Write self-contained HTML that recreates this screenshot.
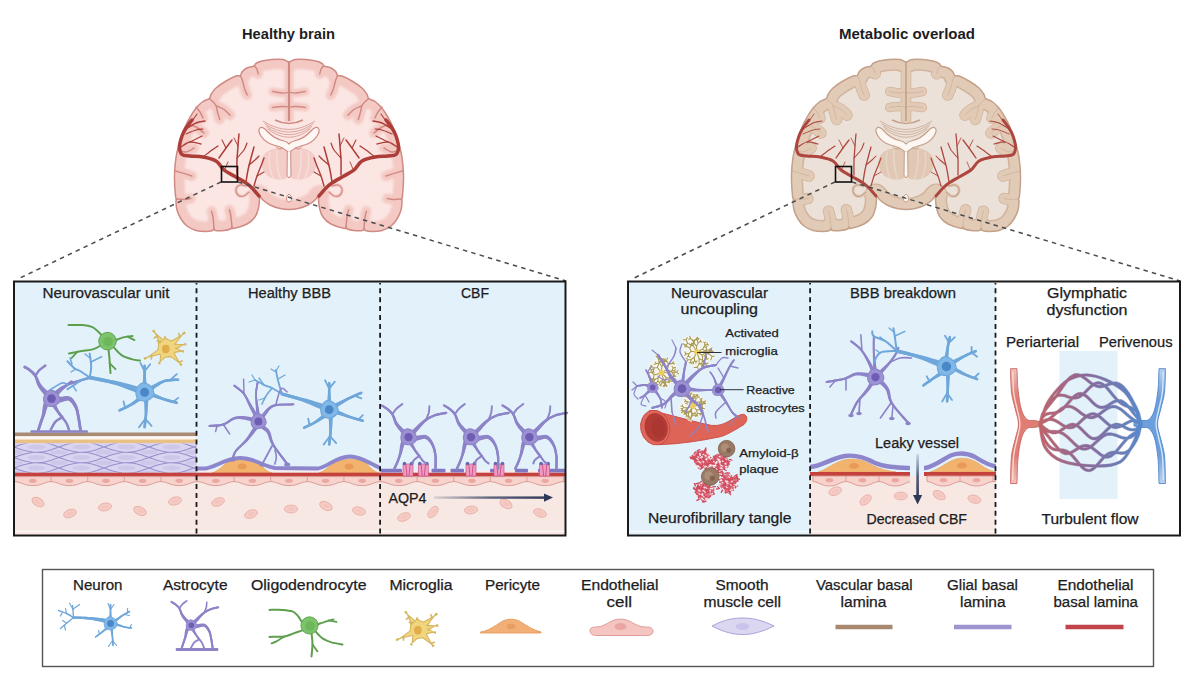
<!DOCTYPE html>
<html><head><meta charset="utf-8">
<style>
html,body{margin:0;padding:0;background:#fff;}
#c{position:relative;width:1200px;height:674px;overflow:hidden;background:#fff;}
svg{position:absolute;left:0;top:0;}
text{font-family:"Liberation Sans",sans-serif;fill:#1c1c22;stroke:#1c1c22;stroke-width:0.25px;}
</style></head><body><div id="c">
<svg width="1200" height="674" viewBox="0 0 1200 674">
<defs>
<linearGradient id="arrH" x1="0" x2="1" y1="0" y2="0"><stop offset="0" stop-color="#3a4668" stop-opacity="0.15"/><stop offset="0.5" stop-color="#3a4668" stop-opacity="0.8"/><stop offset="1" stop-color="#2e3858"/></linearGradient>
<linearGradient id="arrV" x1="0" x2="0" y1="0" y2="1"><stop offset="0" stop-color="#3a4668" stop-opacity="0.15"/><stop offset="0.5" stop-color="#3a4668" stop-opacity="0.85"/><stop offset="1" stop-color="#2e3858"/></linearGradient>
<linearGradient id="glyG" x1="0" x2="1" y1="0" y2="0"><stop offset="0" stop-color="#d9665e"/><stop offset="0.5" stop-color="#8a6a98"/><stop offset="1" stop-color="#4f8fd6"/></linearGradient>
</defs>

<!-- titles -->
<text x="242" y="38.5" font-size="15" font-weight="bold" style="stroke-width:0" textLength="93" lengthAdjust="spacingAndGlyphs">Healthy brain</text>
<text x="839" y="38.5" font-size="15" font-weight="bold" style="stroke-width:0" textLength="136" lengthAdjust="spacingAndGlyphs">Metabolic overload</text>

<defs><clipPath id="bclip"><path d="M289.0,62.0 C287.0,62.0 285.8,59.9 283.0,59.5 C280.2,59.1 275.5,59.2 272.0,59.5 C268.5,59.8 264.7,60.3 262.0,61.0 C259.3,61.7 257.3,62.7 256.0,63.5 C254.7,64.3 255.0,65.5 254.2,66.0 C253.4,66.5 252.4,66.4 251.0,66.8 C249.6,67.2 247.5,67.6 246.0,68.5 C244.5,69.4 242.9,70.8 242.0,72.0 C241.1,73.2 241.3,74.8 240.3,75.5 C239.3,76.2 238.4,75.1 236.0,76.0 C233.6,76.9 229.3,79.0 226.0,81.0 C222.7,83.0 218.5,85.8 216.0,88.0 C213.5,90.2 212.1,92.8 211.0,94.5 C209.9,96.2 210.6,97.3 209.3,98.5 C208.0,99.7 205.1,100.1 203.0,101.5 C200.9,102.9 198.8,104.9 197.0,107.0 C195.2,109.1 193.8,111.0 192.0,114.0 C190.2,117.0 187.8,121.0 186.0,125.0 C184.2,129.0 182.5,133.5 181.0,138.0 C179.5,142.5 178.0,147.3 177.0,152.0 C176.0,156.7 175.4,161.3 175.0,166.0 C174.6,170.7 174.4,175.0 174.5,180.0 C174.6,185.0 175.2,192.8 175.5,196.0 C175.8,199.2 176.4,198.0 176.5,199.0 C176.6,200.0 175.9,200.2 176.0,202.0 C176.1,203.8 176.2,207.2 177.0,210.0 C177.8,212.8 179.3,216.3 181.0,219.0 C182.7,221.7 184.5,224.1 187.0,226.0 C189.5,227.9 192.8,229.6 196.0,230.5 C199.2,231.4 203.2,231.5 206.0,231.5 C208.8,231.5 211.2,231.0 212.5,230.5 C213.8,230.0 213.5,228.5 214.0,228.5 C214.5,228.5 213.8,230.2 215.5,230.5 C217.2,230.8 221.5,230.8 224.0,230.5 C226.5,230.2 229.2,229.6 230.5,229.0 C231.8,228.4 231.5,227.1 232.0,227.0 C232.5,226.9 231.0,229.0 233.5,228.5 C236.0,228.0 243.4,225.9 247.0,224.0 C250.6,222.1 253.1,219.7 255.0,217.0 C256.9,214.3 257.8,211.0 258.5,208.0 C259.2,205.0 259.4,201.2 259.5,199.0 C259.6,196.8 258.4,194.8 259.0,195.0 C259.6,195.2 261.2,198.3 263.0,200.0 C264.8,201.7 267.2,203.6 270.0,205.0 C272.8,206.4 276.8,207.8 280.0,208.5 C283.2,209.2 286.0,209.5 289.0,209.5 C292.0,209.5 294.8,209.2 298.0,208.5 C301.2,207.8 305.2,206.4 308.0,205.0 C310.8,203.6 313.2,201.7 315.0,200.0 C316.8,198.3 318.4,195.2 319.0,195.0 C319.6,194.8 318.4,196.8 318.5,199.0 C318.6,201.2 318.8,205.0 319.5,208.0 C320.2,211.0 321.1,214.3 323.0,217.0 C324.9,219.7 327.4,222.1 331.0,224.0 C334.6,225.9 342.0,228.0 344.5,228.5 C347.0,229.0 345.5,226.9 346.0,227.0 C346.5,227.1 346.2,228.4 347.5,229.0 C348.8,229.6 351.5,230.2 354.0,230.5 C356.5,230.8 360.8,230.8 362.5,230.5 C364.2,230.2 363.5,228.5 364.0,228.5 C364.5,228.5 364.2,230.0 365.5,230.5 C366.8,231.0 369.2,231.5 372.0,231.5 C374.8,231.5 378.8,231.4 382.0,230.5 C385.2,229.6 388.5,227.9 391.0,226.0 C393.5,224.1 395.3,221.7 397.0,219.0 C398.7,216.3 400.2,212.8 401.0,210.0 C401.8,207.2 401.9,203.8 402.0,202.0 C402.1,200.2 401.4,200.0 401.5,199.0 C401.6,198.0 402.2,199.2 402.5,196.0 C402.8,192.8 403.4,185.0 403.5,180.0 C403.6,175.0 403.4,170.7 403.0,166.0 C402.6,161.3 402.0,156.7 401.0,152.0 C400.0,147.3 398.5,142.5 397.0,138.0 C395.5,133.5 393.8,129.0 392.0,125.0 C390.2,121.0 387.8,117.0 386.0,114.0 C384.2,111.0 382.8,109.1 381.0,107.0 C379.2,104.9 377.1,102.9 375.0,101.5 C372.9,100.1 370.0,99.7 368.7,98.5 C367.4,97.3 368.1,96.2 367.0,94.5 C365.9,92.8 364.5,90.2 362.0,88.0 C359.5,85.8 355.3,83.0 352.0,81.0 C348.7,79.0 344.4,76.9 342.0,76.0 C339.6,75.1 338.7,76.2 337.7,75.5 C336.7,74.8 336.9,73.2 336.0,72.0 C335.1,70.8 333.5,69.4 332.0,68.5 C330.5,67.6 328.4,67.2 327.0,66.8 C325.6,66.4 324.6,66.5 323.8,66.0 C323.0,65.5 323.3,64.3 322.0,63.5 C320.7,62.7 318.7,61.7 316.0,61.0 C313.3,60.3 309.5,59.8 306.0,59.5 C302.5,59.2 297.8,59.1 295.0,59.5 C292.2,59.9 291.0,62.0 289.0,62.0Z"/></clipPath><filter id="bblur" x="-10%" y="-10%" width="120%" height="120%"><feGaussianBlur stdDeviation="1.3"/></filter></defs>
<g transform="translate(0,0)">
<path d="M289.0,62.0 C287.0,62.0 285.8,59.9 283.0,59.5 C280.2,59.1 275.5,59.2 272.0,59.5 C268.5,59.8 264.7,60.3 262.0,61.0 C259.3,61.7 257.3,62.7 256.0,63.5 C254.7,64.3 255.0,65.5 254.2,66.0 C253.4,66.5 252.4,66.4 251.0,66.8 C249.6,67.2 247.5,67.6 246.0,68.5 C244.5,69.4 242.9,70.8 242.0,72.0 C241.1,73.2 241.3,74.8 240.3,75.5 C239.3,76.2 238.4,75.1 236.0,76.0 C233.6,76.9 229.3,79.0 226.0,81.0 C222.7,83.0 218.5,85.8 216.0,88.0 C213.5,90.2 212.1,92.8 211.0,94.5 C209.9,96.2 210.6,97.3 209.3,98.5 C208.0,99.7 205.1,100.1 203.0,101.5 C200.9,102.9 198.8,104.9 197.0,107.0 C195.2,109.1 193.8,111.0 192.0,114.0 C190.2,117.0 187.8,121.0 186.0,125.0 C184.2,129.0 182.5,133.5 181.0,138.0 C179.5,142.5 178.0,147.3 177.0,152.0 C176.0,156.7 175.4,161.3 175.0,166.0 C174.6,170.7 174.4,175.0 174.5,180.0 C174.6,185.0 175.2,192.8 175.5,196.0 C175.8,199.2 176.4,198.0 176.5,199.0 C176.6,200.0 175.9,200.2 176.0,202.0 C176.1,203.8 176.2,207.2 177.0,210.0 C177.8,212.8 179.3,216.3 181.0,219.0 C182.7,221.7 184.5,224.1 187.0,226.0 C189.5,227.9 192.8,229.6 196.0,230.5 C199.2,231.4 203.2,231.5 206.0,231.5 C208.8,231.5 211.2,231.0 212.5,230.5 C213.8,230.0 213.5,228.5 214.0,228.5 C214.5,228.5 213.8,230.2 215.5,230.5 C217.2,230.8 221.5,230.8 224.0,230.5 C226.5,230.2 229.2,229.6 230.5,229.0 C231.8,228.4 231.5,227.1 232.0,227.0 C232.5,226.9 231.0,229.0 233.5,228.5 C236.0,228.0 243.4,225.9 247.0,224.0 C250.6,222.1 253.1,219.7 255.0,217.0 C256.9,214.3 257.8,211.0 258.5,208.0 C259.2,205.0 259.4,201.2 259.5,199.0 C259.6,196.8 258.4,194.8 259.0,195.0 C259.6,195.2 261.2,198.3 263.0,200.0 C264.8,201.7 267.2,203.6 270.0,205.0 C272.8,206.4 276.8,207.8 280.0,208.5 C283.2,209.2 286.0,209.5 289.0,209.5 C292.0,209.5 294.8,209.2 298.0,208.5 C301.2,207.8 305.2,206.4 308.0,205.0 C310.8,203.6 313.2,201.7 315.0,200.0 C316.8,198.3 318.4,195.2 319.0,195.0 C319.6,194.8 318.4,196.8 318.5,199.0 C318.6,201.2 318.8,205.0 319.5,208.0 C320.2,211.0 321.1,214.3 323.0,217.0 C324.9,219.7 327.4,222.1 331.0,224.0 C334.6,225.9 342.0,228.0 344.5,228.5 C347.0,229.0 345.5,226.9 346.0,227.0 C346.5,227.1 346.2,228.4 347.5,229.0 C348.8,229.6 351.5,230.2 354.0,230.5 C356.5,230.8 360.8,230.8 362.5,230.5 C364.2,230.2 363.5,228.5 364.0,228.5 C364.5,228.5 364.2,230.0 365.5,230.5 C366.8,231.0 369.2,231.5 372.0,231.5 C374.8,231.5 378.8,231.4 382.0,230.5 C385.2,229.6 388.5,227.9 391.0,226.0 C393.5,224.1 395.3,221.7 397.0,219.0 C398.7,216.3 400.2,212.8 401.0,210.0 C401.8,207.2 401.9,203.8 402.0,202.0 C402.1,200.2 401.4,200.0 401.5,199.0 C401.6,198.0 402.2,199.2 402.5,196.0 C402.8,192.8 403.4,185.0 403.5,180.0 C403.6,175.0 403.4,170.7 403.0,166.0 C402.6,161.3 402.0,156.7 401.0,152.0 C400.0,147.3 398.5,142.5 397.0,138.0 C395.5,133.5 393.8,129.0 392.0,125.0 C390.2,121.0 387.8,117.0 386.0,114.0 C384.2,111.0 382.8,109.1 381.0,107.0 C379.2,104.9 377.1,102.9 375.0,101.5 C372.9,100.1 370.0,99.7 368.7,98.5 C367.4,97.3 368.1,96.2 367.0,94.5 C365.9,92.8 364.5,90.2 362.0,88.0 C359.5,85.8 355.3,83.0 352.0,81.0 C348.7,79.0 344.4,76.9 342.0,76.0 C339.6,75.1 338.7,76.2 337.7,75.5 C336.7,74.8 336.9,73.2 336.0,72.0 C335.1,70.8 333.5,69.4 332.0,68.5 C330.5,67.6 328.4,67.2 327.0,66.8 C325.6,66.4 324.6,66.5 323.8,66.0 C323.0,65.5 323.3,64.3 322.0,63.5 C320.7,62.7 318.7,61.7 316.0,61.0 C313.3,60.3 309.5,59.8 306.0,59.5 C302.5,59.2 297.8,59.1 295.0,59.5 C292.2,59.9 291.0,62.0 289.0,62.0Z" fill="#fbe6e3"/>
<g clip-path="url(#bclip)"><g filter="url(#bblur)">
<path d="M289.0,62.0 C287.0,62.0 285.8,59.9 283.0,59.5 C280.2,59.1 275.5,59.2 272.0,59.5 C268.5,59.8 264.7,60.3 262.0,61.0 C259.3,61.7 257.3,62.7 256.0,63.5 C254.7,64.3 255.0,65.5 254.2,66.0 C253.4,66.5 252.4,66.4 251.0,66.8 C249.6,67.2 247.5,67.6 246.0,68.5 C244.5,69.4 242.9,70.8 242.0,72.0 C241.1,73.2 241.3,74.8 240.3,75.5 C239.3,76.2 238.4,75.1 236.0,76.0 C233.6,76.9 229.3,79.0 226.0,81.0 C222.7,83.0 218.5,85.8 216.0,88.0 C213.5,90.2 212.1,92.8 211.0,94.5 C209.9,96.2 210.6,97.3 209.3,98.5 C208.0,99.7 205.1,100.1 203.0,101.5 C200.9,102.9 198.8,104.9 197.0,107.0 C195.2,109.1 193.8,111.0 192.0,114.0 C190.2,117.0 187.8,121.0 186.0,125.0 C184.2,129.0 182.5,133.5 181.0,138.0 C179.5,142.5 178.0,147.3 177.0,152.0 C176.0,156.7 175.4,161.3 175.0,166.0 C174.6,170.7 174.4,175.0 174.5,180.0 C174.6,185.0 175.2,192.8 175.5,196.0 C175.8,199.2 176.4,198.0 176.5,199.0 C176.6,200.0 175.9,200.2 176.0,202.0 C176.1,203.8 176.2,207.2 177.0,210.0 C177.8,212.8 179.3,216.3 181.0,219.0 C182.7,221.7 184.5,224.1 187.0,226.0 C189.5,227.9 192.8,229.6 196.0,230.5 C199.2,231.4 203.2,231.5 206.0,231.5 C208.8,231.5 211.2,231.0 212.5,230.5 C213.8,230.0 213.5,228.5 214.0,228.5 C214.5,228.5 213.8,230.2 215.5,230.5 C217.2,230.8 221.5,230.8 224.0,230.5 C226.5,230.2 229.2,229.6 230.5,229.0 C231.8,228.4 231.5,227.1 232.0,227.0 C232.5,226.9 231.0,229.0 233.5,228.5 C236.0,228.0 243.4,225.9 247.0,224.0 C250.6,222.1 253.1,219.7 255.0,217.0 C256.9,214.3 257.8,211.0 258.5,208.0 C259.2,205.0 259.4,201.2 259.5,199.0 C259.6,196.8 258.4,194.8 259.0,195.0 C259.6,195.2 261.2,198.3 263.0,200.0 C264.8,201.7 267.2,203.6 270.0,205.0 C272.8,206.4 276.8,207.8 280.0,208.5 C283.2,209.2 286.0,209.5 289.0,209.5 C292.0,209.5 294.8,209.2 298.0,208.5 C301.2,207.8 305.2,206.4 308.0,205.0 C310.8,203.6 313.2,201.7 315.0,200.0 C316.8,198.3 318.4,195.2 319.0,195.0 C319.6,194.8 318.4,196.8 318.5,199.0 C318.6,201.2 318.8,205.0 319.5,208.0 C320.2,211.0 321.1,214.3 323.0,217.0 C324.9,219.7 327.4,222.1 331.0,224.0 C334.6,225.9 342.0,228.0 344.5,228.5 C347.0,229.0 345.5,226.9 346.0,227.0 C346.5,227.1 346.2,228.4 347.5,229.0 C348.8,229.6 351.5,230.2 354.0,230.5 C356.5,230.8 360.8,230.8 362.5,230.5 C364.2,230.2 363.5,228.5 364.0,228.5 C364.5,228.5 364.2,230.0 365.5,230.5 C366.8,231.0 369.2,231.5 372.0,231.5 C374.8,231.5 378.8,231.4 382.0,230.5 C385.2,229.6 388.5,227.9 391.0,226.0 C393.5,224.1 395.3,221.7 397.0,219.0 C398.7,216.3 400.2,212.8 401.0,210.0 C401.8,207.2 401.9,203.8 402.0,202.0 C402.1,200.2 401.4,200.0 401.5,199.0 C401.6,198.0 402.2,199.2 402.5,196.0 C402.8,192.8 403.4,185.0 403.5,180.0 C403.6,175.0 403.4,170.7 403.0,166.0 C402.6,161.3 402.0,156.7 401.0,152.0 C400.0,147.3 398.5,142.5 397.0,138.0 C395.5,133.5 393.8,129.0 392.0,125.0 C390.2,121.0 387.8,117.0 386.0,114.0 C384.2,111.0 382.8,109.1 381.0,107.0 C379.2,104.9 377.1,102.9 375.0,101.5 C372.9,100.1 370.0,99.7 368.7,98.5 C367.4,97.3 368.1,96.2 367.0,94.5 C365.9,92.8 364.5,90.2 362.0,88.0 C359.5,85.8 355.3,83.0 352.0,81.0 C348.7,79.0 344.4,76.9 342.0,76.0 C339.6,75.1 338.7,76.2 337.7,75.5 C336.7,74.8 336.9,73.2 336.0,72.0 C335.1,70.8 333.5,69.4 332.0,68.5 C330.5,67.6 328.4,67.2 327.0,66.8 C325.6,66.4 324.6,66.5 323.8,66.0 C323.0,65.5 323.3,64.3 322.0,63.5 C320.7,62.7 318.7,61.7 316.0,61.0 C313.3,60.3 309.5,59.8 306.0,59.5 C302.5,59.2 297.8,59.1 295.0,59.5 C292.2,59.9 291.0,62.0 289.0,62.0Z" fill="none" stroke="#f4c9c4" stroke-width="20"/>
<path d="M240.3,75.5 C240.7,76.4 241.9,78.7 242.6,81.0 C243.3,83.3 243.9,87.0 244.7,89.3 C245.5,91.6 246.8,94.0 247.2,95.0" fill="none" stroke="#f4c9c4" stroke-width="10" stroke-linecap="round"/>
<path d="M254.2,66.0 C254.6,66.4 255.9,67.2 256.6,68.5 C257.3,69.8 257.9,72.8 258.2,73.7" fill="none" stroke="#f4c9c4" stroke-width="10" stroke-linecap="round"/>
<path d="M209.3,98.5 C210.4,99.5 214.2,102.5 215.6,104.8 C217.0,107.0 216.8,109.6 217.5,112.0 C218.2,114.4 219.3,118.2 219.7,119.4" fill="none" stroke="#f4c9c4" stroke-width="10" stroke-linecap="round"/>
<path d="M216.6,105.9 C217.8,106.5 221.8,108.0 224.0,109.5 C226.2,111.0 229.0,114.2 230.0,115.2" fill="none" stroke="#f4c9c4" stroke-width="10" stroke-linecap="round"/>
<path d="M196.0,107.0 C196.7,107.8 198.8,110.2 200.0,112.0 C201.2,113.8 202.5,117.0 203.0,118.0" fill="none" stroke="#f4c9c4" stroke-width="10" stroke-linecap="round"/>
<path d="M187.0,124.0 C188.5,124.5 193.2,125.5 196.0,127.0 C198.8,128.5 202.7,132.0 204.0,133.0" fill="none" stroke="#f4c9c4" stroke-width="10" stroke-linecap="round"/>
<path d="M176.0,199.0 C177.5,199.1 182.3,199.5 184.8,199.4 C187.3,199.3 189.8,198.7 190.8,198.6" fill="none" stroke="#f4c9c4" stroke-width="10" stroke-linecap="round"/>
<path d="M175.5,171.0 C177.3,171.5 183.6,173.3 186.3,174.1 C189.1,174.9 191.1,175.7 192.0,176.0" fill="none" stroke="#f4c9c4" stroke-width="10" stroke-linecap="round"/>
<path d="M214.0,228.5 C213.8,226.6 213.4,220.1 213.0,217.2 C212.6,214.3 211.8,212.2 211.6,211.2" fill="none" stroke="#f4c9c4" stroke-width="10" stroke-linecap="round"/>
<path d="M232.0,227.0 C231.8,225.1 231.2,218.6 230.8,215.7 C230.4,212.8 229.6,210.8 229.4,209.8" fill="none" stroke="#f4c9c4" stroke-width="10" stroke-linecap="round"/>
<path d="M178.0,150.0 C179.3,150.3 183.3,152.3 186.0,152.0 C188.7,151.7 192.7,148.7 194.0,148.0" fill="none" stroke="#f4c9c4" stroke-width="10" stroke-linecap="round"/>
<path d="M337.7,75.5 C337.3,76.4 336.1,78.7 335.4,81.0 C334.7,83.3 334.1,87.0 333.3,89.3 C332.5,91.6 331.2,94.0 330.8,95.0" fill="none" stroke="#f4c9c4" stroke-width="10" stroke-linecap="round"/>
<path d="M323.8,66.0 C323.4,66.4 322.1,67.2 321.4,68.5 C320.7,69.8 320.1,72.8 319.8,73.7" fill="none" stroke="#f4c9c4" stroke-width="10" stroke-linecap="round"/>
<path d="M368.7,98.5 C367.6,99.5 363.8,102.5 362.4,104.8 C361.0,107.0 361.2,109.6 360.5,112.0 C359.8,114.4 358.7,118.2 358.3,119.4" fill="none" stroke="#f4c9c4" stroke-width="10" stroke-linecap="round"/>
<path d="M361.4,105.9 C360.2,106.5 356.2,108.0 354.0,109.5 C351.8,111.0 349.0,114.2 348.0,115.2" fill="none" stroke="#f4c9c4" stroke-width="10" stroke-linecap="round"/>
<path d="M382.0,107.0 C381.3,107.8 379.2,110.2 378.0,112.0 C376.8,113.8 375.5,117.0 375.0,118.0" fill="none" stroke="#f4c9c4" stroke-width="10" stroke-linecap="round"/>
<path d="M391.0,124.0 C389.5,124.5 384.8,125.5 382.0,127.0 C379.2,128.5 375.3,132.0 374.0,133.0" fill="none" stroke="#f4c9c4" stroke-width="10" stroke-linecap="round"/>
<path d="M402.0,199.0 C400.5,199.1 395.7,199.5 393.2,199.4 C390.7,199.3 388.2,198.7 387.2,198.6" fill="none" stroke="#f4c9c4" stroke-width="10" stroke-linecap="round"/>
<path d="M402.5,171.0 C400.7,171.5 394.4,173.3 391.7,174.1 C388.9,174.9 386.9,175.7 386.0,176.0" fill="none" stroke="#f4c9c4" stroke-width="10" stroke-linecap="round"/>
<path d="M364.0,228.5 C364.2,226.6 364.6,220.1 365.0,217.2 C365.4,214.3 366.2,212.2 366.4,211.2" fill="none" stroke="#f4c9c4" stroke-width="10" stroke-linecap="round"/>
<path d="M346.0,227.0 C346.2,225.1 346.8,218.6 347.2,215.7 C347.6,212.8 348.4,210.8 348.6,209.8" fill="none" stroke="#f4c9c4" stroke-width="10" stroke-linecap="round"/>
<path d="M400.0,150.0 C398.7,150.3 394.7,152.3 392.0,152.0 C389.3,151.7 385.3,148.7 384.0,148.0" fill="none" stroke="#f4c9c4" stroke-width="10" stroke-linecap="round"/>
<path d="M289.0,92.4 C287.8,92.5 284.7,93.2 282.0,93.0 C279.3,92.8 274.2,91.8 272.7,91.5" fill="none" stroke="#f4c9c4" stroke-width="8" stroke-linecap="round"/>
<path d="M289.0,107.0 C287.8,106.9 284.7,106.4 282.0,106.5 C279.3,106.6 274.2,107.3 272.7,107.5" fill="none" stroke="#f4c9c4" stroke-width="8" stroke-linecap="round"/>
<path d="M289.0,92.4 C290.2,92.5 293.3,93.2 296.0,93.0 C298.7,92.8 303.8,91.8 305.3,91.5" fill="none" stroke="#f4c9c4" stroke-width="8" stroke-linecap="round"/>
<path d="M289.0,107.0 C290.2,106.9 293.3,106.4 296.0,106.5 C298.7,106.6 303.8,107.3 305.3,107.5" fill="none" stroke="#f4c9c4" stroke-width="8" stroke-linecap="round"/>
<path d="M289,60 L289,122" stroke="#f4c9c4" stroke-width="9"/>
</g></g>
<path d="M240.3,75.5 C240.7,76.4 241.9,78.7 242.6,81.0 C243.3,83.3 243.9,87.0 244.7,89.3 C245.5,91.6 246.8,94.0 247.2,95.0" fill="none" stroke="#d08a84" stroke-width="1.5" stroke-linecap="round"/>
<path d="M254.2,66.0 C254.6,66.4 255.9,67.2 256.6,68.5 C257.3,69.8 257.9,72.8 258.2,73.7" fill="none" stroke="#d08a84" stroke-width="1.5" stroke-linecap="round"/>
<path d="M209.3,98.5 C210.4,99.5 214.2,102.5 215.6,104.8 C217.0,107.0 216.8,109.6 217.5,112.0 C218.2,114.4 219.3,118.2 219.7,119.4" fill="none" stroke="#d08a84" stroke-width="1.5" stroke-linecap="round"/>
<path d="M216.6,105.9 C217.8,106.5 221.8,108.0 224.0,109.5 C226.2,111.0 229.0,114.2 230.0,115.2" fill="none" stroke="#d08a84" stroke-width="1.5" stroke-linecap="round"/>
<path d="M196.0,107.0 C196.7,107.8 198.8,110.2 200.0,112.0 C201.2,113.8 202.5,117.0 203.0,118.0" fill="none" stroke="#d08a84" stroke-width="1.5" stroke-linecap="round"/>
<path d="M187.0,124.0 C188.5,124.5 193.2,125.5 196.0,127.0 C198.8,128.5 202.7,132.0 204.0,133.0" fill="none" stroke="#d08a84" stroke-width="1.5" stroke-linecap="round"/>
<path d="M176.0,199.0 C177.5,199.1 182.3,199.5 184.8,199.4 C187.3,199.3 189.8,198.7 190.8,198.6" fill="none" stroke="#d08a84" stroke-width="1.5" stroke-linecap="round"/>
<path d="M175.5,171.0 C177.3,171.5 183.6,173.3 186.3,174.1 C189.1,174.9 191.1,175.7 192.0,176.0" fill="none" stroke="#d08a84" stroke-width="1.5" stroke-linecap="round"/>
<path d="M214.0,228.5 C213.8,226.6 213.4,220.1 213.0,217.2 C212.6,214.3 211.8,212.2 211.6,211.2" fill="none" stroke="#d08a84" stroke-width="1.5" stroke-linecap="round"/>
<path d="M232.0,227.0 C231.8,225.1 231.2,218.6 230.8,215.7 C230.4,212.8 229.6,210.8 229.4,209.8" fill="none" stroke="#d08a84" stroke-width="1.5" stroke-linecap="round"/>
<path d="M178.0,150.0 C179.3,150.3 183.3,152.3 186.0,152.0 C188.7,151.7 192.7,148.7 194.0,148.0" fill="none" stroke="#d08a84" stroke-width="1.5" stroke-linecap="round"/>
<path d="M337.7,75.5 C337.3,76.4 336.1,78.7 335.4,81.0 C334.7,83.3 334.1,87.0 333.3,89.3 C332.5,91.6 331.2,94.0 330.8,95.0" fill="none" stroke="#d08a84" stroke-width="1.5" stroke-linecap="round"/>
<path d="M323.8,66.0 C323.4,66.4 322.1,67.2 321.4,68.5 C320.7,69.8 320.1,72.8 319.8,73.7" fill="none" stroke="#d08a84" stroke-width="1.5" stroke-linecap="round"/>
<path d="M368.7,98.5 C367.6,99.5 363.8,102.5 362.4,104.8 C361.0,107.0 361.2,109.6 360.5,112.0 C359.8,114.4 358.7,118.2 358.3,119.4" fill="none" stroke="#d08a84" stroke-width="1.5" stroke-linecap="round"/>
<path d="M361.4,105.9 C360.2,106.5 356.2,108.0 354.0,109.5 C351.8,111.0 349.0,114.2 348.0,115.2" fill="none" stroke="#d08a84" stroke-width="1.5" stroke-linecap="round"/>
<path d="M382.0,107.0 C381.3,107.8 379.2,110.2 378.0,112.0 C376.8,113.8 375.5,117.0 375.0,118.0" fill="none" stroke="#d08a84" stroke-width="1.5" stroke-linecap="round"/>
<path d="M391.0,124.0 C389.5,124.5 384.8,125.5 382.0,127.0 C379.2,128.5 375.3,132.0 374.0,133.0" fill="none" stroke="#d08a84" stroke-width="1.5" stroke-linecap="round"/>
<path d="M402.0,199.0 C400.5,199.1 395.7,199.5 393.2,199.4 C390.7,199.3 388.2,198.7 387.2,198.6" fill="none" stroke="#d08a84" stroke-width="1.5" stroke-linecap="round"/>
<path d="M402.5,171.0 C400.7,171.5 394.4,173.3 391.7,174.1 C388.9,174.9 386.9,175.7 386.0,176.0" fill="none" stroke="#d08a84" stroke-width="1.5" stroke-linecap="round"/>
<path d="M364.0,228.5 C364.2,226.6 364.6,220.1 365.0,217.2 C365.4,214.3 366.2,212.2 366.4,211.2" fill="none" stroke="#d08a84" stroke-width="1.5" stroke-linecap="round"/>
<path d="M346.0,227.0 C346.2,225.1 346.8,218.6 347.2,215.7 C347.6,212.8 348.4,210.8 348.6,209.8" fill="none" stroke="#d08a84" stroke-width="1.5" stroke-linecap="round"/>
<path d="M400.0,150.0 C398.7,150.3 394.7,152.3 392.0,152.0 C389.3,151.7 385.3,148.7 384.0,148.0" fill="none" stroke="#d08a84" stroke-width="1.5" stroke-linecap="round"/>
<path d="M289.0,92.4 C287.8,92.5 284.7,93.2 282.0,93.0 C279.3,92.8 274.2,91.8 272.7,91.5" fill="none" stroke="#d08a84" stroke-width="1.3" stroke-linecap="round"/>
<path d="M289.0,107.0 C287.8,106.9 284.7,106.4 282.0,106.5 C279.3,106.6 274.2,107.3 272.7,107.5" fill="none" stroke="#d08a84" stroke-width="1.3" stroke-linecap="round"/>
<path d="M289.0,92.4 C290.2,92.5 293.3,93.2 296.0,93.0 C298.7,92.8 303.8,91.8 305.3,91.5" fill="none" stroke="#d08a84" stroke-width="1.3" stroke-linecap="round"/>
<path d="M289.0,107.0 C290.2,106.9 293.3,106.4 296.0,106.5 C298.7,106.6 303.8,107.3 305.3,107.5" fill="none" stroke="#d08a84" stroke-width="1.3" stroke-linecap="round"/>
<path d="M289,61 L289,121" fill="none" stroke="#d08a84" stroke-width="2.2"/><path d="M275,120 Q289,127 303,120" fill="none" stroke="#d08a84" stroke-width="1.6"/>
<path d="M263,121 Q289,138 315,121" fill="none" stroke="#d08a84" stroke-width="0.9" opacity="0.8"/>
<path d="M264.5,123.6 Q289,140.6 313.5,123.6" fill="none" stroke="#d08a84" stroke-width="0.9" opacity="0.8"/>
<path d="M266,126.2 Q289,143.2 312,126.2" fill="none" stroke="#d08a84" stroke-width="0.9" opacity="0.8"/>
<path d="M267.5,128.8 Q289,145.8 310.5,128.8" fill="none" stroke="#d08a84" stroke-width="0.9" opacity="0.8"/>
<path d="M289,149 C280,146 268,148 263,156 C259,165 263,176 274,179 C281,181 287,179 289,176 C291,179 297,181 304,179 C315,176 319,165 315,156 C310,148 298,146 289,149Z" fill="#f3cdc8"/>
<g stroke="#fbe6e3" stroke-width="1.6" opacity="0.55" fill="none"><path d="M270,152 C268,162 270,172 274,180 M277,150 C276,160 278,172 281,181 M301,150 C302,160 300,172 297,181 M308,152 C310,162 308,172 304,180"/></g>
<path d="M289,144 C288,143 287,141.5 284,141 C277,139.5 271,135.5 267,131 C264,127.5 261,126.5 259.5,128.5 C258.5,130 259,133 261,136 C264,141 270,144.5 277,146 C282,147 286,150 289,153 C292,150 296,147 301,146 C308,144.5 314,141 317,136 C319,133 319.5,130 318.5,128.5 C317,126.5 314,127.5 311,131 C307,135.5 301,139.5 294,141 C291,141.5 290,143 289,144 Z" fill="#fdf7f4" stroke="#d08a84" stroke-width="1.2"/>
<path d="M287.3,152 L287,175 Q289,180.5 291,175 L290.7,152" fill="#fdf7f4" stroke="#d08a84" stroke-width="1"/>
<path d="M276,146.5 C278,149.5 281,149.5 283,147.5 M302,146.5 C300,149.5 297,149.5 295,147.5" fill="none" stroke="#d08a84" stroke-width="1"/>
<path d="M286.5,200 Q286,195 289,194 Q292,195 291.5,200 Q291,202 289,202 Q287,202 286.5,200Z" fill="#fdf7f4" stroke="#d08a84" stroke-width="1"/>
<path d="M246.0,186.0 C245.0,185.8 241.7,184.5 240.0,185.0 C238.3,185.5 236.3,187.3 236.0,189.0 C235.7,190.7 236.7,193.8 238.0,195.0 C239.3,196.2 242.2,196.5 244.0,196.0 C245.8,195.5 248.2,192.7 249.0,192.0" fill="none" stroke="#f4c9c4" stroke-width="3.2" stroke-linecap="round"/>
<path d="M246.0,186.0 C245.0,185.8 241.7,184.5 240.0,185.0 C238.3,185.5 236.3,187.3 236.0,189.0 C235.7,190.7 236.7,193.8 238.0,195.0 C239.3,196.2 242.2,196.5 244.0,196.0 C245.8,195.5 248.2,192.7 249.0,192.0" fill="none" stroke="#d08a84" stroke-width="1.1" stroke-linecap="round"/>
<path d="M332.0,186.0 C333.0,185.8 336.3,184.5 338.0,185.0 C339.7,185.5 341.7,187.3 342.0,189.0 C342.3,190.7 341.3,193.8 340.0,195.0 C338.7,196.2 335.8,196.5 334.0,196.0 C332.2,195.5 329.8,192.7 329.0,192.0" fill="none" stroke="#f4c9c4" stroke-width="3.2" stroke-linecap="round"/>
<path d="M332.0,186.0 C333.0,185.8 336.3,184.5 338.0,185.0 C339.7,185.5 341.7,187.3 342.0,189.0 C342.3,190.7 341.3,193.8 340.0,195.0 C338.7,196.2 335.8,196.5 334.0,196.0 C332.2,195.5 329.8,192.7 329.0,192.0" fill="none" stroke="#d08a84" stroke-width="1.1" stroke-linecap="round"/>
<path d="M289.0,62.0 C287.0,62.0 285.8,59.9 283.0,59.5 C280.2,59.1 275.5,59.2 272.0,59.5 C268.5,59.8 264.7,60.3 262.0,61.0 C259.3,61.7 257.3,62.7 256.0,63.5 C254.7,64.3 255.0,65.5 254.2,66.0 C253.4,66.5 252.4,66.4 251.0,66.8 C249.6,67.2 247.5,67.6 246.0,68.5 C244.5,69.4 242.9,70.8 242.0,72.0 C241.1,73.2 241.3,74.8 240.3,75.5 C239.3,76.2 238.4,75.1 236.0,76.0 C233.6,76.9 229.3,79.0 226.0,81.0 C222.7,83.0 218.5,85.8 216.0,88.0 C213.5,90.2 212.1,92.8 211.0,94.5 C209.9,96.2 210.6,97.3 209.3,98.5 C208.0,99.7 205.1,100.1 203.0,101.5 C200.9,102.9 198.8,104.9 197.0,107.0 C195.2,109.1 193.8,111.0 192.0,114.0 C190.2,117.0 187.8,121.0 186.0,125.0 C184.2,129.0 182.5,133.5 181.0,138.0 C179.5,142.5 178.0,147.3 177.0,152.0 C176.0,156.7 175.4,161.3 175.0,166.0 C174.6,170.7 174.4,175.0 174.5,180.0 C174.6,185.0 175.2,192.8 175.5,196.0 C175.8,199.2 176.4,198.0 176.5,199.0 C176.6,200.0 175.9,200.2 176.0,202.0 C176.1,203.8 176.2,207.2 177.0,210.0 C177.8,212.8 179.3,216.3 181.0,219.0 C182.7,221.7 184.5,224.1 187.0,226.0 C189.5,227.9 192.8,229.6 196.0,230.5 C199.2,231.4 203.2,231.5 206.0,231.5 C208.8,231.5 211.2,231.0 212.5,230.5 C213.8,230.0 213.5,228.5 214.0,228.5 C214.5,228.5 213.8,230.2 215.5,230.5 C217.2,230.8 221.5,230.8 224.0,230.5 C226.5,230.2 229.2,229.6 230.5,229.0 C231.8,228.4 231.5,227.1 232.0,227.0 C232.5,226.9 231.0,229.0 233.5,228.5 C236.0,228.0 243.4,225.9 247.0,224.0 C250.6,222.1 253.1,219.7 255.0,217.0 C256.9,214.3 257.8,211.0 258.5,208.0 C259.2,205.0 259.4,201.2 259.5,199.0 C259.6,196.8 258.4,194.8 259.0,195.0 C259.6,195.2 261.2,198.3 263.0,200.0 C264.8,201.7 267.2,203.6 270.0,205.0 C272.8,206.4 276.8,207.8 280.0,208.5 C283.2,209.2 286.0,209.5 289.0,209.5 C292.0,209.5 294.8,209.2 298.0,208.5 C301.2,207.8 305.2,206.4 308.0,205.0 C310.8,203.6 313.2,201.7 315.0,200.0 C316.8,198.3 318.4,195.2 319.0,195.0 C319.6,194.8 318.4,196.8 318.5,199.0 C318.6,201.2 318.8,205.0 319.5,208.0 C320.2,211.0 321.1,214.3 323.0,217.0 C324.9,219.7 327.4,222.1 331.0,224.0 C334.6,225.9 342.0,228.0 344.5,228.5 C347.0,229.0 345.5,226.9 346.0,227.0 C346.5,227.1 346.2,228.4 347.5,229.0 C348.8,229.6 351.5,230.2 354.0,230.5 C356.5,230.8 360.8,230.8 362.5,230.5 C364.2,230.2 363.5,228.5 364.0,228.5 C364.5,228.5 364.2,230.0 365.5,230.5 C366.8,231.0 369.2,231.5 372.0,231.5 C374.8,231.5 378.8,231.4 382.0,230.5 C385.2,229.6 388.5,227.9 391.0,226.0 C393.5,224.1 395.3,221.7 397.0,219.0 C398.7,216.3 400.2,212.8 401.0,210.0 C401.8,207.2 401.9,203.8 402.0,202.0 C402.1,200.2 401.4,200.0 401.5,199.0 C401.6,198.0 402.2,199.2 402.5,196.0 C402.8,192.8 403.4,185.0 403.5,180.0 C403.6,175.0 403.4,170.7 403.0,166.0 C402.6,161.3 402.0,156.7 401.0,152.0 C400.0,147.3 398.5,142.5 397.0,138.0 C395.5,133.5 393.8,129.0 392.0,125.0 C390.2,121.0 387.8,117.0 386.0,114.0 C384.2,111.0 382.8,109.1 381.0,107.0 C379.2,104.9 377.1,102.9 375.0,101.5 C372.9,100.1 370.0,99.7 368.7,98.5 C367.4,97.3 368.1,96.2 367.0,94.5 C365.9,92.8 364.5,90.2 362.0,88.0 C359.5,85.8 355.3,83.0 352.0,81.0 C348.7,79.0 344.4,76.9 342.0,76.0 C339.6,75.1 338.7,76.2 337.7,75.5 C336.7,74.8 336.9,73.2 336.0,72.0 C335.1,70.8 333.5,69.4 332.0,68.5 C330.5,67.6 328.4,67.2 327.0,66.8 C325.6,66.4 324.6,66.5 323.8,66.0 C323.0,65.5 323.3,64.3 322.0,63.5 C320.7,62.7 318.7,61.7 316.0,61.0 C313.3,60.3 309.5,59.8 306.0,59.5 C302.5,59.2 297.8,59.1 295.0,59.5 C292.2,59.9 291.0,62.0 289.0,62.0Z" fill="none" stroke="#d08a84" stroke-width="1.5"/>
</g>
<g transform="translate(0,0)" fill="none" stroke="#ad3d38" stroke-linecap="round" stroke-linejoin="round">
<path d="M259.0,196.0 C257.8,194.7 254.2,190.2 252.0,188.0 C249.8,185.8 248.8,184.9 246.0,183.0 C243.2,181.1 238.7,178.7 235.0,176.5 C231.3,174.3 227.2,172.6 224.0,170.0 C220.8,167.4 219.5,163.2 216.0,161.0 C212.5,158.8 207.3,157.8 203.0,157.0 C198.7,156.2 193.5,156.4 190.0,156.0 C186.5,155.6 183.8,156.0 182.0,154.5 C180.2,153.0 179.5,150.1 179.5,147.0 C179.5,143.9 180.9,139.2 182.0,136.0 C183.1,132.8 184.3,130.7 186.0,128.0 C187.7,125.3 191.0,121.3 192.0,120.0" stroke-width="3.5"/>
<path d="M319.0,196.0 C320.2,194.7 323.8,190.2 326.0,188.0 C328.2,185.8 329.2,184.9 332.0,183.0 C334.8,181.1 339.3,178.7 343.0,176.5 C346.7,174.3 350.8,172.6 354.0,170.0 C357.2,167.4 358.5,163.2 362.0,161.0 C365.5,158.8 370.7,157.8 375.0,157.0 C379.3,156.2 384.5,156.4 388.0,156.0 C391.5,155.6 394.2,156.0 396.0,154.5 C397.8,153.0 398.5,150.1 398.5,147.0 C398.5,143.9 397.1,139.2 396.0,136.0 C394.9,132.8 393.7,130.7 392.0,128.0 C390.3,125.3 387.0,121.3 386.0,120.0" stroke-width="3.5"/>
<path d="M181.0,147.0 C182.5,146.2 186.7,142.5 190.0,142.0 C193.3,141.5 199.2,143.7 201.0,144.0" stroke-width="1.4"/>
<path d="M397.0,147.0 C395.5,146.2 391.3,142.5 388.0,142.0 C384.7,141.5 378.8,143.7 377.0,144.0" stroke-width="1.4"/>
<path d="M190.0,142.0 C192.0,141.0 200.0,137.0 202.0,136.0" stroke-width="1.2"/>
<path d="M388.0,142.0 C386.0,141.0 378.0,137.0 376.0,136.0" stroke-width="1.2"/>
<path d="M186.0,129.0 C187.7,128.0 192.8,124.3 196.0,123.0 C199.2,121.7 203.5,121.3 205.0,121.0" stroke-width="1.4"/>
<path d="M392.0,129.0 C390.3,128.0 385.2,124.3 382.0,123.0 C378.8,121.7 374.5,121.3 373.0,121.0" stroke-width="1.4"/>
<path d="M186.0,134.0 C187.7,133.3 193.2,130.8 196.0,130.0 C198.8,129.2 201.8,129.2 203.0,129.0" stroke-width="1.1"/>
<path d="M392.0,134.0 C390.3,133.3 384.8,130.8 382.0,130.0 C379.2,129.2 376.2,129.2 375.0,129.0" stroke-width="1.1"/>
<path d="M192.0,121.0 C192.8,119.8 196.2,115.2 197.0,114.0" stroke-width="1.1"/>
<path d="M386.0,121.0 C385.2,119.8 381.8,115.2 381.0,114.0" stroke-width="1.1"/>
<path d="M203.0,157.0 C204.5,155.8 209.5,151.8 212.0,150.0 C214.5,148.2 217.0,146.7 218.0,146.0" stroke-width="1.3"/>
<path d="M375.0,157.0 C373.5,155.8 368.5,151.8 366.0,150.0 C363.5,148.2 361.0,146.7 360.0,146.0" stroke-width="1.3"/>
<path d="M219.0,158.0 C220.2,156.3 223.8,151.0 226.0,148.0 C228.2,145.0 231.0,141.3 232.0,140.0" stroke-width="1.5"/>
<path d="M359.0,158.0 C357.8,156.3 354.2,151.0 352.0,148.0 C349.8,145.0 347.0,141.3 346.0,140.0" stroke-width="1.5"/>
<path d="M226.0,148.0 C225.3,146.7 222.7,141.3 222.0,140.0" stroke-width="1.1"/>
<path d="M352.0,148.0 C352.7,146.7 355.3,141.3 356.0,140.0" stroke-width="1.1"/>
<path d="M237.0,175.0 C237.0,172.5 236.8,164.8 237.0,160.0 C237.2,155.2 237.7,150.3 238.0,146.0 C238.3,141.7 238.8,136.0 239.0,134.0" stroke-width="1.5"/>
<path d="M341.0,175.0 C341.0,172.5 341.2,164.8 341.0,160.0 C340.8,155.2 340.3,150.3 340.0,146.0 C339.7,141.7 339.2,136.0 339.0,134.0" stroke-width="1.5"/>
<path d="M237.0,158.0 C238.2,156.7 242.3,152.5 244.0,150.0 C245.7,147.5 246.5,144.2 247.0,143.0" stroke-width="1.2"/>
<path d="M341.0,158.0 C339.8,156.7 335.7,152.5 334.0,150.0 C332.3,147.5 331.5,144.2 331.0,143.0" stroke-width="1.2"/>
<path d="M238.0,146.0 C237.3,144.7 234.7,139.3 234.0,138.0" stroke-width="1"/>
<path d="M340.0,146.0 C340.7,144.7 343.3,139.3 344.0,138.0" stroke-width="1"/>
<path d="M246.0,182.0 C246.3,180.0 247.2,174.0 248.0,170.0 C248.8,166.0 250.0,161.8 251.0,158.0 C252.0,154.2 253.5,148.8 254.0,147.0" stroke-width="1.5"/>
<path d="M332.0,182.0 C331.7,180.0 330.8,174.0 330.0,170.0 C329.2,166.0 328.0,161.8 327.0,158.0 C326.0,154.2 324.5,148.8 324.0,147.0" stroke-width="1.5"/>
<path d="M249.0,165.0 C250.0,164.2 253.3,161.5 255.0,160.0 C256.7,158.5 258.3,156.7 259.0,156.0" stroke-width="1.2"/>
<path d="M329.0,165.0 C328.0,164.2 324.7,161.5 323.0,160.0 C321.3,158.5 319.7,156.7 319.0,156.0" stroke-width="1.2"/>
<path d="M254.0,186.0 C254.5,184.3 255.8,179.3 257.0,176.0 C258.2,172.7 259.8,169.0 261.0,166.0 C262.2,163.0 263.5,159.3 264.0,158.0" stroke-width="1.4"/>
<path d="M324.0,186.0 C323.5,184.3 322.2,179.3 321.0,176.0 C319.8,172.7 318.2,169.0 317.0,166.0 C315.8,163.0 314.5,159.3 314.0,158.0" stroke-width="1.4"/>
<path d="M257.0,176.0 C258.2,175.3 262.8,172.7 264.0,172.0" stroke-width="1.1"/>
<path d="M321.0,176.0 C319.8,175.3 315.2,172.7 314.0,172.0" stroke-width="1.1"/>
<path d="M225.0,169.0 C225.5,167.8 227.5,163.2 228.0,162.0" stroke-width="1"/>
<path d="M353.0,169.0 C352.5,167.8 350.5,163.2 350.0,162.0" stroke-width="1"/>
</g>
<g transform="translate(617,0)">
<path d="M289.0,62.0 C287.0,62.0 285.8,59.9 283.0,59.5 C280.2,59.1 275.5,59.2 272.0,59.5 C268.5,59.8 264.7,60.3 262.0,61.0 C259.3,61.7 257.3,62.7 256.0,63.5 C254.7,64.3 255.0,65.5 254.2,66.0 C253.4,66.5 252.4,66.4 251.0,66.8 C249.6,67.2 247.5,67.6 246.0,68.5 C244.5,69.4 242.9,70.8 242.0,72.0 C241.1,73.2 241.3,74.8 240.3,75.5 C239.3,76.2 238.4,75.1 236.0,76.0 C233.6,76.9 229.3,79.0 226.0,81.0 C222.7,83.0 218.5,85.8 216.0,88.0 C213.5,90.2 212.1,92.8 211.0,94.5 C209.9,96.2 210.6,97.3 209.3,98.5 C208.0,99.7 205.1,100.1 203.0,101.5 C200.9,102.9 198.8,104.9 197.0,107.0 C195.2,109.1 193.8,111.0 192.0,114.0 C190.2,117.0 187.8,121.0 186.0,125.0 C184.2,129.0 182.5,133.5 181.0,138.0 C179.5,142.5 178.0,147.3 177.0,152.0 C176.0,156.7 175.4,161.3 175.0,166.0 C174.6,170.7 174.4,175.0 174.5,180.0 C174.6,185.0 175.2,192.8 175.5,196.0 C175.8,199.2 176.4,198.0 176.5,199.0 C176.6,200.0 175.9,200.2 176.0,202.0 C176.1,203.8 176.2,207.2 177.0,210.0 C177.8,212.8 179.3,216.3 181.0,219.0 C182.7,221.7 184.5,224.1 187.0,226.0 C189.5,227.9 192.8,229.6 196.0,230.5 C199.2,231.4 203.2,231.5 206.0,231.5 C208.8,231.5 211.2,231.0 212.5,230.5 C213.8,230.0 213.5,228.5 214.0,228.5 C214.5,228.5 213.8,230.2 215.5,230.5 C217.2,230.8 221.5,230.8 224.0,230.5 C226.5,230.2 229.2,229.6 230.5,229.0 C231.8,228.4 231.5,227.1 232.0,227.0 C232.5,226.9 231.0,229.0 233.5,228.5 C236.0,228.0 243.4,225.9 247.0,224.0 C250.6,222.1 253.1,219.7 255.0,217.0 C256.9,214.3 257.8,211.0 258.5,208.0 C259.2,205.0 259.4,201.2 259.5,199.0 C259.6,196.8 258.4,194.8 259.0,195.0 C259.6,195.2 261.2,198.3 263.0,200.0 C264.8,201.7 267.2,203.6 270.0,205.0 C272.8,206.4 276.8,207.8 280.0,208.5 C283.2,209.2 286.0,209.5 289.0,209.5 C292.0,209.5 294.8,209.2 298.0,208.5 C301.2,207.8 305.2,206.4 308.0,205.0 C310.8,203.6 313.2,201.7 315.0,200.0 C316.8,198.3 318.4,195.2 319.0,195.0 C319.6,194.8 318.4,196.8 318.5,199.0 C318.6,201.2 318.8,205.0 319.5,208.0 C320.2,211.0 321.1,214.3 323.0,217.0 C324.9,219.7 327.4,222.1 331.0,224.0 C334.6,225.9 342.0,228.0 344.5,228.5 C347.0,229.0 345.5,226.9 346.0,227.0 C346.5,227.1 346.2,228.4 347.5,229.0 C348.8,229.6 351.5,230.2 354.0,230.5 C356.5,230.8 360.8,230.8 362.5,230.5 C364.2,230.2 363.5,228.5 364.0,228.5 C364.5,228.5 364.2,230.0 365.5,230.5 C366.8,231.0 369.2,231.5 372.0,231.5 C374.8,231.5 378.8,231.4 382.0,230.5 C385.2,229.6 388.5,227.9 391.0,226.0 C393.5,224.1 395.3,221.7 397.0,219.0 C398.7,216.3 400.2,212.8 401.0,210.0 C401.8,207.2 401.9,203.8 402.0,202.0 C402.1,200.2 401.4,200.0 401.5,199.0 C401.6,198.0 402.2,199.2 402.5,196.0 C402.8,192.8 403.4,185.0 403.5,180.0 C403.6,175.0 403.4,170.7 403.0,166.0 C402.6,161.3 402.0,156.7 401.0,152.0 C400.0,147.3 398.5,142.5 397.0,138.0 C395.5,133.5 393.8,129.0 392.0,125.0 C390.2,121.0 387.8,117.0 386.0,114.0 C384.2,111.0 382.8,109.1 381.0,107.0 C379.2,104.9 377.1,102.9 375.0,101.5 C372.9,100.1 370.0,99.7 368.7,98.5 C367.4,97.3 368.1,96.2 367.0,94.5 C365.9,92.8 364.5,90.2 362.0,88.0 C359.5,85.8 355.3,83.0 352.0,81.0 C348.7,79.0 344.4,76.9 342.0,76.0 C339.6,75.1 338.7,76.2 337.7,75.5 C336.7,74.8 336.9,73.2 336.0,72.0 C335.1,70.8 333.5,69.4 332.0,68.5 C330.5,67.6 328.4,67.2 327.0,66.8 C325.6,66.4 324.6,66.5 323.8,66.0 C323.0,65.5 323.3,64.3 322.0,63.5 C320.7,62.7 318.7,61.7 316.0,61.0 C313.3,60.3 309.5,59.8 306.0,59.5 C302.5,59.2 297.8,59.1 295.0,59.5 C292.2,59.9 291.0,62.0 289.0,62.0Z" fill="#ece1d8"/>
<g clip-path="url(#bclip)">
<path d="M289.0,62.0 C287.0,62.0 285.8,59.9 283.0,59.5 C280.2,59.1 275.5,59.2 272.0,59.5 C268.5,59.8 264.7,60.3 262.0,61.0 C259.3,61.7 257.3,62.7 256.0,63.5 C254.7,64.3 255.0,65.5 254.2,66.0 C253.4,66.5 252.4,66.4 251.0,66.8 C249.6,67.2 247.5,67.6 246.0,68.5 C244.5,69.4 242.9,70.8 242.0,72.0 C241.1,73.2 241.3,74.8 240.3,75.5 C239.3,76.2 238.4,75.1 236.0,76.0 C233.6,76.9 229.3,79.0 226.0,81.0 C222.7,83.0 218.5,85.8 216.0,88.0 C213.5,90.2 212.1,92.8 211.0,94.5 C209.9,96.2 210.6,97.3 209.3,98.5 C208.0,99.7 205.1,100.1 203.0,101.5 C200.9,102.9 198.8,104.9 197.0,107.0 C195.2,109.1 193.8,111.0 192.0,114.0 C190.2,117.0 187.8,121.0 186.0,125.0 C184.2,129.0 182.5,133.5 181.0,138.0 C179.5,142.5 178.0,147.3 177.0,152.0 C176.0,156.7 175.4,161.3 175.0,166.0 C174.6,170.7 174.4,175.0 174.5,180.0 C174.6,185.0 175.2,192.8 175.5,196.0 C175.8,199.2 176.4,198.0 176.5,199.0 C176.6,200.0 175.9,200.2 176.0,202.0 C176.1,203.8 176.2,207.2 177.0,210.0 C177.8,212.8 179.3,216.3 181.0,219.0 C182.7,221.7 184.5,224.1 187.0,226.0 C189.5,227.9 192.8,229.6 196.0,230.5 C199.2,231.4 203.2,231.5 206.0,231.5 C208.8,231.5 211.2,231.0 212.5,230.5 C213.8,230.0 213.5,228.5 214.0,228.5 C214.5,228.5 213.8,230.2 215.5,230.5 C217.2,230.8 221.5,230.8 224.0,230.5 C226.5,230.2 229.2,229.6 230.5,229.0 C231.8,228.4 231.5,227.1 232.0,227.0 C232.5,226.9 231.0,229.0 233.5,228.5 C236.0,228.0 243.4,225.9 247.0,224.0 C250.6,222.1 253.1,219.7 255.0,217.0 C256.9,214.3 257.8,211.0 258.5,208.0 C259.2,205.0 259.4,201.2 259.5,199.0 C259.6,196.8 258.4,194.8 259.0,195.0 C259.6,195.2 261.2,198.3 263.0,200.0 C264.8,201.7 267.2,203.6 270.0,205.0 C272.8,206.4 276.8,207.8 280.0,208.5 C283.2,209.2 286.0,209.5 289.0,209.5 C292.0,209.5 294.8,209.2 298.0,208.5 C301.2,207.8 305.2,206.4 308.0,205.0 C310.8,203.6 313.2,201.7 315.0,200.0 C316.8,198.3 318.4,195.2 319.0,195.0 C319.6,194.8 318.4,196.8 318.5,199.0 C318.6,201.2 318.8,205.0 319.5,208.0 C320.2,211.0 321.1,214.3 323.0,217.0 C324.9,219.7 327.4,222.1 331.0,224.0 C334.6,225.9 342.0,228.0 344.5,228.5 C347.0,229.0 345.5,226.9 346.0,227.0 C346.5,227.1 346.2,228.4 347.5,229.0 C348.8,229.6 351.5,230.2 354.0,230.5 C356.5,230.8 360.8,230.8 362.5,230.5 C364.2,230.2 363.5,228.5 364.0,228.5 C364.5,228.5 364.2,230.0 365.5,230.5 C366.8,231.0 369.2,231.5 372.0,231.5 C374.8,231.5 378.8,231.4 382.0,230.5 C385.2,229.6 388.5,227.9 391.0,226.0 C393.5,224.1 395.3,221.7 397.0,219.0 C398.7,216.3 400.2,212.8 401.0,210.0 C401.8,207.2 401.9,203.8 402.0,202.0 C402.1,200.2 401.4,200.0 401.5,199.0 C401.6,198.0 402.2,199.2 402.5,196.0 C402.8,192.8 403.4,185.0 403.5,180.0 C403.6,175.0 403.4,170.7 403.0,166.0 C402.6,161.3 402.0,156.7 401.0,152.0 C400.0,147.3 398.5,142.5 397.0,138.0 C395.5,133.5 393.8,129.0 392.0,125.0 C390.2,121.0 387.8,117.0 386.0,114.0 C384.2,111.0 382.8,109.1 381.0,107.0 C379.2,104.9 377.1,102.9 375.0,101.5 C372.9,100.1 370.0,99.7 368.7,98.5 C367.4,97.3 368.1,96.2 367.0,94.5 C365.9,92.8 364.5,90.2 362.0,88.0 C359.5,85.8 355.3,83.0 352.0,81.0 C348.7,79.0 344.4,76.9 342.0,76.0 C339.6,75.1 338.7,76.2 337.7,75.5 C336.7,74.8 336.9,73.2 336.0,72.0 C335.1,70.8 333.5,69.4 332.0,68.5 C330.5,67.6 328.4,67.2 327.0,66.8 C325.6,66.4 324.6,66.5 323.8,66.0 C323.0,65.5 323.3,64.3 322.0,63.5 C320.7,62.7 318.7,61.7 316.0,61.0 C313.3,60.3 309.5,59.8 306.0,59.5 C302.5,59.2 297.8,59.1 295.0,59.5 C292.2,59.9 291.0,62.0 289.0,62.0Z" fill="none" stroke="#d1b59e" stroke-width="23.2"/>
<path d="M240.3,75.5 C240.7,76.4 241.9,78.7 242.6,81.0 C243.3,83.3 243.9,87.0 244.7,89.3 C245.5,91.6 246.8,94.0 247.2,95.0" fill="none" stroke="#d1b59e" stroke-width="11.6" stroke-linecap="round"/>
<path d="M254.2,66.0 C254.6,66.4 255.9,67.2 256.6,68.5 C257.3,69.8 257.9,72.8 258.2,73.7" fill="none" stroke="#d1b59e" stroke-width="11.6" stroke-linecap="round"/>
<path d="M209.3,98.5 C210.4,99.5 214.2,102.5 215.6,104.8 C217.0,107.0 216.8,109.6 217.5,112.0 C218.2,114.4 219.3,118.2 219.7,119.4" fill="none" stroke="#d1b59e" stroke-width="11.6" stroke-linecap="round"/>
<path d="M216.6,105.9 C217.8,106.5 221.8,108.0 224.0,109.5 C226.2,111.0 229.0,114.2 230.0,115.2" fill="none" stroke="#d1b59e" stroke-width="11.6" stroke-linecap="round"/>
<path d="M196.0,107.0 C196.7,107.8 198.8,110.2 200.0,112.0 C201.2,113.8 202.5,117.0 203.0,118.0" fill="none" stroke="#d1b59e" stroke-width="11.6" stroke-linecap="round"/>
<path d="M187.0,124.0 C188.5,124.5 193.2,125.5 196.0,127.0 C198.8,128.5 202.7,132.0 204.0,133.0" fill="none" stroke="#d1b59e" stroke-width="11.6" stroke-linecap="round"/>
<path d="M176.0,199.0 C177.5,199.1 182.3,199.5 184.8,199.4 C187.3,199.3 189.8,198.7 190.8,198.6" fill="none" stroke="#d1b59e" stroke-width="11.6" stroke-linecap="round"/>
<path d="M175.5,171.0 C177.3,171.5 183.6,173.3 186.3,174.1 C189.1,174.9 191.1,175.7 192.0,176.0" fill="none" stroke="#d1b59e" stroke-width="11.6" stroke-linecap="round"/>
<path d="M214.0,228.5 C213.8,226.6 213.4,220.1 213.0,217.2 C212.6,214.3 211.8,212.2 211.6,211.2" fill="none" stroke="#d1b59e" stroke-width="11.6" stroke-linecap="round"/>
<path d="M232.0,227.0 C231.8,225.1 231.2,218.6 230.8,215.7 C230.4,212.8 229.6,210.8 229.4,209.8" fill="none" stroke="#d1b59e" stroke-width="11.6" stroke-linecap="round"/>
<path d="M178.0,150.0 C179.3,150.3 183.3,152.3 186.0,152.0 C188.7,151.7 192.7,148.7 194.0,148.0" fill="none" stroke="#d1b59e" stroke-width="11.6" stroke-linecap="round"/>
<path d="M337.7,75.5 C337.3,76.4 336.1,78.7 335.4,81.0 C334.7,83.3 334.1,87.0 333.3,89.3 C332.5,91.6 331.2,94.0 330.8,95.0" fill="none" stroke="#d1b59e" stroke-width="11.6" stroke-linecap="round"/>
<path d="M323.8,66.0 C323.4,66.4 322.1,67.2 321.4,68.5 C320.7,69.8 320.1,72.8 319.8,73.7" fill="none" stroke="#d1b59e" stroke-width="11.6" stroke-linecap="round"/>
<path d="M368.7,98.5 C367.6,99.5 363.8,102.5 362.4,104.8 C361.0,107.0 361.2,109.6 360.5,112.0 C359.8,114.4 358.7,118.2 358.3,119.4" fill="none" stroke="#d1b59e" stroke-width="11.6" stroke-linecap="round"/>
<path d="M361.4,105.9 C360.2,106.5 356.2,108.0 354.0,109.5 C351.8,111.0 349.0,114.2 348.0,115.2" fill="none" stroke="#d1b59e" stroke-width="11.6" stroke-linecap="round"/>
<path d="M382.0,107.0 C381.3,107.8 379.2,110.2 378.0,112.0 C376.8,113.8 375.5,117.0 375.0,118.0" fill="none" stroke="#d1b59e" stroke-width="11.6" stroke-linecap="round"/>
<path d="M391.0,124.0 C389.5,124.5 384.8,125.5 382.0,127.0 C379.2,128.5 375.3,132.0 374.0,133.0" fill="none" stroke="#d1b59e" stroke-width="11.6" stroke-linecap="round"/>
<path d="M402.0,199.0 C400.5,199.1 395.7,199.5 393.2,199.4 C390.7,199.3 388.2,198.7 387.2,198.6" fill="none" stroke="#d1b59e" stroke-width="11.6" stroke-linecap="round"/>
<path d="M402.5,171.0 C400.7,171.5 394.4,173.3 391.7,174.1 C388.9,174.9 386.9,175.7 386.0,176.0" fill="none" stroke="#d1b59e" stroke-width="11.6" stroke-linecap="round"/>
<path d="M364.0,228.5 C364.2,226.6 364.6,220.1 365.0,217.2 C365.4,214.3 366.2,212.2 366.4,211.2" fill="none" stroke="#d1b59e" stroke-width="11.6" stroke-linecap="round"/>
<path d="M346.0,227.0 C346.2,225.1 346.8,218.6 347.2,215.7 C347.6,212.8 348.4,210.8 348.6,209.8" fill="none" stroke="#d1b59e" stroke-width="11.6" stroke-linecap="round"/>
<path d="M400.0,150.0 C398.7,150.3 394.7,152.3 392.0,152.0 C389.3,151.7 385.3,148.7 384.0,148.0" fill="none" stroke="#d1b59e" stroke-width="11.6" stroke-linecap="round"/>
<path d="M289.0,92.4 C287.8,92.5 284.7,93.2 282.0,93.0 C279.3,92.8 274.2,91.8 272.7,91.5" fill="none" stroke="#d1b59e" stroke-width="9.6" stroke-linecap="round"/>
<path d="M289.0,107.0 C287.8,106.9 284.7,106.4 282.0,106.5 C279.3,106.6 274.2,107.3 272.7,107.5" fill="none" stroke="#d1b59e" stroke-width="9.6" stroke-linecap="round"/>
<path d="M289.0,92.4 C290.2,92.5 293.3,93.2 296.0,93.0 C298.7,92.8 303.8,91.8 305.3,91.5" fill="none" stroke="#d1b59e" stroke-width="9.6" stroke-linecap="round"/>
<path d="M289.0,107.0 C290.2,106.9 293.3,106.4 296.0,106.5 C298.7,106.6 303.8,107.3 305.3,107.5" fill="none" stroke="#d1b59e" stroke-width="9.6" stroke-linecap="round"/>
<path d="M289,60 L289,122" stroke="#d1b59e" stroke-width="10.6"/>
<path d="M289.0,62.0 C287.0,62.0 285.8,59.9 283.0,59.5 C280.2,59.1 275.5,59.2 272.0,59.5 C268.5,59.8 264.7,60.3 262.0,61.0 C259.3,61.7 257.3,62.7 256.0,63.5 C254.7,64.3 255.0,65.5 254.2,66.0 C253.4,66.5 252.4,66.4 251.0,66.8 C249.6,67.2 247.5,67.6 246.0,68.5 C244.5,69.4 242.9,70.8 242.0,72.0 C241.1,73.2 241.3,74.8 240.3,75.5 C239.3,76.2 238.4,75.1 236.0,76.0 C233.6,76.9 229.3,79.0 226.0,81.0 C222.7,83.0 218.5,85.8 216.0,88.0 C213.5,90.2 212.1,92.8 211.0,94.5 C209.9,96.2 210.6,97.3 209.3,98.5 C208.0,99.7 205.1,100.1 203.0,101.5 C200.9,102.9 198.8,104.9 197.0,107.0 C195.2,109.1 193.8,111.0 192.0,114.0 C190.2,117.0 187.8,121.0 186.0,125.0 C184.2,129.0 182.5,133.5 181.0,138.0 C179.5,142.5 178.0,147.3 177.0,152.0 C176.0,156.7 175.4,161.3 175.0,166.0 C174.6,170.7 174.4,175.0 174.5,180.0 C174.6,185.0 175.2,192.8 175.5,196.0 C175.8,199.2 176.4,198.0 176.5,199.0 C176.6,200.0 175.9,200.2 176.0,202.0 C176.1,203.8 176.2,207.2 177.0,210.0 C177.8,212.8 179.3,216.3 181.0,219.0 C182.7,221.7 184.5,224.1 187.0,226.0 C189.5,227.9 192.8,229.6 196.0,230.5 C199.2,231.4 203.2,231.5 206.0,231.5 C208.8,231.5 211.2,231.0 212.5,230.5 C213.8,230.0 213.5,228.5 214.0,228.5 C214.5,228.5 213.8,230.2 215.5,230.5 C217.2,230.8 221.5,230.8 224.0,230.5 C226.5,230.2 229.2,229.6 230.5,229.0 C231.8,228.4 231.5,227.1 232.0,227.0 C232.5,226.9 231.0,229.0 233.5,228.5 C236.0,228.0 243.4,225.9 247.0,224.0 C250.6,222.1 253.1,219.7 255.0,217.0 C256.9,214.3 257.8,211.0 258.5,208.0 C259.2,205.0 259.4,201.2 259.5,199.0 C259.6,196.8 258.4,194.8 259.0,195.0 C259.6,195.2 261.2,198.3 263.0,200.0 C264.8,201.7 267.2,203.6 270.0,205.0 C272.8,206.4 276.8,207.8 280.0,208.5 C283.2,209.2 286.0,209.5 289.0,209.5 C292.0,209.5 294.8,209.2 298.0,208.5 C301.2,207.8 305.2,206.4 308.0,205.0 C310.8,203.6 313.2,201.7 315.0,200.0 C316.8,198.3 318.4,195.2 319.0,195.0 C319.6,194.8 318.4,196.8 318.5,199.0 C318.6,201.2 318.8,205.0 319.5,208.0 C320.2,211.0 321.1,214.3 323.0,217.0 C324.9,219.7 327.4,222.1 331.0,224.0 C334.6,225.9 342.0,228.0 344.5,228.5 C347.0,229.0 345.5,226.9 346.0,227.0 C346.5,227.1 346.2,228.4 347.5,229.0 C348.8,229.6 351.5,230.2 354.0,230.5 C356.5,230.8 360.8,230.8 362.5,230.5 C364.2,230.2 363.5,228.5 364.0,228.5 C364.5,228.5 364.2,230.0 365.5,230.5 C366.8,231.0 369.2,231.5 372.0,231.5 C374.8,231.5 378.8,231.4 382.0,230.5 C385.2,229.6 388.5,227.9 391.0,226.0 C393.5,224.1 395.3,221.7 397.0,219.0 C398.7,216.3 400.2,212.8 401.0,210.0 C401.8,207.2 401.9,203.8 402.0,202.0 C402.1,200.2 401.4,200.0 401.5,199.0 C401.6,198.0 402.2,199.2 402.5,196.0 C402.8,192.8 403.4,185.0 403.5,180.0 C403.6,175.0 403.4,170.7 403.0,166.0 C402.6,161.3 402.0,156.7 401.0,152.0 C400.0,147.3 398.5,142.5 397.0,138.0 C395.5,133.5 393.8,129.0 392.0,125.0 C390.2,121.0 387.8,117.0 386.0,114.0 C384.2,111.0 382.8,109.1 381.0,107.0 C379.2,104.9 377.1,102.9 375.0,101.5 C372.9,100.1 370.0,99.7 368.7,98.5 C367.4,97.3 368.1,96.2 367.0,94.5 C365.9,92.8 364.5,90.2 362.0,88.0 C359.5,85.8 355.3,83.0 352.0,81.0 C348.7,79.0 344.4,76.9 342.0,76.0 C339.6,75.1 338.7,76.2 337.7,75.5 C336.7,74.8 336.9,73.2 336.0,72.0 C335.1,70.8 333.5,69.4 332.0,68.5 C330.5,67.6 328.4,67.2 327.0,66.8 C325.6,66.4 324.6,66.5 323.8,66.0 C323.0,65.5 323.3,64.3 322.0,63.5 C320.7,62.7 318.7,61.7 316.0,61.0 C313.3,60.3 309.5,59.8 306.0,59.5 C302.5,59.2 297.8,59.1 295.0,59.5 C292.2,59.9 291.0,62.0 289.0,62.0Z" fill="none" stroke="#e2cbb6" stroke-width="20"/>
<path d="M240.3,75.5 C240.7,76.4 241.9,78.7 242.6,81.0 C243.3,83.3 243.9,87.0 244.7,89.3 C245.5,91.6 246.8,94.0 247.2,95.0" fill="none" stroke="#e2cbb6" stroke-width="10" stroke-linecap="round"/>
<path d="M254.2,66.0 C254.6,66.4 255.9,67.2 256.6,68.5 C257.3,69.8 257.9,72.8 258.2,73.7" fill="none" stroke="#e2cbb6" stroke-width="10" stroke-linecap="round"/>
<path d="M209.3,98.5 C210.4,99.5 214.2,102.5 215.6,104.8 C217.0,107.0 216.8,109.6 217.5,112.0 C218.2,114.4 219.3,118.2 219.7,119.4" fill="none" stroke="#e2cbb6" stroke-width="10" stroke-linecap="round"/>
<path d="M216.6,105.9 C217.8,106.5 221.8,108.0 224.0,109.5 C226.2,111.0 229.0,114.2 230.0,115.2" fill="none" stroke="#e2cbb6" stroke-width="10" stroke-linecap="round"/>
<path d="M196.0,107.0 C196.7,107.8 198.8,110.2 200.0,112.0 C201.2,113.8 202.5,117.0 203.0,118.0" fill="none" stroke="#e2cbb6" stroke-width="10" stroke-linecap="round"/>
<path d="M187.0,124.0 C188.5,124.5 193.2,125.5 196.0,127.0 C198.8,128.5 202.7,132.0 204.0,133.0" fill="none" stroke="#e2cbb6" stroke-width="10" stroke-linecap="round"/>
<path d="M176.0,199.0 C177.5,199.1 182.3,199.5 184.8,199.4 C187.3,199.3 189.8,198.7 190.8,198.6" fill="none" stroke="#e2cbb6" stroke-width="10" stroke-linecap="round"/>
<path d="M175.5,171.0 C177.3,171.5 183.6,173.3 186.3,174.1 C189.1,174.9 191.1,175.7 192.0,176.0" fill="none" stroke="#e2cbb6" stroke-width="10" stroke-linecap="round"/>
<path d="M214.0,228.5 C213.8,226.6 213.4,220.1 213.0,217.2 C212.6,214.3 211.8,212.2 211.6,211.2" fill="none" stroke="#e2cbb6" stroke-width="10" stroke-linecap="round"/>
<path d="M232.0,227.0 C231.8,225.1 231.2,218.6 230.8,215.7 C230.4,212.8 229.6,210.8 229.4,209.8" fill="none" stroke="#e2cbb6" stroke-width="10" stroke-linecap="round"/>
<path d="M178.0,150.0 C179.3,150.3 183.3,152.3 186.0,152.0 C188.7,151.7 192.7,148.7 194.0,148.0" fill="none" stroke="#e2cbb6" stroke-width="10" stroke-linecap="round"/>
<path d="M337.7,75.5 C337.3,76.4 336.1,78.7 335.4,81.0 C334.7,83.3 334.1,87.0 333.3,89.3 C332.5,91.6 331.2,94.0 330.8,95.0" fill="none" stroke="#e2cbb6" stroke-width="10" stroke-linecap="round"/>
<path d="M323.8,66.0 C323.4,66.4 322.1,67.2 321.4,68.5 C320.7,69.8 320.1,72.8 319.8,73.7" fill="none" stroke="#e2cbb6" stroke-width="10" stroke-linecap="round"/>
<path d="M368.7,98.5 C367.6,99.5 363.8,102.5 362.4,104.8 C361.0,107.0 361.2,109.6 360.5,112.0 C359.8,114.4 358.7,118.2 358.3,119.4" fill="none" stroke="#e2cbb6" stroke-width="10" stroke-linecap="round"/>
<path d="M361.4,105.9 C360.2,106.5 356.2,108.0 354.0,109.5 C351.8,111.0 349.0,114.2 348.0,115.2" fill="none" stroke="#e2cbb6" stroke-width="10" stroke-linecap="round"/>
<path d="M382.0,107.0 C381.3,107.8 379.2,110.2 378.0,112.0 C376.8,113.8 375.5,117.0 375.0,118.0" fill="none" stroke="#e2cbb6" stroke-width="10" stroke-linecap="round"/>
<path d="M391.0,124.0 C389.5,124.5 384.8,125.5 382.0,127.0 C379.2,128.5 375.3,132.0 374.0,133.0" fill="none" stroke="#e2cbb6" stroke-width="10" stroke-linecap="round"/>
<path d="M402.0,199.0 C400.5,199.1 395.7,199.5 393.2,199.4 C390.7,199.3 388.2,198.7 387.2,198.6" fill="none" stroke="#e2cbb6" stroke-width="10" stroke-linecap="round"/>
<path d="M402.5,171.0 C400.7,171.5 394.4,173.3 391.7,174.1 C388.9,174.9 386.9,175.7 386.0,176.0" fill="none" stroke="#e2cbb6" stroke-width="10" stroke-linecap="round"/>
<path d="M364.0,228.5 C364.2,226.6 364.6,220.1 365.0,217.2 C365.4,214.3 366.2,212.2 366.4,211.2" fill="none" stroke="#e2cbb6" stroke-width="10" stroke-linecap="round"/>
<path d="M346.0,227.0 C346.2,225.1 346.8,218.6 347.2,215.7 C347.6,212.8 348.4,210.8 348.6,209.8" fill="none" stroke="#e2cbb6" stroke-width="10" stroke-linecap="round"/>
<path d="M400.0,150.0 C398.7,150.3 394.7,152.3 392.0,152.0 C389.3,151.7 385.3,148.7 384.0,148.0" fill="none" stroke="#e2cbb6" stroke-width="10" stroke-linecap="round"/>
<path d="M289.0,92.4 C287.8,92.5 284.7,93.2 282.0,93.0 C279.3,92.8 274.2,91.8 272.7,91.5" fill="none" stroke="#e2cbb6" stroke-width="8" stroke-linecap="round"/>
<path d="M289.0,107.0 C287.8,106.9 284.7,106.4 282.0,106.5 C279.3,106.6 274.2,107.3 272.7,107.5" fill="none" stroke="#e2cbb6" stroke-width="8" stroke-linecap="round"/>
<path d="M289.0,92.4 C290.2,92.5 293.3,93.2 296.0,93.0 C298.7,92.8 303.8,91.8 305.3,91.5" fill="none" stroke="#e2cbb6" stroke-width="8" stroke-linecap="round"/>
<path d="M289.0,107.0 C290.2,106.9 293.3,106.4 296.0,106.5 C298.7,106.6 303.8,107.3 305.3,107.5" fill="none" stroke="#e2cbb6" stroke-width="8" stroke-linecap="round"/>
<path d="M289,60 L289,122" stroke="#e2cbb6" stroke-width="9"/>
</g>
<path d="M240.3,75.5 C240.7,76.4 241.9,78.7 242.6,81.0 C243.3,83.3 243.9,87.0 244.7,89.3 C245.5,91.6 246.8,94.0 247.2,95.0" fill="none" stroke="#c4a18a" stroke-width="1" stroke-linecap="round" opacity="0.5"/>
<path d="M254.2,66.0 C254.6,66.4 255.9,67.2 256.6,68.5 C257.3,69.8 257.9,72.8 258.2,73.7" fill="none" stroke="#c4a18a" stroke-width="1" stroke-linecap="round" opacity="0.5"/>
<path d="M209.3,98.5 C210.4,99.5 214.2,102.5 215.6,104.8 C217.0,107.0 216.8,109.6 217.5,112.0 C218.2,114.4 219.3,118.2 219.7,119.4" fill="none" stroke="#c4a18a" stroke-width="1" stroke-linecap="round" opacity="0.5"/>
<path d="M216.6,105.9 C217.8,106.5 221.8,108.0 224.0,109.5 C226.2,111.0 229.0,114.2 230.0,115.2" fill="none" stroke="#c4a18a" stroke-width="1" stroke-linecap="round" opacity="0.5"/>
<path d="M196.0,107.0 C196.7,107.8 198.8,110.2 200.0,112.0 C201.2,113.8 202.5,117.0 203.0,118.0" fill="none" stroke="#c4a18a" stroke-width="1" stroke-linecap="round" opacity="0.5"/>
<path d="M187.0,124.0 C188.5,124.5 193.2,125.5 196.0,127.0 C198.8,128.5 202.7,132.0 204.0,133.0" fill="none" stroke="#c4a18a" stroke-width="1" stroke-linecap="round" opacity="0.5"/>
<path d="M176.0,199.0 C177.5,199.1 182.3,199.5 184.8,199.4 C187.3,199.3 189.8,198.7 190.8,198.6" fill="none" stroke="#c4a18a" stroke-width="1" stroke-linecap="round" opacity="0.5"/>
<path d="M175.5,171.0 C177.3,171.5 183.6,173.3 186.3,174.1 C189.1,174.9 191.1,175.7 192.0,176.0" fill="none" stroke="#c4a18a" stroke-width="1" stroke-linecap="round" opacity="0.5"/>
<path d="M214.0,228.5 C213.8,226.6 213.4,220.1 213.0,217.2 C212.6,214.3 211.8,212.2 211.6,211.2" fill="none" stroke="#c4a18a" stroke-width="1" stroke-linecap="round" opacity="0.5"/>
<path d="M232.0,227.0 C231.8,225.1 231.2,218.6 230.8,215.7 C230.4,212.8 229.6,210.8 229.4,209.8" fill="none" stroke="#c4a18a" stroke-width="1" stroke-linecap="round" opacity="0.5"/>
<path d="M178.0,150.0 C179.3,150.3 183.3,152.3 186.0,152.0 C188.7,151.7 192.7,148.7 194.0,148.0" fill="none" stroke="#c4a18a" stroke-width="1" stroke-linecap="round" opacity="0.5"/>
<path d="M337.7,75.5 C337.3,76.4 336.1,78.7 335.4,81.0 C334.7,83.3 334.1,87.0 333.3,89.3 C332.5,91.6 331.2,94.0 330.8,95.0" fill="none" stroke="#c4a18a" stroke-width="1" stroke-linecap="round" opacity="0.5"/>
<path d="M323.8,66.0 C323.4,66.4 322.1,67.2 321.4,68.5 C320.7,69.8 320.1,72.8 319.8,73.7" fill="none" stroke="#c4a18a" stroke-width="1" stroke-linecap="round" opacity="0.5"/>
<path d="M368.7,98.5 C367.6,99.5 363.8,102.5 362.4,104.8 C361.0,107.0 361.2,109.6 360.5,112.0 C359.8,114.4 358.7,118.2 358.3,119.4" fill="none" stroke="#c4a18a" stroke-width="1" stroke-linecap="round" opacity="0.5"/>
<path d="M361.4,105.9 C360.2,106.5 356.2,108.0 354.0,109.5 C351.8,111.0 349.0,114.2 348.0,115.2" fill="none" stroke="#c4a18a" stroke-width="1" stroke-linecap="round" opacity="0.5"/>
<path d="M382.0,107.0 C381.3,107.8 379.2,110.2 378.0,112.0 C376.8,113.8 375.5,117.0 375.0,118.0" fill="none" stroke="#c4a18a" stroke-width="1" stroke-linecap="round" opacity="0.5"/>
<path d="M391.0,124.0 C389.5,124.5 384.8,125.5 382.0,127.0 C379.2,128.5 375.3,132.0 374.0,133.0" fill="none" stroke="#c4a18a" stroke-width="1" stroke-linecap="round" opacity="0.5"/>
<path d="M402.0,199.0 C400.5,199.1 395.7,199.5 393.2,199.4 C390.7,199.3 388.2,198.7 387.2,198.6" fill="none" stroke="#c4a18a" stroke-width="1" stroke-linecap="round" opacity="0.5"/>
<path d="M402.5,171.0 C400.7,171.5 394.4,173.3 391.7,174.1 C388.9,174.9 386.9,175.7 386.0,176.0" fill="none" stroke="#c4a18a" stroke-width="1" stroke-linecap="round" opacity="0.5"/>
<path d="M364.0,228.5 C364.2,226.6 364.6,220.1 365.0,217.2 C365.4,214.3 366.2,212.2 366.4,211.2" fill="none" stroke="#c4a18a" stroke-width="1" stroke-linecap="round" opacity="0.5"/>
<path d="M346.0,227.0 C346.2,225.1 346.8,218.6 347.2,215.7 C347.6,212.8 348.4,210.8 348.6,209.8" fill="none" stroke="#c4a18a" stroke-width="1" stroke-linecap="round" opacity="0.5"/>
<path d="M400.0,150.0 C398.7,150.3 394.7,152.3 392.0,152.0 C389.3,151.7 385.3,148.7 384.0,148.0" fill="none" stroke="#c4a18a" stroke-width="1" stroke-linecap="round" opacity="0.5"/>
<path d="M289.0,92.4 C287.8,92.5 284.7,93.2 282.0,93.0 C279.3,92.8 274.2,91.8 272.7,91.5" fill="none" stroke="#c4a18a" stroke-width="1" stroke-linecap="round" opacity="0.5"/>
<path d="M289.0,107.0 C287.8,106.9 284.7,106.4 282.0,106.5 C279.3,106.6 274.2,107.3 272.7,107.5" fill="none" stroke="#c4a18a" stroke-width="1" stroke-linecap="round" opacity="0.5"/>
<path d="M289.0,92.4 C290.2,92.5 293.3,93.2 296.0,93.0 C298.7,92.8 303.8,91.8 305.3,91.5" fill="none" stroke="#c4a18a" stroke-width="1" stroke-linecap="round" opacity="0.5"/>
<path d="M289.0,107.0 C290.2,106.9 293.3,106.4 296.0,106.5 C298.7,106.6 303.8,107.3 305.3,107.5" fill="none" stroke="#c4a18a" stroke-width="1" stroke-linecap="round" opacity="0.5"/>
<path d="M289,61 L289,121" fill="none" stroke="#c4a18a" stroke-width="1.6"/><path d="M275,120 Q289,127 303,120" fill="none" stroke="#c4a18a" stroke-width="1.4"/>
<path d="M263,121 Q289,138 315,121" fill="none" stroke="#c4a18a" stroke-width="0.9" opacity="0.8"/>
<path d="M264.5,123.6 Q289,140.6 313.5,123.6" fill="none" stroke="#c4a18a" stroke-width="0.9" opacity="0.8"/>
<path d="M266,126.2 Q289,143.2 312,126.2" fill="none" stroke="#c4a18a" stroke-width="0.9" opacity="0.8"/>
<path d="M267.5,128.8 Q289,145.8 310.5,128.8" fill="none" stroke="#c4a18a" stroke-width="0.9" opacity="0.8"/>
<path d="M289,149 C280,146 268,148 263,156 C259,165 263,176 274,179 C281,181 287,179 289,176 C291,179 297,181 304,179 C315,176 319,165 315,156 C310,148 298,146 289,149Z" fill="#e0c8b4"/>
<g stroke="#ece1d8" stroke-width="1.6" opacity="0.55" fill="none"><path d="M270,152 C268,162 270,172 274,180 M277,150 C276,160 278,172 281,181 M301,150 C302,160 300,172 297,181 M308,152 C310,162 308,172 304,180"/></g>
<path d="M289,144 C288,143 287,141.5 284,141 C277,139.5 271,135.5 267,131 C264,127.5 261,126.5 259.5,128.5 C258.5,130 259,133 261,136 C264,141 270,144.5 277,146 C282,147 286,150 289,153 C292,150 296,147 301,146 C308,144.5 314,141 317,136 C319,133 319.5,130 318.5,128.5 C317,126.5 314,127.5 311,131 C307,135.5 301,139.5 294,141 C291,141.5 290,143 289,144 Z" fill="#fdf7f4" stroke="#c4a18a" stroke-width="1.2"/>
<path d="M287.3,152 L287,175 Q289,180.5 291,175 L290.7,152" fill="#fdf7f4" stroke="#c4a18a" stroke-width="1"/>
<path d="M276,146.5 C278,149.5 281,149.5 283,147.5 M302,146.5 C300,149.5 297,149.5 295,147.5" fill="none" stroke="#c4a18a" stroke-width="1"/>
<path d="M286.5,200 Q286,195 289,194 Q292,195 291.5,200 Q291,202 289,202 Q287,202 286.5,200Z" fill="#fdf7f4" stroke="#c4a18a" stroke-width="1"/>
<path d="M246.0,186.0 C245.0,185.8 241.7,184.5 240.0,185.0 C238.3,185.5 236.3,187.3 236.0,189.0 C235.7,190.7 236.7,193.8 238.0,195.0 C239.3,196.2 242.2,196.5 244.0,196.0 C245.8,195.5 248.2,192.7 249.0,192.0" fill="none" stroke="#e2cbb6" stroke-width="3.2" stroke-linecap="round"/>
<path d="M246.0,186.0 C245.0,185.8 241.7,184.5 240.0,185.0 C238.3,185.5 236.3,187.3 236.0,189.0 C235.7,190.7 236.7,193.8 238.0,195.0 C239.3,196.2 242.2,196.5 244.0,196.0 C245.8,195.5 248.2,192.7 249.0,192.0" fill="none" stroke="#c4a18a" stroke-width="1.1" stroke-linecap="round"/>
<path d="M332.0,186.0 C333.0,185.8 336.3,184.5 338.0,185.0 C339.7,185.5 341.7,187.3 342.0,189.0 C342.3,190.7 341.3,193.8 340.0,195.0 C338.7,196.2 335.8,196.5 334.0,196.0 C332.2,195.5 329.8,192.7 329.0,192.0" fill="none" stroke="#e2cbb6" stroke-width="3.2" stroke-linecap="round"/>
<path d="M332.0,186.0 C333.0,185.8 336.3,184.5 338.0,185.0 C339.7,185.5 341.7,187.3 342.0,189.0 C342.3,190.7 341.3,193.8 340.0,195.0 C338.7,196.2 335.8,196.5 334.0,196.0 C332.2,195.5 329.8,192.7 329.0,192.0" fill="none" stroke="#c4a18a" stroke-width="1.1" stroke-linecap="round"/>
<path d="M289.0,62.0 C287.0,62.0 285.8,59.9 283.0,59.5 C280.2,59.1 275.5,59.2 272.0,59.5 C268.5,59.8 264.7,60.3 262.0,61.0 C259.3,61.7 257.3,62.7 256.0,63.5 C254.7,64.3 255.0,65.5 254.2,66.0 C253.4,66.5 252.4,66.4 251.0,66.8 C249.6,67.2 247.5,67.6 246.0,68.5 C244.5,69.4 242.9,70.8 242.0,72.0 C241.1,73.2 241.3,74.8 240.3,75.5 C239.3,76.2 238.4,75.1 236.0,76.0 C233.6,76.9 229.3,79.0 226.0,81.0 C222.7,83.0 218.5,85.8 216.0,88.0 C213.5,90.2 212.1,92.8 211.0,94.5 C209.9,96.2 210.6,97.3 209.3,98.5 C208.0,99.7 205.1,100.1 203.0,101.5 C200.9,102.9 198.8,104.9 197.0,107.0 C195.2,109.1 193.8,111.0 192.0,114.0 C190.2,117.0 187.8,121.0 186.0,125.0 C184.2,129.0 182.5,133.5 181.0,138.0 C179.5,142.5 178.0,147.3 177.0,152.0 C176.0,156.7 175.4,161.3 175.0,166.0 C174.6,170.7 174.4,175.0 174.5,180.0 C174.6,185.0 175.2,192.8 175.5,196.0 C175.8,199.2 176.4,198.0 176.5,199.0 C176.6,200.0 175.9,200.2 176.0,202.0 C176.1,203.8 176.2,207.2 177.0,210.0 C177.8,212.8 179.3,216.3 181.0,219.0 C182.7,221.7 184.5,224.1 187.0,226.0 C189.5,227.9 192.8,229.6 196.0,230.5 C199.2,231.4 203.2,231.5 206.0,231.5 C208.8,231.5 211.2,231.0 212.5,230.5 C213.8,230.0 213.5,228.5 214.0,228.5 C214.5,228.5 213.8,230.2 215.5,230.5 C217.2,230.8 221.5,230.8 224.0,230.5 C226.5,230.2 229.2,229.6 230.5,229.0 C231.8,228.4 231.5,227.1 232.0,227.0 C232.5,226.9 231.0,229.0 233.5,228.5 C236.0,228.0 243.4,225.9 247.0,224.0 C250.6,222.1 253.1,219.7 255.0,217.0 C256.9,214.3 257.8,211.0 258.5,208.0 C259.2,205.0 259.4,201.2 259.5,199.0 C259.6,196.8 258.4,194.8 259.0,195.0 C259.6,195.2 261.2,198.3 263.0,200.0 C264.8,201.7 267.2,203.6 270.0,205.0 C272.8,206.4 276.8,207.8 280.0,208.5 C283.2,209.2 286.0,209.5 289.0,209.5 C292.0,209.5 294.8,209.2 298.0,208.5 C301.2,207.8 305.2,206.4 308.0,205.0 C310.8,203.6 313.2,201.7 315.0,200.0 C316.8,198.3 318.4,195.2 319.0,195.0 C319.6,194.8 318.4,196.8 318.5,199.0 C318.6,201.2 318.8,205.0 319.5,208.0 C320.2,211.0 321.1,214.3 323.0,217.0 C324.9,219.7 327.4,222.1 331.0,224.0 C334.6,225.9 342.0,228.0 344.5,228.5 C347.0,229.0 345.5,226.9 346.0,227.0 C346.5,227.1 346.2,228.4 347.5,229.0 C348.8,229.6 351.5,230.2 354.0,230.5 C356.5,230.8 360.8,230.8 362.5,230.5 C364.2,230.2 363.5,228.5 364.0,228.5 C364.5,228.5 364.2,230.0 365.5,230.5 C366.8,231.0 369.2,231.5 372.0,231.5 C374.8,231.5 378.8,231.4 382.0,230.5 C385.2,229.6 388.5,227.9 391.0,226.0 C393.5,224.1 395.3,221.7 397.0,219.0 C398.7,216.3 400.2,212.8 401.0,210.0 C401.8,207.2 401.9,203.8 402.0,202.0 C402.1,200.2 401.4,200.0 401.5,199.0 C401.6,198.0 402.2,199.2 402.5,196.0 C402.8,192.8 403.4,185.0 403.5,180.0 C403.6,175.0 403.4,170.7 403.0,166.0 C402.6,161.3 402.0,156.7 401.0,152.0 C400.0,147.3 398.5,142.5 397.0,138.0 C395.5,133.5 393.8,129.0 392.0,125.0 C390.2,121.0 387.8,117.0 386.0,114.0 C384.2,111.0 382.8,109.1 381.0,107.0 C379.2,104.9 377.1,102.9 375.0,101.5 C372.9,100.1 370.0,99.7 368.7,98.5 C367.4,97.3 368.1,96.2 367.0,94.5 C365.9,92.8 364.5,90.2 362.0,88.0 C359.5,85.8 355.3,83.0 352.0,81.0 C348.7,79.0 344.4,76.9 342.0,76.0 C339.6,75.1 338.7,76.2 337.7,75.5 C336.7,74.8 336.9,73.2 336.0,72.0 C335.1,70.8 333.5,69.4 332.0,68.5 C330.5,67.6 328.4,67.2 327.0,66.8 C325.6,66.4 324.6,66.5 323.8,66.0 C323.0,65.5 323.3,64.3 322.0,63.5 C320.7,62.7 318.7,61.7 316.0,61.0 C313.3,60.3 309.5,59.8 306.0,59.5 C302.5,59.2 297.8,59.1 295.0,59.5 C292.2,59.9 291.0,62.0 289.0,62.0Z" fill="none" stroke="#c4a18a" stroke-width="1.5"/>
</g>
<g transform="translate(617,0)" fill="none" stroke="#ad463e" stroke-linecap="round" stroke-linejoin="round">
<path d="M259.0,196.0 C257.8,194.7 254.2,190.2 252.0,188.0 C249.8,185.8 248.8,184.9 246.0,183.0 C243.2,181.1 238.7,178.7 235.0,176.5 C231.3,174.3 227.2,172.6 224.0,170.0 C220.8,167.4 219.5,163.2 216.0,161.0 C212.5,158.8 207.3,157.8 203.0,157.0 C198.7,156.2 193.5,156.4 190.0,156.0 C186.5,155.6 183.8,156.0 182.0,154.5 C180.2,153.0 179.5,150.1 179.5,147.0 C179.5,143.9 180.9,139.2 182.0,136.0 C183.1,132.8 184.3,130.7 186.0,128.0 C187.7,125.3 191.0,121.3 192.0,120.0" stroke-width="2.975"/>
<path d="M319.0,196.0 C320.2,194.7 323.8,190.2 326.0,188.0 C328.2,185.8 329.2,184.9 332.0,183.0 C334.8,181.1 339.3,178.7 343.0,176.5 C346.7,174.3 350.8,172.6 354.0,170.0 C357.2,167.4 358.5,163.2 362.0,161.0 C365.5,158.8 370.7,157.8 375.0,157.0 C379.3,156.2 384.5,156.4 388.0,156.0 C391.5,155.6 394.2,156.0 396.0,154.5 C397.8,153.0 398.5,150.1 398.5,147.0 C398.5,143.9 397.1,139.2 396.0,136.0 C394.9,132.8 393.7,130.7 392.0,128.0 C390.3,125.3 387.0,121.3 386.0,120.0" stroke-width="2.975"/>
<path d="M181.0,147.0 C182.5,146.2 186.7,142.5 190.0,142.0 C193.3,141.5 199.2,143.7 201.0,144.0" stroke-width="1.19"/>
<path d="M397.0,147.0 C395.5,146.2 391.3,142.5 388.0,142.0 C384.7,141.5 378.8,143.7 377.0,144.0" stroke-width="1.19"/>
<path d="M190.0,142.0 C192.0,141.0 200.0,137.0 202.0,136.0" stroke-width="1.02"/>
<path d="M388.0,142.0 C386.0,141.0 378.0,137.0 376.0,136.0" stroke-width="1.02"/>
<path d="M186.0,129.0 C187.7,128.0 192.8,124.3 196.0,123.0 C199.2,121.7 203.5,121.3 205.0,121.0" stroke-width="1.19"/>
<path d="M392.0,129.0 C390.3,128.0 385.2,124.3 382.0,123.0 C378.8,121.7 374.5,121.3 373.0,121.0" stroke-width="1.19"/>
<path d="M186.0,134.0 C187.7,133.3 193.2,130.8 196.0,130.0 C198.8,129.2 201.8,129.2 203.0,129.0" stroke-width="0.935"/>
<path d="M392.0,134.0 C390.3,133.3 384.8,130.8 382.0,130.0 C379.2,129.2 376.2,129.2 375.0,129.0" stroke-width="0.935"/>
<path d="M192.0,121.0 C192.8,119.8 196.2,115.2 197.0,114.0" stroke-width="0.935"/>
<path d="M386.0,121.0 C385.2,119.8 381.8,115.2 381.0,114.0" stroke-width="0.935"/>
<path d="M203.0,157.0 C204.5,155.8 209.5,151.8 212.0,150.0 C214.5,148.2 217.0,146.7 218.0,146.0" stroke-width="1.105"/>
<path d="M375.0,157.0 C373.5,155.8 368.5,151.8 366.0,150.0 C363.5,148.2 361.0,146.7 360.0,146.0" stroke-width="1.105"/>
<path d="M219.0,158.0 C220.2,156.3 223.8,151.0 226.0,148.0 C228.2,145.0 231.0,141.3 232.0,140.0" stroke-width="1.275"/>
<path d="M359.0,158.0 C357.8,156.3 354.2,151.0 352.0,148.0 C349.8,145.0 347.0,141.3 346.0,140.0" stroke-width="1.275"/>
<path d="M226.0,148.0 C225.3,146.7 222.7,141.3 222.0,140.0" stroke-width="0.935"/>
<path d="M352.0,148.0 C352.7,146.7 355.3,141.3 356.0,140.0" stroke-width="0.935"/>
<path d="M237.0,175.0 C237.0,172.5 236.8,164.8 237.0,160.0 C237.2,155.2 237.7,150.3 238.0,146.0 C238.3,141.7 238.8,136.0 239.0,134.0" stroke-width="1.275"/>
<path d="M341.0,175.0 C341.0,172.5 341.2,164.8 341.0,160.0 C340.8,155.2 340.3,150.3 340.0,146.0 C339.7,141.7 339.2,136.0 339.0,134.0" stroke-width="1.275"/>
<path d="M237.0,158.0 C238.2,156.7 242.3,152.5 244.0,150.0 C245.7,147.5 246.5,144.2 247.0,143.0" stroke-width="1.02"/>
<path d="M341.0,158.0 C339.8,156.7 335.7,152.5 334.0,150.0 C332.3,147.5 331.5,144.2 331.0,143.0" stroke-width="1.02"/>
<path d="M238.0,146.0 C237.3,144.7 234.7,139.3 234.0,138.0" stroke-width="0.85"/>
<path d="M340.0,146.0 C340.7,144.7 343.3,139.3 344.0,138.0" stroke-width="0.85"/>
<path d="M246.0,182.0 C246.3,180.0 247.2,174.0 248.0,170.0 C248.8,166.0 250.0,161.8 251.0,158.0 C252.0,154.2 253.5,148.8 254.0,147.0" stroke-width="1.275"/>
<path d="M332.0,182.0 C331.7,180.0 330.8,174.0 330.0,170.0 C329.2,166.0 328.0,161.8 327.0,158.0 C326.0,154.2 324.5,148.8 324.0,147.0" stroke-width="1.275"/>
<path d="M249.0,165.0 C250.0,164.2 253.3,161.5 255.0,160.0 C256.7,158.5 258.3,156.7 259.0,156.0" stroke-width="1.02"/>
<path d="M329.0,165.0 C328.0,164.2 324.7,161.5 323.0,160.0 C321.3,158.5 319.7,156.7 319.0,156.0" stroke-width="1.02"/>
<path d="M254.0,186.0 C254.5,184.3 255.8,179.3 257.0,176.0 C258.2,172.7 259.8,169.0 261.0,166.0 C262.2,163.0 263.5,159.3 264.0,158.0" stroke-width="1.19"/>
<path d="M324.0,186.0 C323.5,184.3 322.2,179.3 321.0,176.0 C319.8,172.7 318.2,169.0 317.0,166.0 C315.8,163.0 314.5,159.3 314.0,158.0" stroke-width="1.19"/>
<path d="M257.0,176.0 C258.2,175.3 262.8,172.7 264.0,172.0" stroke-width="0.935"/>
<path d="M321.0,176.0 C319.8,175.3 315.2,172.7 314.0,172.0" stroke-width="0.935"/>
<path d="M225.0,169.0 C225.5,167.8 227.5,163.2 228.0,162.0" stroke-width="0.85"/>
<path d="M353.0,169.0 C352.5,167.8 350.5,163.2 350.0,162.0" stroke-width="0.85"/>
</g>
<rect x="221.5" y="166.5" width="16" height="15.5" fill="none" stroke="#111" stroke-width="1.6"/>
<rect x="835.5" y="166.5" width="16" height="15.5" fill="none" stroke="#111" stroke-width="1.6"/>
<!-- dashed lines -->
<g stroke="#4d4d4d" stroke-width="1.5" stroke-dasharray="4.5 4.2" fill="none">
<line x1="221" y1="182" x2="20" y2="278"/>
<line x1="238" y1="182" x2="566" y2="281"/>
<line x1="835" y1="182" x2="632" y2="279"/>
<line x1="852" y1="182" x2="1180" y2="281"/>
</g>

<!-- LEFT BOX -->
<g id="leftbox">
<rect x="14" y="281" width="552" height="255" fill="#e3f1fb"/>
<!-- tissue -->
<rect x="14" y="476" width="552" height="59" fill="#f8e8e3"/>
<clipPath id="lclip"><rect x="14" y="281" width="552" height="255"/></clipPath>
<g clip-path="url(#lclip)">
<rect x="14" y="530.6" width="552" height="1.3" fill="#ffffff" opacity="0.65"/>
<g transform="translate(38,502) rotate(30)"><ellipse rx="6.6" ry="3.9" fill="#f5cdc6" stroke="#e9afa7" stroke-width="0.9"/><ellipse rx="3.6" ry="1.8" fill="#f2c0b8" opacity="0.6"/></g>
<g transform="translate(70,513.5) rotate(-20)"><ellipse rx="6.6" ry="3.9" fill="#f5cdc6" stroke="#e9afa7" stroke-width="0.9"/><ellipse rx="3.6" ry="1.8" fill="#f2c0b8" opacity="0.6"/></g>
<g transform="translate(105,507) rotate(-10)"><ellipse rx="6.6" ry="3.9" fill="#f5cdc6" stroke="#e9afa7" stroke-width="0.9"/><ellipse rx="3.6" ry="1.8" fill="#f2c0b8" opacity="0.6"/></g>
<g transform="translate(140,511) rotate(25)"><ellipse rx="6.6" ry="3.9" fill="#f5cdc6" stroke="#e9afa7" stroke-width="0.9"/><ellipse rx="3.6" ry="1.8" fill="#f2c0b8" opacity="0.6"/></g>
<g transform="translate(175,501) rotate(-15)"><ellipse rx="6.6" ry="3.9" fill="#f5cdc6" stroke="#e9afa7" stroke-width="0.9"/><ellipse rx="3.6" ry="1.8" fill="#f2c0b8" opacity="0.6"/></g>
<g transform="translate(218,502) rotate(-20)"><ellipse rx="6.6" ry="3.9" fill="#f5cdc6" stroke="#e9afa7" stroke-width="0.9"/><ellipse rx="3.6" ry="1.8" fill="#f2c0b8" opacity="0.6"/></g>
<g transform="translate(251,514) rotate(-20)"><ellipse rx="6.6" ry="3.9" fill="#f5cdc6" stroke="#e9afa7" stroke-width="0.9"/><ellipse rx="3.6" ry="1.8" fill="#f2c0b8" opacity="0.6"/></g>
<g transform="translate(291,509) rotate(0)"><ellipse rx="6.6" ry="3.9" fill="#f5cdc6" stroke="#e9afa7" stroke-width="0.9"/><ellipse rx="3.6" ry="1.8" fill="#f2c0b8" opacity="0.6"/></g>
<g transform="translate(326,506) rotate(25)"><ellipse rx="6.6" ry="3.9" fill="#f5cdc6" stroke="#e9afa7" stroke-width="0.9"/><ellipse rx="3.6" ry="1.8" fill="#f2c0b8" opacity="0.6"/></g>
<g transform="translate(359,511) rotate(15)"><ellipse rx="6.6" ry="3.9" fill="#f5cdc6" stroke="#e9afa7" stroke-width="0.9"/><ellipse rx="3.6" ry="1.8" fill="#f2c0b8" opacity="0.6"/></g>
<g transform="translate(404,517) rotate(-20)"><ellipse rx="6.6" ry="3.9" fill="#f5cdc6" stroke="#e9afa7" stroke-width="0.9"/><ellipse rx="3.6" ry="1.8" fill="#f2c0b8" opacity="0.6"/></g>
<g transform="translate(433,512) rotate(-50)"><ellipse rx="6.6" ry="3.9" fill="#f5cdc6" stroke="#e9afa7" stroke-width="0.9"/><ellipse rx="3.6" ry="1.8" fill="#f2c0b8" opacity="0.6"/></g>
<g transform="translate(471,510) rotate(-5)"><ellipse rx="6.6" ry="3.9" fill="#f5cdc6" stroke="#e9afa7" stroke-width="0.9"/><ellipse rx="3.6" ry="1.8" fill="#f2c0b8" opacity="0.6"/></g>
<g transform="translate(506,504) rotate(30)"><ellipse rx="6.6" ry="3.9" fill="#f5cdc6" stroke="#e9afa7" stroke-width="0.9"/><ellipse rx="3.6" ry="1.8" fill="#f2c0b8" opacity="0.6"/></g>
<g transform="translate(540,513) rotate(20)"><ellipse rx="6.6" ry="3.9" fill="#f5cdc6" stroke="#e9afa7" stroke-width="0.9"/><ellipse rx="3.6" ry="1.8" fill="#f2c0b8" opacity="0.6"/></g>
<rect x="14" y="436" width="182.5" height="37" fill="#fbf7f4"/>
<rect x="14" y="432.5" width="182.5" height="3.6" fill="#a98a72"/>
<rect x="14" y="439.5" width="182.5" height="3.9" fill="#e9c184"/>
<clipPath id="smclip"><rect x="14" y="443.4" width="182.5" height="29.3"/></clipPath><rect x="14" y="443.4" width="182.5" height="29.3" fill="#d9d4f0"/><g clip-path="url(#smclip)"><ellipse cx="-31" cy="441.8" rx="9" ry="2.4" fill="#cdc8ea"/><ellipse cx="14" cy="441.8" rx="9" ry="2.4" fill="#cdc8ea"/><ellipse cx="59" cy="441.8" rx="9" ry="2.4" fill="#cdc8ea"/><ellipse cx="104" cy="441.8" rx="9" ry="2.4" fill="#cdc8ea"/><ellipse cx="149" cy="441.8" rx="9" ry="2.4" fill="#cdc8ea"/><ellipse cx="194" cy="441.8" rx="9" ry="2.4" fill="#cdc8ea"/><ellipse cx="239" cy="441.8" rx="9" ry="2.4" fill="#cdc8ea"/><ellipse cx="-53.5" cy="447" rx="9" ry="2.4" fill="#cdc8ea"/><ellipse cx="-8.5" cy="447" rx="9" ry="2.4" fill="#cdc8ea"/><ellipse cx="36.5" cy="447" rx="9" ry="2.4" fill="#cdc8ea"/><ellipse cx="81.5" cy="447" rx="9" ry="2.4" fill="#cdc8ea"/><ellipse cx="126.5" cy="447" rx="9" ry="2.4" fill="#cdc8ea"/><ellipse cx="171.5" cy="447" rx="9" ry="2.4" fill="#cdc8ea"/><ellipse cx="216.5" cy="447" rx="9" ry="2.4" fill="#cdc8ea"/><ellipse cx="-31" cy="452.2" rx="9" ry="2.4" fill="#cdc8ea"/><ellipse cx="14" cy="452.2" rx="9" ry="2.4" fill="#cdc8ea"/><ellipse cx="59" cy="452.2" rx="9" ry="2.4" fill="#cdc8ea"/><ellipse cx="104" cy="452.2" rx="9" ry="2.4" fill="#cdc8ea"/><ellipse cx="149" cy="452.2" rx="9" ry="2.4" fill="#cdc8ea"/><ellipse cx="194" cy="452.2" rx="9" ry="2.4" fill="#cdc8ea"/><ellipse cx="239" cy="452.2" rx="9" ry="2.4" fill="#cdc8ea"/><ellipse cx="-53.5" cy="457.5" rx="9" ry="2.4" fill="#cdc8ea"/><ellipse cx="-8.5" cy="457.5" rx="9" ry="2.4" fill="#cdc8ea"/><ellipse cx="36.5" cy="457.5" rx="9" ry="2.4" fill="#cdc8ea"/><ellipse cx="81.5" cy="457.5" rx="9" ry="2.4" fill="#cdc8ea"/><ellipse cx="126.5" cy="457.5" rx="9" ry="2.4" fill="#cdc8ea"/><ellipse cx="171.5" cy="457.5" rx="9" ry="2.4" fill="#cdc8ea"/><ellipse cx="216.5" cy="457.5" rx="9" ry="2.4" fill="#cdc8ea"/><ellipse cx="-31" cy="462.8" rx="9" ry="2.4" fill="#cdc8ea"/><ellipse cx="14" cy="462.8" rx="9" ry="2.4" fill="#cdc8ea"/><ellipse cx="59" cy="462.8" rx="9" ry="2.4" fill="#cdc8ea"/><ellipse cx="104" cy="462.8" rx="9" ry="2.4" fill="#cdc8ea"/><ellipse cx="149" cy="462.8" rx="9" ry="2.4" fill="#cdc8ea"/><ellipse cx="194" cy="462.8" rx="9" ry="2.4" fill="#cdc8ea"/><ellipse cx="239" cy="462.8" rx="9" ry="2.4" fill="#cdc8ea"/><ellipse cx="-53.5" cy="468" rx="9" ry="2.4" fill="#cdc8ea"/><ellipse cx="-8.5" cy="468" rx="9" ry="2.4" fill="#cdc8ea"/><ellipse cx="36.5" cy="468" rx="9" ry="2.4" fill="#cdc8ea"/><ellipse cx="81.5" cy="468" rx="9" ry="2.4" fill="#cdc8ea"/><ellipse cx="126.5" cy="468" rx="9" ry="2.4" fill="#cdc8ea"/><ellipse cx="171.5" cy="468" rx="9" ry="2.4" fill="#cdc8ea"/><ellipse cx="216.5" cy="468" rx="9" ry="2.4" fill="#cdc8ea"/><ellipse cx="-31" cy="473.2" rx="9" ry="2.4" fill="#cdc8ea"/><ellipse cx="14" cy="473.2" rx="9" ry="2.4" fill="#cdc8ea"/><ellipse cx="59" cy="473.2" rx="9" ry="2.4" fill="#cdc8ea"/><ellipse cx="104" cy="473.2" rx="9" ry="2.4" fill="#cdc8ea"/><ellipse cx="149" cy="473.2" rx="9" ry="2.4" fill="#cdc8ea"/><ellipse cx="194" cy="473.2" rx="9" ry="2.4" fill="#cdc8ea"/><ellipse cx="239" cy="473.2" rx="9" ry="2.4" fill="#cdc8ea"/><ellipse cx="-53.5" cy="478.5" rx="9" ry="2.4" fill="#cdc8ea"/><ellipse cx="-8.5" cy="478.5" rx="9" ry="2.4" fill="#cdc8ea"/><ellipse cx="36.5" cy="478.5" rx="9" ry="2.4" fill="#cdc8ea"/><ellipse cx="81.5" cy="478.5" rx="9" ry="2.4" fill="#cdc8ea"/><ellipse cx="126.5" cy="478.5" rx="9" ry="2.4" fill="#cdc8ea"/><ellipse cx="171.5" cy="478.5" rx="9" ry="2.4" fill="#cdc8ea"/><ellipse cx="216.5" cy="478.5" rx="9" ry="2.4" fill="#cdc8ea"/><path d="M12,425.3 L14.5,426.2 L17,427.1 L19.5,428 L22,428.8 L24.5,429.5 L27,430.1 L29.5,430.6 L32,431 L34.5,431.2 L37,431.2 L39.5,431.1 L42,430.9 L44.5,430.5 L47,429.9 L49.5,429.2 L52,428.5 L54.5,427.6 L57,426.7 L59.5,425.8 L62,424.9 L64.5,424 L67,423.2 L69.5,422.5 L72,421.9 L74.5,421.4 L77,421 L79.5,420.8 L82,420.8 L84.5,420.9 L87,421.1 L89.5,421.5 L92,422.1 L94.5,422.8 L97,423.5 L99.5,424.4 L102,425.3 L104.5,426.2 L107,427.1 L109.5,428 L112,428.8 L114.5,429.5 L117,430.1 L119.5,430.6 L122,431 L124.5,431.2 L127,431.2 L129.5,431.1 L132,430.9 L134.5,430.5 L137,429.9 L139.5,429.2 L142,428.5 L144.5,427.6 L147,426.7 L149.5,425.8 L152,424.9 L154.5,424 L157,423.2 L159.5,422.5 L162,421.9 L164.5,421.4 L167,421 L169.5,420.8 L172,420.8 L174.5,420.9 L177,421.1 L179.5,421.5 L182,422.1 L184.5,422.8 L187,423.5 L189.5,424.4 L192,425.3 L194.5,426.2 L197,427.1 L199.5,428 M12,426.7 L14.5,425.8 L17,424.9 L19.5,424 L22,423.2 L24.5,422.5 L27,421.9 L29.5,421.4 L32,421 L34.5,420.8 L37,420.8 L39.5,420.9 L42,421.1 L44.5,421.5 L47,422.1 L49.5,422.8 L52,423.5 L54.5,424.4 L57,425.3 L59.5,426.2 L62,427.1 L64.5,428 L67,428.8 L69.5,429.5 L72,430.1 L74.5,430.6 L77,431 L79.5,431.2 L82,431.2 L84.5,431.1 L87,430.9 L89.5,430.5 L92,429.9 L94.5,429.2 L97,428.5 L99.5,427.6 L102,426.7 L104.5,425.8 L107,424.9 L109.5,424 L112,423.2 L114.5,422.5 L117,421.9 L119.5,421.4 L122,421 L124.5,420.8 L127,420.8 L129.5,420.9 L132,421.1 L134.5,421.5 L137,422.1 L139.5,422.8 L142,423.5 L144.5,424.4 L147,425.3 L149.5,426.2 L152,427.1 L154.5,428 L157,428.8 L159.5,429.5 L162,430.1 L164.5,430.6 L167,431 L169.5,431.2 L172,431.2 L174.5,431.1 L177,430.9 L179.5,430.5 L182,429.9 L184.5,429.2 L187,428.5 L189.5,427.6 L192,426.7 L194.5,425.8 L197,424.9 L199.5,424 M12,435.8 L14.5,436.7 L17,437.6 L19.5,438.5 L22,439.3 L24.5,440 L27,440.6 L29.5,441.1 L32,441.5 L34.5,441.7 L37,441.7 L39.5,441.6 L42,441.4 L44.5,441 L47,440.4 L49.5,439.7 L52,439 L54.5,438.1 L57,437.2 L59.5,436.3 L62,435.4 L64.5,434.5 L67,433.7 L69.5,433 L72,432.4 L74.5,431.9 L77,431.5 L79.5,431.3 L82,431.3 L84.5,431.4 L87,431.6 L89.5,432 L92,432.6 L94.5,433.3 L97,434 L99.5,434.9 L102,435.8 L104.5,436.7 L107,437.6 L109.5,438.5 L112,439.3 L114.5,440 L117,440.6 L119.5,441.1 L122,441.5 L124.5,441.7 L127,441.7 L129.5,441.6 L132,441.4 L134.5,441 L137,440.4 L139.5,439.7 L142,439 L144.5,438.1 L147,437.2 L149.5,436.3 L152,435.4 L154.5,434.5 L157,433.7 L159.5,433 L162,432.4 L164.5,431.9 L167,431.5 L169.5,431.3 L172,431.3 L174.5,431.4 L177,431.6 L179.5,432 L182,432.6 L184.5,433.3 L187,434 L189.5,434.9 L192,435.8 L194.5,436.7 L197,437.6 L199.5,438.5 M12,437.2 L14.5,436.3 L17,435.4 L19.5,434.5 L22,433.7 L24.5,433 L27,432.4 L29.5,431.9 L32,431.5 L34.5,431.3 L37,431.3 L39.5,431.4 L42,431.6 L44.5,432 L47,432.6 L49.5,433.3 L52,434 L54.5,434.9 L57,435.8 L59.5,436.7 L62,437.6 L64.5,438.5 L67,439.3 L69.5,440 L72,440.6 L74.5,441.1 L77,441.5 L79.5,441.7 L82,441.7 L84.5,441.6 L87,441.4 L89.5,441 L92,440.4 L94.5,439.7 L97,439 L99.5,438.1 L102,437.2 L104.5,436.3 L107,435.4 L109.5,434.5 L112,433.7 L114.5,433 L117,432.4 L119.5,431.9 L122,431.5 L124.5,431.3 L127,431.3 L129.5,431.4 L132,431.6 L134.5,432 L137,432.6 L139.5,433.3 L142,434 L144.5,434.9 L147,435.8 L149.5,436.7 L152,437.6 L154.5,438.5 L157,439.3 L159.5,440 L162,440.6 L164.5,441.1 L167,441.5 L169.5,441.7 L172,441.7 L174.5,441.6 L177,441.4 L179.5,441 L182,440.4 L184.5,439.7 L187,439 L189.5,438.1 L192,437.2 L194.5,436.3 L197,435.4 L199.5,434.5 M12,446.3 L14.5,447.2 L17,448.1 L19.5,449 L22,449.8 L24.5,450.5 L27,451.1 L29.5,451.6 L32,452 L34.5,452.2 L37,452.2 L39.5,452.1 L42,451.9 L44.5,451.5 L47,450.9 L49.5,450.2 L52,449.5 L54.5,448.6 L57,447.7 L59.5,446.8 L62,445.9 L64.5,445 L67,444.2 L69.5,443.5 L72,442.9 L74.5,442.4 L77,442 L79.5,441.8 L82,441.8 L84.5,441.9 L87,442.1 L89.5,442.5 L92,443.1 L94.5,443.8 L97,444.5 L99.5,445.4 L102,446.3 L104.5,447.2 L107,448.1 L109.5,449 L112,449.8 L114.5,450.5 L117,451.1 L119.5,451.6 L122,452 L124.5,452.2 L127,452.2 L129.5,452.1 L132,451.9 L134.5,451.5 L137,450.9 L139.5,450.2 L142,449.5 L144.5,448.6 L147,447.7 L149.5,446.8 L152,445.9 L154.5,445 L157,444.2 L159.5,443.5 L162,442.9 L164.5,442.4 L167,442 L169.5,441.8 L172,441.8 L174.5,441.9 L177,442.1 L179.5,442.5 L182,443.1 L184.5,443.8 L187,444.5 L189.5,445.4 L192,446.3 L194.5,447.2 L197,448.1 L199.5,449 M12,447.7 L14.5,446.8 L17,445.9 L19.5,445 L22,444.2 L24.5,443.5 L27,442.9 L29.5,442.4 L32,442 L34.5,441.8 L37,441.8 L39.5,441.9 L42,442.1 L44.5,442.5 L47,443.1 L49.5,443.8 L52,444.5 L54.5,445.4 L57,446.3 L59.5,447.2 L62,448.1 L64.5,449 L67,449.8 L69.5,450.5 L72,451.1 L74.5,451.6 L77,452 L79.5,452.2 L82,452.2 L84.5,452.1 L87,451.9 L89.5,451.5 L92,450.9 L94.5,450.2 L97,449.5 L99.5,448.6 L102,447.7 L104.5,446.8 L107,445.9 L109.5,445 L112,444.2 L114.5,443.5 L117,442.9 L119.5,442.4 L122,442 L124.5,441.8 L127,441.8 L129.5,441.9 L132,442.1 L134.5,442.5 L137,443.1 L139.5,443.8 L142,444.5 L144.5,445.4 L147,446.3 L149.5,447.2 L152,448.1 L154.5,449 L157,449.8 L159.5,450.5 L162,451.1 L164.5,451.6 L167,452 L169.5,452.2 L172,452.2 L174.5,452.1 L177,451.9 L179.5,451.5 L182,450.9 L184.5,450.2 L187,449.5 L189.5,448.6 L192,447.7 L194.5,446.8 L197,445.9 L199.5,445 M12,456.8 L14.5,457.7 L17,458.6 L19.5,459.5 L22,460.3 L24.5,461 L27,461.6 L29.5,462.1 L32,462.5 L34.5,462.7 L37,462.7 L39.5,462.6 L42,462.4 L44.5,462 L47,461.4 L49.5,460.7 L52,460 L54.5,459.1 L57,458.2 L59.5,457.3 L62,456.4 L64.5,455.5 L67,454.7 L69.5,454 L72,453.4 L74.5,452.9 L77,452.5 L79.5,452.3 L82,452.3 L84.5,452.4 L87,452.6 L89.5,453 L92,453.6 L94.5,454.3 L97,455 L99.5,455.9 L102,456.8 L104.5,457.7 L107,458.6 L109.5,459.5 L112,460.3 L114.5,461 L117,461.6 L119.5,462.1 L122,462.5 L124.5,462.7 L127,462.7 L129.5,462.6 L132,462.4 L134.5,462 L137,461.4 L139.5,460.7 L142,460 L144.5,459.1 L147,458.2 L149.5,457.3 L152,456.4 L154.5,455.5 L157,454.7 L159.5,454 L162,453.4 L164.5,452.9 L167,452.5 L169.5,452.3 L172,452.3 L174.5,452.4 L177,452.6 L179.5,453 L182,453.6 L184.5,454.3 L187,455 L189.5,455.9 L192,456.8 L194.5,457.7 L197,458.6 L199.5,459.5 M12,458.2 L14.5,457.3 L17,456.4 L19.5,455.5 L22,454.7 L24.5,454 L27,453.4 L29.5,452.9 L32,452.5 L34.5,452.3 L37,452.3 L39.5,452.4 L42,452.6 L44.5,453 L47,453.6 L49.5,454.3 L52,455 L54.5,455.9 L57,456.8 L59.5,457.7 L62,458.6 L64.5,459.5 L67,460.3 L69.5,461 L72,461.6 L74.5,462.1 L77,462.5 L79.5,462.7 L82,462.7 L84.5,462.6 L87,462.4 L89.5,462 L92,461.4 L94.5,460.7 L97,460 L99.5,459.1 L102,458.2 L104.5,457.3 L107,456.4 L109.5,455.5 L112,454.7 L114.5,454 L117,453.4 L119.5,452.9 L122,452.5 L124.5,452.3 L127,452.3 L129.5,452.4 L132,452.6 L134.5,453 L137,453.6 L139.5,454.3 L142,455 L144.5,455.9 L147,456.8 L149.5,457.7 L152,458.6 L154.5,459.5 L157,460.3 L159.5,461 L162,461.6 L164.5,462.1 L167,462.5 L169.5,462.7 L172,462.7 L174.5,462.6 L177,462.4 L179.5,462 L182,461.4 L184.5,460.7 L187,460 L189.5,459.1 L192,458.2 L194.5,457.3 L197,456.4 L199.5,455.5 M12,467.3 L14.5,468.2 L17,469.1 L19.5,470 L22,470.8 L24.5,471.5 L27,472.1 L29.5,472.6 L32,473 L34.5,473.2 L37,473.2 L39.5,473.1 L42,472.9 L44.5,472.5 L47,471.9 L49.5,471.2 L52,470.5 L54.5,469.6 L57,468.7 L59.5,467.8 L62,466.9 L64.5,466 L67,465.2 L69.5,464.5 L72,463.9 L74.5,463.4 L77,463 L79.5,462.8 L82,462.8 L84.5,462.9 L87,463.1 L89.5,463.5 L92,464.1 L94.5,464.8 L97,465.5 L99.5,466.4 L102,467.3 L104.5,468.2 L107,469.1 L109.5,470 L112,470.8 L114.5,471.5 L117,472.1 L119.5,472.6 L122,473 L124.5,473.2 L127,473.2 L129.5,473.1 L132,472.9 L134.5,472.5 L137,471.9 L139.5,471.2 L142,470.5 L144.5,469.6 L147,468.7 L149.5,467.8 L152,466.9 L154.5,466 L157,465.2 L159.5,464.5 L162,463.9 L164.5,463.4 L167,463 L169.5,462.8 L172,462.8 L174.5,462.9 L177,463.1 L179.5,463.5 L182,464.1 L184.5,464.8 L187,465.5 L189.5,466.4 L192,467.3 L194.5,468.2 L197,469.1 L199.5,470 M12,468.7 L14.5,467.8 L17,466.9 L19.5,466 L22,465.2 L24.5,464.5 L27,463.9 L29.5,463.4 L32,463 L34.5,462.8 L37,462.8 L39.5,462.9 L42,463.1 L44.5,463.5 L47,464.1 L49.5,464.8 L52,465.5 L54.5,466.4 L57,467.3 L59.5,468.2 L62,469.1 L64.5,470 L67,470.8 L69.5,471.5 L72,472.1 L74.5,472.6 L77,473 L79.5,473.2 L82,473.2 L84.5,473.1 L87,472.9 L89.5,472.5 L92,471.9 L94.5,471.2 L97,470.5 L99.5,469.6 L102,468.7 L104.5,467.8 L107,466.9 L109.5,466 L112,465.2 L114.5,464.5 L117,463.9 L119.5,463.4 L122,463 L124.5,462.8 L127,462.8 L129.5,462.9 L132,463.1 L134.5,463.5 L137,464.1 L139.5,464.8 L142,465.5 L144.5,466.4 L147,467.3 L149.5,468.2 L152,469.1 L154.5,470 L157,470.8 L159.5,471.5 L162,472.1 L164.5,472.6 L167,473 L169.5,473.2 L172,473.2 L174.5,473.1 L177,472.9 L179.5,472.5 L182,471.9 L184.5,471.2 L187,470.5 L189.5,469.6 L192,468.7 L194.5,467.8 L197,466.9 L199.5,466 M12,477.8 L14.5,478.7 L17,479.6 L19.5,480.5 L22,481.3 L24.5,482 L27,482.6 L29.5,483.1 L32,483.5 L34.5,483.7 L37,483.7 L39.5,483.6 L42,483.4 L44.5,483 L47,482.4 L49.5,481.7 L52,481 L54.5,480.1 L57,479.2 L59.5,478.3 L62,477.4 L64.5,476.5 L67,475.7 L69.5,475 L72,474.4 L74.5,473.9 L77,473.5 L79.5,473.3 L82,473.3 L84.5,473.4 L87,473.6 L89.5,474 L92,474.6 L94.5,475.3 L97,476 L99.5,476.9 L102,477.8 L104.5,478.7 L107,479.6 L109.5,480.5 L112,481.3 L114.5,482 L117,482.6 L119.5,483.1 L122,483.5 L124.5,483.7 L127,483.7 L129.5,483.6 L132,483.4 L134.5,483 L137,482.4 L139.5,481.7 L142,481 L144.5,480.1 L147,479.2 L149.5,478.3 L152,477.4 L154.5,476.5 L157,475.7 L159.5,475 L162,474.4 L164.5,473.9 L167,473.5 L169.5,473.3 L172,473.3 L174.5,473.4 L177,473.6 L179.5,474 L182,474.6 L184.5,475.3 L187,476 L189.5,476.9 L192,477.8 L194.5,478.7 L197,479.6 L199.5,480.5 M12,479.2 L14.5,478.3 L17,477.4 L19.5,476.5 L22,475.7 L24.5,475 L27,474.4 L29.5,473.9 L32,473.5 L34.5,473.3 L37,473.3 L39.5,473.4 L42,473.6 L44.5,474 L47,474.6 L49.5,475.3 L52,476 L54.5,476.9 L57,477.8 L59.5,478.7 L62,479.6 L64.5,480.5 L67,481.3 L69.5,482 L72,482.6 L74.5,483.1 L77,483.5 L79.5,483.7 L82,483.7 L84.5,483.6 L87,483.4 L89.5,483 L92,482.4 L94.5,481.7 L97,481 L99.5,480.1 L102,479.2 L104.5,478.3 L107,477.4 L109.5,476.5 L112,475.7 L114.5,475 L117,474.4 L119.5,473.9 L122,473.5 L124.5,473.3 L127,473.3 L129.5,473.4 L132,473.6 L134.5,474 L137,474.6 L139.5,475.3 L142,476 L144.5,476.9 L147,477.8 L149.5,478.7 L152,479.6 L154.5,480.5 L157,481.3 L159.5,482 L162,482.6 L164.5,483.1 L167,483.5 L169.5,483.7 L172,483.7 L174.5,483.6 L177,483.4 L179.5,483 L182,482.4 L184.5,481.7 L187,481 L189.5,480.1 L192,479.2 L194.5,478.3 L197,477.4 L199.5,476.5 M12,488.3 L14.5,489.2 L17,490.1 L19.5,491 L22,491.8 L24.5,492.5 L27,493.1 L29.5,493.6 L32,494 L34.5,494.2 L37,494.2 L39.5,494.1 L42,493.9 L44.5,493.5 L47,492.9 L49.5,492.2 L52,491.5 L54.5,490.6 L57,489.7 L59.5,488.8 L62,487.9 L64.5,487 L67,486.2 L69.5,485.5 L72,484.9 L74.5,484.4 L77,484 L79.5,483.8 L82,483.8 L84.5,483.9 L87,484.1 L89.5,484.5 L92,485.1 L94.5,485.8 L97,486.5 L99.5,487.4 L102,488.3 L104.5,489.2 L107,490.1 L109.5,491 L112,491.8 L114.5,492.5 L117,493.1 L119.5,493.6 L122,494 L124.5,494.2 L127,494.2 L129.5,494.1 L132,493.9 L134.5,493.5 L137,492.9 L139.5,492.2 L142,491.5 L144.5,490.6 L147,489.7 L149.5,488.8 L152,487.9 L154.5,487 L157,486.2 L159.5,485.5 L162,484.9 L164.5,484.4 L167,484 L169.5,483.8 L172,483.8 L174.5,483.9 L177,484.1 L179.5,484.5 L182,485.1 L184.5,485.8 L187,486.5 L189.5,487.4 L192,488.3 L194.5,489.2 L197,490.1 L199.5,491 M12,489.7 L14.5,488.8 L17,487.9 L19.5,487 L22,486.2 L24.5,485.5 L27,484.9 L29.5,484.4 L32,484 L34.5,483.8 L37,483.8 L39.5,483.9 L42,484.1 L44.5,484.5 L47,485.1 L49.5,485.8 L52,486.5 L54.5,487.4 L57,488.3 L59.5,489.2 L62,490.1 L64.5,491 L67,491.8 L69.5,492.5 L72,493.1 L74.5,493.6 L77,494 L79.5,494.2 L82,494.2 L84.5,494.1 L87,493.9 L89.5,493.5 L92,492.9 L94.5,492.2 L97,491.5 L99.5,490.6 L102,489.7 L104.5,488.8 L107,487.9 L109.5,487 L112,486.2 L114.5,485.5 L117,484.9 L119.5,484.4 L122,484 L124.5,483.8 L127,483.8 L129.5,483.9 L132,484.1 L134.5,484.5 L137,485.1 L139.5,485.8 L142,486.5 L144.5,487.4 L147,488.3 L149.5,489.2 L152,490.1 L154.5,491 L157,491.8 L159.5,492.5 L162,493.1 L164.5,493.6 L167,494 L169.5,494.2 L172,494.2 L174.5,494.1 L177,493.9 L179.5,493.5 L182,492.9 L184.5,492.2 L187,491.5 L189.5,490.6 L192,489.7 L194.5,488.8 L197,487.9 L199.5,487 " fill="none" stroke="#968fcb" stroke-width="1.05"/></g>
<rect x="196.5" y="470" width="370" height="3" fill="#f6ecee"/>
<path d="M212,473 C222,470 224.3,461 234.3,460 C239.3,459.5 246.3,459 252.3,460 C262.3,462 262,470 272,473Z" fill="#f2b36e" stroke="#e8a35c" stroke-width="0.7"/>
<ellipse cx="242.3" cy="466.5" rx="4.4" ry="3" fill="#e99a56"/>
<path d="M318.8,473 C328.8,470 331,461 341,460 C346,459.5 353,459 359,460 C369,462 369,470 379,473Z" fill="#f2b36e" stroke="#e8a35c" stroke-width="0.7"/>
<ellipse cx="349" cy="466.5" rx="4.4" ry="3" fill="#e99a56"/>
<path d="M196.5,468.5 L205,468.5 C215,468 225,458 240,458 C255,458 262,466 275,468 L318,468.5 C330,466 335,457 350,456.5 C362,456.5 370,464 380.5,468" fill="none" stroke="#8e86cc" stroke-width="3.8"/>
<rect x="14" y="472.7" width="552" height="3.9" fill="#c4413e"/>
<g><path d="M14.5,476.6 L14.5,481.6 C21.8,482 23.6,485.6 32.8,485.6 C41.9,485.6 43.8,482 51.1,481.6 L51.1,481.6 C58.4,482 60.3,485.6 69.4,485.6 C78.6,485.6 80.4,482 87.7,481.6 L87.7,481.6 C95,482 96.8,485.6 106,485.6 C115.2,485.6 117,482 124.3,481.6 L124.3,481.6 C131.6,482 133.5,485.6 142.6,485.6 C151.8,485.6 153.6,482 160.9,481.6 L160.9,481.6 C168.2,482 170,485.6 179.2,485.6 C188.3,485.6 190.2,482 197.5,481.6 L197.5,481.6 C204.8,482 206.7,485.6 215.8,485.6 C225,485.6 226.8,482 234.1,481.6 L234.1,481.6 C241.4,482 243.2,485.6 252.4,485.6 C261.5,485.6 263.4,482 270.7,481.6 L270.7,481.6 C278,482 279.9,485.6 289,485.6 C298.1,485.6 300,482 307.3,481.6 L307.3,481.6 C314.6,482 316.5,485.6 325.6,485.6 C334.8,485.6 336.6,482 343.9,481.6 L343.9,481.6 C351.2,482 353.1,485.6 362.2,485.6 C371.4,485.6 373.2,482 380.5,481.6 L380.5,481.6 C387.8,482 389.7,485.6 398.8,485.6 C408,485.6 409.8,482 417.1,481.6 L417.1,481.6 C424.4,482 426.3,485.6 435.4,485.6 C444.6,485.6 446.4,482 453.7,481.6 L453.7,481.6 C461,482 462.9,485.6 472,485.6 C481.2,485.6 483,482 490.3,481.6 L490.3,481.6 C497.6,482 499.5,485.6 508.6,485.6 C517.8,485.6 519.6,482 526.9,481.6 L526.9,481.6 C534.2,482 536.1,485.6 545.2,485.6 C554.4,485.6 556.2,482 563.5,481.6 L563.5,481.6 C570.8,482 572.7,485.6 581.8,485.6 C591,485.6 592.8,482 600.1,481.6 L600.1,476.6 Z" fill="#f8d2cd" stroke="#d6948e" stroke-width="0.9"/><line x1="51.1" y1="476.6" x2="51.1" y2="481.6" stroke="#d6948e" stroke-width="0.8"/><ellipse cx="32.8" cy="480.8" rx="3.8" ry="2.1" fill="#eba8a1"/><line x1="87.7" y1="476.6" x2="87.7" y2="481.6" stroke="#d6948e" stroke-width="0.8"/><ellipse cx="69.4" cy="480.8" rx="3.8" ry="2.1" fill="#eba8a1"/><line x1="124.3" y1="476.6" x2="124.3" y2="481.6" stroke="#d6948e" stroke-width="0.8"/><ellipse cx="106" cy="480.8" rx="3.8" ry="2.1" fill="#eba8a1"/><line x1="160.9" y1="476.6" x2="160.9" y2="481.6" stroke="#d6948e" stroke-width="0.8"/><ellipse cx="142.6" cy="480.8" rx="3.8" ry="2.1" fill="#eba8a1"/><line x1="197.5" y1="476.6" x2="197.5" y2="481.6" stroke="#d6948e" stroke-width="0.8"/><ellipse cx="179.2" cy="480.8" rx="3.8" ry="2.1" fill="#eba8a1"/><line x1="234.1" y1="476.6" x2="234.1" y2="481.6" stroke="#d6948e" stroke-width="0.8"/><ellipse cx="215.8" cy="480.8" rx="3.8" ry="2.1" fill="#eba8a1"/><line x1="270.7" y1="476.6" x2="270.7" y2="481.6" stroke="#d6948e" stroke-width="0.8"/><ellipse cx="252.4" cy="480.8" rx="3.8" ry="2.1" fill="#eba8a1"/><line x1="307.3" y1="476.6" x2="307.3" y2="481.6" stroke="#d6948e" stroke-width="0.8"/><ellipse cx="289" cy="480.8" rx="3.8" ry="2.1" fill="#eba8a1"/><line x1="343.9" y1="476.6" x2="343.9" y2="481.6" stroke="#d6948e" stroke-width="0.8"/><ellipse cx="325.6" cy="480.8" rx="3.8" ry="2.1" fill="#eba8a1"/><line x1="380.5" y1="476.6" x2="380.5" y2="481.6" stroke="#d6948e" stroke-width="0.8"/><ellipse cx="362.2" cy="480.8" rx="3.8" ry="2.1" fill="#eba8a1"/><line x1="417.1" y1="476.6" x2="417.1" y2="481.6" stroke="#d6948e" stroke-width="0.8"/><ellipse cx="398.8" cy="480.8" rx="3.8" ry="2.1" fill="#eba8a1"/><line x1="453.7" y1="476.6" x2="453.7" y2="481.6" stroke="#d6948e" stroke-width="0.8"/><ellipse cx="435.4" cy="480.8" rx="3.8" ry="2.1" fill="#eba8a1"/><line x1="490.3" y1="476.6" x2="490.3" y2="481.6" stroke="#d6948e" stroke-width="0.8"/><ellipse cx="472" cy="480.8" rx="3.8" ry="2.1" fill="#eba8a1"/><line x1="526.9" y1="476.6" x2="526.9" y2="481.6" stroke="#d6948e" stroke-width="0.8"/><ellipse cx="508.6" cy="480.8" rx="3.8" ry="2.1" fill="#eba8a1"/><line x1="563.5" y1="476.6" x2="563.5" y2="481.6" stroke="#d6948e" stroke-width="0.8"/><ellipse cx="545.2" cy="480.8" rx="3.8" ry="2.1" fill="#eba8a1"/><line x1="600.1" y1="476.6" x2="600.1" y2="481.6" stroke="#d6948e" stroke-width="0.8"/><ellipse cx="581.8" cy="480.8" rx="3.8" ry="2.1" fill="#eba8a1"/></g>
<rect x="380.5" y="468.8" width="21.5" height="3.8" rx="1" fill="#8178c2"/>
<rect x="431.5" y="468.8" width="14" height="3.8" rx="1" fill="#8178c2"/>
<rect x="450.5" y="468.8" width="13.5" height="3.8" rx="1" fill="#8178c2"/>
<rect x="490" y="468.8" width="13" height="3.8" rx="1" fill="#8178c2"/>
<rect x="515" y="468.8" width="13" height="3.8" rx="1" fill="#8178c2"/>
<rect x="538" y="468.8" width="28" height="3.8" rx="1" fill="#8178c2"/>
<g transform="translate(408,0)"><rect x="-5" y="464" width="10" height="12" fill="#f29cc2" stroke="#c9558f" stroke-width="0.7"/><path d="M-2.2,464.5 L-1,476 M2.2,464.5 L1,476" stroke="#c9558f" stroke-width="1"/><circle cx="-3.5" cy="463.5" r="1.7" fill="#5f68ad"/><circle cx="3.5" cy="463.5" r="1.7" fill="#5f68ad"/></g>
<g transform="translate(423.3,0)"><rect x="-5" y="464" width="10" height="12" fill="#f29cc2" stroke="#c9558f" stroke-width="0.7"/><path d="M-2.2,464.5 L-1,476 M2.2,464.5 L1,476" stroke="#c9558f" stroke-width="1"/><circle cx="-3.5" cy="463.5" r="1.7" fill="#5f68ad"/><circle cx="3.5" cy="463.5" r="1.7" fill="#5f68ad"/></g>
<g transform="translate(471,0)"><rect x="-5" y="464" width="10" height="12" fill="#f29cc2" stroke="#c9558f" stroke-width="0.7"/><path d="M-2.2,464.5 L-1,476 M2.2,464.5 L1,476" stroke="#c9558f" stroke-width="1"/><circle cx="-3.5" cy="463.5" r="1.7" fill="#5f68ad"/><circle cx="3.5" cy="463.5" r="1.7" fill="#5f68ad"/></g>
<g transform="translate(499,0)"><rect x="-5" y="464" width="10" height="12" fill="#f29cc2" stroke="#c9558f" stroke-width="0.7"/><path d="M-2.2,464.5 L-1,476 M2.2,464.5 L1,476" stroke="#c9558f" stroke-width="1"/><circle cx="-3.5" cy="463.5" r="1.7" fill="#5f68ad"/><circle cx="3.5" cy="463.5" r="1.7" fill="#5f68ad"/></g>
<g transform="translate(544.6,0)"><rect x="-5" y="464" width="10" height="12" fill="#f29cc2" stroke="#c9558f" stroke-width="0.7"/><path d="M-2.2,464.5 L-1,476 M2.2,464.5 L1,476" stroke="#c9558f" stroke-width="1"/><circle cx="-3.5" cy="463.5" r="1.7" fill="#5f68ad"/><circle cx="3.5" cy="463.5" r="1.7" fill="#5f68ad"/></g>
<rect x="434" y="496.4" width="112" height="2.4" fill="url(#arrH)"/>
<path d="M544,493.5 L553,497.6 L544,501.7Z" fill="#2e3858"/>
</g><g fill="#8d84c8" stroke="#8d84c8" stroke-width="0.01"><path d="M53.7,396.4 L53.1,395.8 L52.2,395.1 L51.3,394.3 L50.2,393.4 L49.1,392.4 L48.0,391.4 L46.9,390.3 L45.6,389.2 L44.3,387.9 L43.1,386.7 L42.0,385.4 L41.0,384.1 L40.1,382.8 L39.4,381.3 L38.7,379.7 L38.0,378.1 L37.2,376.5 L36.4,375.0 L35.5,373.7 L34.6,372.6 L33.6,371.6 L32.6,370.8 L31.6,370.0 L30.7,369.2 L29.7,368.5 L28.6,367.7 L27.5,367.1 L26.5,366.5 L25.7,366.1 L25.2,365.7 L23.8,368.0 L24.4,368.4 L25.3,368.8 L26.2,369.3 L27.2,370.0 L28.2,370.6 L29.1,371.3 L30.0,372.0 L30.9,372.7 L31.8,373.5 L32.6,374.4 L33.5,375.3 L34.2,376.3 L34.8,377.6 L35.3,379.0 L35.8,380.7 L36.3,382.5 L36.9,384.3 L37.7,386.1 L38.7,387.7 L39.8,389.3 L40.9,390.9 L42.1,392.3 L43.2,393.7 L44.2,395.0 L45.2,396.2 L46.2,397.4 L47.2,398.5 L48.1,399.5 L48.8,400.3 L49.3,400.8Z"/><path d="M53.7,400.8 L54.2,400.1 L54.9,399.3 L55.7,398.3 L56.6,397.2 L57.5,396.0 L58.4,394.9 L59.5,393.7 L60.7,392.4 L62.0,391.1 L63.2,389.8 L64.5,388.5 L65.8,387.5 L67.1,386.5 L68.3,385.6 L69.6,384.7 L70.8,384.0 L71.8,383.3 L72.5,382.8 L71.0,380.6 L70.3,381.1 L69.3,381.8 L68.1,382.6 L66.9,383.5 L65.5,384.4 L64.2,385.4 L62.9,386.5 L61.4,387.4 L59.8,388.5 L58.2,389.5 L56.7,390.5 L55.4,391.5 L54.1,392.5 L52.8,393.4 L51.7,394.4 L50.7,395.2 L49.9,395.9 L49.3,396.4Z"/><path d="M49.4,396.1 L48.9,396.6 L48.1,397.4 L47.0,398.3 L45.9,399.6 L44.7,401.1 L43.8,402.8 L43.2,404.7 L42.8,406.7 L42.5,408.8 L42.3,410.8 L42.1,412.7 L41.8,414.4 L41.5,415.9 L41.2,417.3 L40.7,418.6 L40.3,419.9 L39.8,421.2 L39.4,422.5 L39.0,423.8 L38.5,425.3 L38.0,426.7 L37.6,428.0 L37.2,429.1 L37.0,429.9 L39.6,430.7 L39.8,429.9 L40.2,428.8 L40.6,427.5 L41.1,426.1 L41.5,424.7 L42.0,423.3 L42.4,422.1 L42.9,420.8 L43.3,419.5 L43.8,418.2 L44.4,416.8 L45.0,415.2 L45.6,413.5 L46.1,411.6 L46.7,409.7 L47.2,407.9 L47.8,406.3 L48.4,405.2 L49.1,404.4 L49.9,403.6 L50.9,402.9 L51.9,402.2 L52.9,401.6 L53.6,401.1Z"/><path d="M48.6,399.7 L48.9,400.4 L49.4,401.3 L50.1,402.5 L50.8,403.8 L51.5,405.1 L52.3,406.3 L53.1,407.4 L53.9,408.6 L54.7,409.7 L55.6,410.7 L56.5,411.8 L57.2,412.8 L57.9,413.9 L58.7,415.0 L59.5,416.0 L60.2,417.0 L60.8,417.7 L61.3,418.3 L63.3,416.7 L62.9,416.1 L62.3,415.3 L61.6,414.4 L60.8,413.4 L60.0,412.4 L59.3,411.4 L58.7,410.3 L58.1,409.2 L57.5,408.0 L57.0,406.7 L56.5,405.5 L56.1,404.4 L55.8,403.2 L55.4,401.9 L55.1,400.6 L54.9,399.4 L54.6,398.3 L54.4,397.5Z"/><path d="M50.7,401.8 L51.3,401.9 L52.2,402.1 L53.4,402.4 L54.9,402.6 L56.5,402.8 L58.3,402.8 L60.3,402.5 L62.3,401.9 L64.2,401.3 L65.9,400.9 L67.3,400.6 L68.3,400.7 L69.2,401.1 L70.3,401.9 L71.4,403.1 L72.5,404.4 L73.4,405.9 L74.3,407.4 L75.1,408.8 L75.7,410.4 L76.1,412.1 L76.5,413.9 L76.8,415.8 L77.2,417.7 L77.6,419.9 L78.0,422.3 L78.3,424.8 L78.7,427.1 L79.0,429.1 L79.2,430.5 L81.9,430.1 L81.7,428.7 L81.4,426.7 L81.0,424.4 L80.6,421.9 L80.2,419.4 L79.8,417.3 L79.5,415.3 L79.1,413.4 L78.8,411.5 L78.4,409.7 L77.9,407.8 L77.3,406.0 L76.5,404.2 L75.5,402.5 L74.5,400.7 L73.2,399.1 L71.7,397.6 L69.8,396.5 L67.5,396.0 L65.3,396.0 L63.1,396.4 L61.1,396.8 L59.4,397.0 L58.2,397.1 L57.1,396.9 L56.0,396.7 L55.0,396.3 L54.0,396.0 L53.1,395.7 L52.3,395.4Z"/></g><g fill="none" stroke="#8d84c8" stroke-linecap="round" stroke-linejoin="round"><path d="M46.1,393.2 C45.0,391.9 41.2,388.0 39.4,385.1 C37.5,382.2 36.9,378.1 35.3,375.7 C33.7,373.2 31.7,371.7 29.9,370.2 C28.1,368.8 25.4,367.4 24.5,366.9" stroke-width="2.6"/><path d="M35.3,375.7 C36.0,374.8 37.7,371.9 39.4,370.2 C41.0,368.6 44.4,366.3 45.4,365.5" stroke-width="2.4"/><path d="M56.9,393.2 C58.2,392.1 62.5,388.4 65.0,386.5 C67.5,384.5 70.6,382.5 71.8,381.7" stroke-width="2.6"/><path d="M46.1,404.0 C45.6,405.8 44.3,411.6 43.4,414.8 C42.5,418.0 41.6,420.3 40.7,422.9 C39.8,425.5 38.7,429.1 38.3,430.3" stroke-width="2.7"/><path d="M54.2,405.4 C54.9,406.5 56.9,410.1 58.2,412.1 C59.6,414.1 61.6,416.6 62.3,417.5" stroke-width="2.6"/><path d="M62.3,417.5 C61.2,418.2 57.5,419.5 55.5,421.6 C53.6,423.6 51.6,428.3 50.8,429.7" stroke-width="2.5"/><path d="M62.3,417.5 C63.0,418.4 65.2,420.9 66.3,422.9 C67.5,424.9 68.5,428.5 68.9,429.7" stroke-width="2.5"/><path d="M58.2,400.0 C60.0,399.7 66.1,397.5 69.0,398.6 C72.0,399.7 74.2,403.6 75.8,406.7 C77.4,409.9 77.7,413.6 78.5,417.5 C79.3,421.4 80.2,428.2 80.5,430.3" stroke-width="2.7"/></g><rect x="30.4" y="430.2" width="57.5" height="2.6" rx="0.8" fill="#8d84c8"/><g transform="translate(51.5,398.6) scale(1.4)"><path d="M6.0,1.6 C5.6,3.2 3.2,4.9 1.4,5.4 C-0.3,5.9 -3.2,5.5 -4.4,4.4 C-5.5,3.2 -5.9,0.3 -5.4,-1.4 C-4.9,-3.2 -3.2,-5.6 -1.6,-6.0 C-0.0,-6.4 2.7,-5.2 3.9,-3.9 C5.2,-2.7 6.4,0.0 6.0,1.6Z" fill="#9b91d3" stroke="#8d84c8" stroke-width="0.8"/><circle r="3.1" fill="#6e5eb3"/></g><path d="M56,392 C62,386 70,383 89,378" fill="none" stroke="#8d84c8" stroke-width="2.6" stroke-linecap="round"/><g fill="#6fa7da" stroke="#6fa7da" stroke-width="0.01"><path d="M145.7,388.9 L142.8,388.1 L138.8,386.9 L134.0,385.6 L128.8,384.1 L123.6,382.7 L118.6,381.6 L113.5,380.6 L108.0,379.5 L102.6,378.3 L97.4,377.3 L93.1,376.5 L90.0,375.8 L89.4,379.2 L92.5,379.8 L96.8,380.7 L101.9,381.7 L107.3,382.8 L112.7,384.2 L117.5,385.6 L122.2,387.3 L127.2,389.2 L132.1,391.1 L136.7,393.0 L140.6,394.5 L143.5,395.7Z"/><path d="M147.2,392.3 L147.2,391.6 L147.1,390.6 L147.0,389.5 L146.9,388.2 L146.8,386.8 L146.6,385.3 L146.5,383.6 L146.4,381.8 L146.2,379.8 L146.0,377.8 L145.9,375.9 L145.8,374.1 L145.8,372.4 L145.8,370.8 L145.8,369.2 L145.8,367.8 L145.8,366.6 L145.8,365.7 L143.4,365.7 L143.4,366.6 L143.4,367.8 L143.4,369.2 L143.4,370.8 L143.4,372.4 L143.4,374.1 L143.3,375.9 L143.2,377.8 L143.0,379.8 L142.8,381.8 L142.7,383.6 L142.6,385.3 L142.4,386.8 L142.3,388.2 L142.2,389.5 L142.1,390.6 L142.0,391.6 L142.0,392.3Z"/><path d="M146.0,394.5 L146.6,394.1 L147.5,393.5 L148.6,392.7 L149.8,391.9 L151.2,390.9 L152.7,389.9 L154.4,388.7 L156.3,387.3 L158.4,385.9 L160.4,384.5 L162.5,383.3 L164.6,382.3 L166.8,381.8 L169.4,381.4 L172.1,381.2 L174.6,381.1 L176.7,381.0 L178.3,380.9 L178.1,378.5 L176.6,378.5 L174.5,378.6 L171.9,378.7 L169.2,378.9 L166.4,379.3 L163.8,379.9 L161.4,380.7 L158.9,381.7 L156.6,383.0 L154.3,384.2 L152.3,385.3 L150.5,386.3 L148.9,387.1 L147.4,387.9 L146.0,388.6 L144.9,389.2 L144.0,389.7 L143.2,390.1Z"/><path d="M143.8,394.8 L144.7,395.0 L145.9,395.3 L147.4,395.7 L149.0,396.1 L150.6,396.6 L152.3,397.0 L154.0,397.5 L155.8,398.1 L157.7,398.7 L159.7,399.3 L161.7,400.0 L163.8,400.5 L166.0,401.2 L168.4,401.9 L170.9,402.5 L173.2,403.1 L175.1,403.6 L176.5,404.0 L177.1,401.6 L175.7,401.2 L173.8,400.7 L171.5,400.1 L169.1,399.4 L166.7,398.8 L164.6,398.1 L162.7,397.3 L160.8,396.5 L158.9,395.6 L157.1,394.7 L155.4,393.9 L153.7,393.2 L152.0,392.5 L150.4,391.8 L148.8,391.2 L147.4,390.6 L146.3,390.2 L145.4,389.8Z"/><path d="M142.4,390.9 L142.0,391.5 L141.6,392.4 L141.1,393.3 L140.5,394.3 L139.8,395.3 L139.0,396.3 L137.8,397.4 L136.5,398.7 L134.9,400.0 L133.3,401.3 L131.6,402.6 L129.9,403.8 L128.1,404.9 L126.0,406.0 L123.8,407.0 L121.8,408.0 L120.1,408.8 L118.9,409.4 L119.9,411.6 L121.2,411.0 L122.9,410.2 L124.9,409.3 L127.1,408.2 L129.3,407.1 L131.3,406.0 L133.2,405.0 L135.1,403.9 L136.9,402.8 L138.7,401.7 L140.4,400.6 L141.8,399.5 L143.1,398.3 L144.2,397.1 L145.1,396.0 L145.9,395.0 L146.4,394.3 L146.8,393.7Z"/><path d="M142.1,392.9 L142.3,393.6 L142.6,394.5 L142.9,395.5 L143.3,396.6 L143.6,397.9 L143.8,399.5 L144.0,401.3 L144.2,403.5 L144.4,405.9 L144.5,408.3 L144.6,410.8 L144.7,413.2 L144.6,415.7 L144.3,418.4 L144.1,421.0 L143.8,423.5 L143.5,425.6 L143.4,427.2 L145.8,427.4 L146.0,425.9 L146.3,423.8 L146.5,421.3 L146.8,418.6 L147.1,415.9 L147.3,413.4 L147.6,410.9 L147.8,408.4 L147.9,405.9 L148.1,403.4 L148.2,401.2 L148.2,399.1 L148.1,397.3 L147.9,395.7 L147.7,394.3 L147.4,393.2 L147.3,392.3 L147.1,391.7Z"/></g><g fill="none" stroke="#6fa7da" stroke-linecap="round" stroke-linejoin="round"><path d="M144.6,392.3 C140.2,390.9 127.2,386.1 118.0,383.6 C108.9,381.1 94.4,378.5 89.7,377.5" stroke-width="3.4"/><path d="M89.7,377.5 C88.1,376.4 82.5,372.5 80.0,371.0 C77.5,369.5 76.9,370.2 74.8,368.6 C72.7,367.0 68.6,362.4 67.4,361.2" stroke-width="2"/><path d="M72,364 L70,358" stroke-width="1.5"/><path d="M76,369 L71,372" stroke-width="1.4"/><path d="M89.7,377.5 C88.1,378.1 82.6,379.8 80.0,381.0 C77.4,382.2 76.1,383.6 74.0,385.0 C71.9,386.4 68.5,388.6 67.4,389.3" stroke-width="2"/><path d="M73,386 L76.3,390.8" stroke-width="1.5"/><path d="M89.7,377.5 C90.0,375.8 91.2,371.0 91.2,367.0 C91.2,363.0 90.0,355.9 89.7,353.7" stroke-width="2"/><path d="M91,362 L101.5,356.7" stroke-width="1.6"/><path d="M90,358 L85,354" stroke-width="1.4"/><path d="M68.0,385.0 C67.0,384.7 65.0,382.2 62.0,383.0 C59.0,383.8 52.0,388.8 50.0,390.0" stroke-width="1.8"/><path d="M144.6,385.3 C144.6,383.4 144.6,377.4 144.6,374.1 C144.6,370.8 144.6,367.1 144.6,365.7" stroke-width="2.5"/><path d="M144.6,371.3 L140.4,362.9" stroke-width="1.8"/><path d="M144.6,371.3 L150.2,364.3" stroke-width="1.8"/><path d="M151.6,388.1 C153.7,386.9 159.8,382.5 164.2,381.1 C168.6,379.7 175.9,379.9 178.2,379.7" stroke-width="2.5"/><path d="M169.8,380.4 L176.8,374.1" stroke-width="1.8"/><path d="M153.0,395.1 C154.9,395.8 160.2,398.0 164.2,399.3 C168.2,400.6 174.7,402.2 176.8,402.8" stroke-width="2.5"/><path d="M172.6,402.1 L178.2,397.9" stroke-width="1.8"/><path d="M140.4,397.9 C138.8,399.1 134.1,402.8 130.6,404.9 C127.1,407.0 121.3,409.6 119.4,410.5" stroke-width="2.5"/><path d="M125,407.7 L123.6,401.4" stroke-width="1.8"/><path d="M146.0,399.3 C146.0,401.6 146.2,408.6 146.0,413.3 C145.8,418.0 144.8,425.0 144.6,427.3" stroke-width="2.5"/><path d="M145.3,418.9 L139,427.3" stroke-width="1.8"/><path d="M145.3,418.9 L151.6,425.9" stroke-width="1.8"/></g><g transform="translate(144.6,392.3) scale(1.4)"><path d="M6.6,1.8 C6.2,3.5 3.5,5.4 1.6,6.0 C-0.3,6.5 -3.6,6.1 -4.8,4.8 C-6.1,3.6 -6.5,0.3 -6.0,-1.6 C-5.4,-3.5 -3.5,-6.2 -1.8,-6.6 C-0.1,-7.1 3.0,-5.8 4.4,-4.4 C5.8,-3.0 7.1,0.1 6.6,1.8Z" fill="#7fb8e8" stroke="#6fa7da" stroke-width="0.8"/><circle r="3.2" fill="#4a87c6"/></g><g fill="none" stroke="#5e9f4e" stroke-linecap="round" stroke-linejoin="round"><path d="M101.5,335.1 C100.8,334.4 99.0,332.4 97.5,331.1 C96.0,329.8 95.0,328.1 92.5,327.1 C90.0,326.1 86.5,325.4 82.5,325.1 C78.5,324.8 70.8,325.1 68.5,325.1" stroke-width="2"/><path d="M101.5,345.1 C100.2,345.8 96.8,348.1 93.5,349.1 C90.2,350.1 85.6,350.4 81.5,351.1 C77.4,351.9 71.1,353.2 69.0,353.6" stroke-width="2"/><path d="M77.5,351.6 L71.5,358.1" stroke-width="1.8"/><path d="M108.5,349.1 C108.7,350.8 109.2,355.1 109.5,359.1 C109.8,363.1 110.3,370.8 110.5,373.1" stroke-width="2"/><path d="M109.5,363.1 L115.5,369.1" stroke-width="1.8"/><path d="M113.5,347.1 C114.8,348.4 118.5,353.1 121.5,355.1 C124.5,357.1 128.4,358.2 131.5,359.1 C134.6,360.0 138.6,360.4 140.0,360.6" stroke-width="2"/><path d="M115.5,340.1 C117.0,339.6 121.7,337.8 124.5,337.1 C127.3,336.4 131.2,336.3 132.5,336.1" stroke-width="2"/><path d="M127.5,336.6 L134.5,340.1" stroke-width="1.8"/></g><g transform="translate(107.5,341.1) scale(1)"><circle r="8.8" fill="#7cc46b" stroke="#5e9f4e" stroke-width="0.9"/><circle cx="0.5" cy="0.5" r="4.8" fill="#69b458" opacity="0.8"/></g><g transform="translate(166.8,348.5) rotate(0) scale(1)"><path d="M-8.2,-3.8 L-8.7,-8.4 L-9.7,-7.1 L-5.1,-7.4 L-7.1,-5.5 L-12.9,-18.4 L-14.2,-17.5 L-3.3,-8.4 L-3.8,-8.2 L-1.2,-11.8 L-2.7,-11.5 L0.9,-9 L4.9,-7.6 L18.5,-15.4 L17.4,-16.6 L8.1,-4 L7.9,-4.3 L19.1,-3.6 L18.7,-5.1 L9,0.4 L9,-0.9 L16.4,3.7 L16.6,2.1 L8.1,3.9 L7.5,4.9 L14,17 L15.1,16 L3.9,8.1 L-1.8,8.8 L-8.5,14.7 L-7,15.4 L-6.1,6.6 L-6.9,5.8 L-22.6,9.5 L-22,10.9 L-8.9,1.4Z" fill="#f0d47f" stroke="#d5b65e" stroke-width="1.1" stroke-linejoin="round"/><g stroke="#d5b65e" stroke-width="1.6" stroke-linecap="round"><path d="M-9.5,-12.5 L-12.5,-10.5"/><path d="M13,-12 L12,-15"/><path d="M-15,7 L-15.5,10.5"/><path d="M15.5,12.5 L12.5,13.5"/></g><ellipse cx="-1" cy="0.5" rx="3.8" ry="4.2" fill="#e0ae48"/></g><g fill="#6fa7da" stroke="#6fa7da" stroke-width="0.01"><path d="M330.4,406.5 L327.9,405.7 L324.5,404.5 L320.4,403.1 L316.0,401.7 L311.4,400.3 L307.2,399.1 L302.8,398.0 L298.0,396.7 L293.3,395.4 L288.8,394.2 L285.1,393.2 L282.4,392.5 L281.6,395.5 L284.3,396.3 L288.0,397.3 L292.4,398.5 L297.1,399.8 L301.8,401.3 L305.9,402.9 L309.9,404.5 L314.2,406.4 L318.4,408.3 L322.3,410.1 L325.6,411.6 L328.0,412.7Z"/><path d="M331.8,409.6 L331.8,408.9 L331.7,407.9 L331.6,406.8 L331.5,405.5 L331.4,404.1 L331.2,402.6 L331.1,400.9 L331.0,399.1 L330.8,397.1 L330.6,395.1 L330.5,393.2 L330.4,391.4 L330.4,389.7 L330.4,388.1 L330.4,386.5 L330.4,385.1 L330.4,383.9 L330.4,383.0 L328.0,383.0 L328.0,383.9 L328.0,385.1 L328.0,386.5 L328.0,388.1 L328.0,389.7 L328.0,391.4 L327.9,393.2 L327.8,395.1 L327.6,397.1 L327.4,399.1 L327.3,400.9 L327.2,402.6 L327.0,404.1 L326.9,405.5 L326.8,406.8 L326.7,407.9 L326.6,408.9 L326.6,409.6Z"/><path d="M330.6,411.8 L331.2,411.4 L332.1,410.8 L333.2,410.0 L334.4,409.2 L335.8,408.2 L337.3,407.2 L339.0,406.1 L340.9,404.8 L343.0,403.5 L345.1,402.1 L347.3,400.8 L349.4,399.5 L351.6,398.5 L354.0,397.4 L356.4,396.3 L358.6,395.3 L360.5,394.5 L361.9,393.9 L360.9,391.7 L359.5,392.2 L357.6,393.1 L355.4,394.0 L353.0,395.1 L350.5,396.2 L348.2,397.3 L346.0,398.3 L343.6,399.4 L341.3,400.5 L339.1,401.6 L337.0,402.6 L335.1,403.6 L333.5,404.4 L332.0,405.2 L330.6,405.9 L329.5,406.5 L328.6,407.0 L327.8,407.4Z"/><path d="M328.4,412.1 L329.3,412.3 L330.5,412.6 L332.0,413.0 L333.6,413.4 L335.2,413.9 L336.9,414.4 L338.6,414.9 L340.4,415.4 L342.2,416.0 L344.2,416.6 L346.2,417.3 L348.4,417.9 L350.8,418.5 L353.4,419.4 L356.1,420.2 L358.7,420.9 L360.9,421.5 L362.4,422.0 L363.2,419.6 L361.6,419.1 L359.4,418.5 L356.9,417.8 L354.1,417.0 L351.5,416.2 L349.2,415.3 L347.2,414.5 L345.3,413.7 L343.5,412.8 L341.7,412.0 L340.0,411.2 L338.3,410.4 L336.7,409.8 L335.0,409.1 L333.4,408.5 L332.0,407.9 L330.9,407.4 L330.0,407.1Z"/><path d="M327.0,408.2 L326.6,408.8 L326.2,409.7 L325.7,410.6 L325.1,411.6 L324.4,412.6 L323.6,413.6 L322.4,414.7 L321.1,416.0 L319.5,417.3 L317.9,418.6 L316.2,419.9 L314.5,421.1 L312.7,422.2 L310.6,423.3 L308.4,424.3 L306.4,425.3 L304.7,426.1 L303.5,426.7 L304.5,428.9 L305.8,428.3 L307.5,427.5 L309.5,426.6 L311.7,425.5 L313.9,424.4 L315.9,423.3 L317.8,422.3 L319.7,421.2 L321.5,420.1 L323.3,419.0 L325.0,417.9 L326.4,416.8 L327.7,415.6 L328.8,414.4 L329.7,413.3 L330.5,412.3 L331.0,411.6 L331.4,411.0Z"/><path d="M326.7,410.2 L326.9,410.9 L327.2,411.8 L327.5,412.8 L327.9,413.9 L328.2,415.2 L328.4,416.8 L328.6,418.6 L328.8,420.8 L329.0,423.2 L329.1,425.6 L329.2,428.1 L329.3,430.5 L329.2,433.0 L328.9,435.7 L328.7,438.3 L328.4,440.8 L328.1,442.9 L328.0,444.5 L330.4,444.7 L330.6,443.2 L330.9,441.1 L331.1,438.6 L331.4,435.9 L331.7,433.2 L331.9,430.7 L332.2,428.2 L332.4,425.7 L332.5,423.2 L332.7,420.7 L332.8,418.5 L332.8,416.4 L332.7,414.6 L332.5,413.0 L332.3,411.6 L332.0,410.5 L331.9,409.6 L331.7,409.0Z"/></g><g fill="none" stroke="#6fa7da" stroke-linecap="round" stroke-linejoin="round"><path d="M329.2,409.6 C325.4,408.2 314.4,403.6 306.5,401.0 C298.7,398.4 286.1,395.2 282.0,394.0" stroke-width="3.2"/><path d="M282.0,394.0 C280.3,393.0 275.0,389.5 272.0,388.0 C269.0,386.5 266.8,386.3 264.0,385.0 C261.2,383.7 256.5,380.8 255.0,380.0" stroke-width="1.8"/><path d="M264,385 L259,378" stroke-width="1.3"/><path d="M255,380 L249,382" stroke-width="1.2"/><path d="M255,380 L252,375" stroke-width="1.2"/><path d="M282.0,394.0 C281.5,392.3 279.8,387.0 279.0,384.0 C278.2,381.0 277.5,378.3 277.0,376.0 C276.5,373.7 276.2,371.0 276.0,370.0" stroke-width="1.8"/><path d="M278,379 L285,375" stroke-width="1.3"/><path d="M276,372 L271,369" stroke-width="1.2"/><path d="M276,371 L279,366" stroke-width="1.2"/><path d="M272.0,388.0 C271.0,389.3 267.7,393.3 266.0,396.0 C264.3,398.7 262.7,402.7 262.0,404.0" stroke-width="1.6"/><path d="M265,398 L259,400" stroke-width="1.2"/><path d="M329.2,402.6 C329.2,400.7 329.2,394.7 329.2,391.4 C329.2,388.1 329.2,384.4 329.2,383.0" stroke-width="2.5"/><path d="M329.2,388.6 L325,380.2" stroke-width="1.8"/><path d="M329.2,388.6 L334.8,381.6" stroke-width="1.8"/><path d="M336.2,405.4 C338.3,404.2 344.6,400.5 348.8,398.4 C353.0,396.3 359.3,393.7 361.4,392.8" stroke-width="2.5"/><path d="M354.4,395.6 L361.4,398.4" stroke-width="1.8"/><path d="M337.6,412.4 C339.5,413.1 344.6,415.2 348.8,416.6 C353.0,418.0 360.5,420.1 362.8,420.8" stroke-width="2.5"/><path d="M358.6,419.4 L362.8,415.2" stroke-width="1.8"/><path d="M325.0,415.2 C323.4,416.4 318.7,420.1 315.2,422.2 C311.7,424.3 305.9,426.9 304.0,427.8" stroke-width="2.5"/><path d="M309.6,425 L308.2,418.7" stroke-width="1.8"/><path d="M330.6,416.6 C330.6,418.9 330.8,425.9 330.6,430.6 C330.4,435.3 329.4,442.3 329.2,444.6" stroke-width="2.5"/><path d="M329.9,436.2 L323.6,444.6" stroke-width="1.8"/><path d="M329.9,436.2 L336.2,443.2" stroke-width="1.8"/></g><g transform="translate(329.2,409.6) scale(1.4)"><path d="M6.4,1.7 C6.0,3.4 3.4,5.3 1.5,5.8 C-0.3,6.3 -3.5,5.9 -4.7,4.7 C-5.9,3.5 -6.3,0.3 -5.8,-1.5 C-5.3,-3.4 -3.4,-6.0 -1.7,-6.4 C-0.1,-6.9 2.9,-5.6 4.2,-4.2 C5.6,-2.9 6.9,0.1 6.4,1.7Z" fill="#7fb8e8" stroke="#6fa7da" stroke-width="0.8"/><circle r="3.1" fill="#4a87c6"/></g><g fill="#8d84c8" stroke="#8d84c8" stroke-width="0.01"><path d="M258.7,423.8 L258.6,423.8 L258.8,423.8 L259.4,423.7 L260.5,419.5 L259.5,419.0 L258.6,418.8 L257.1,418.4 L255.1,418.0 L252.6,417.4 L250.1,416.9 L247.5,416.5 L245.2,416.2 L243.3,416.1 L241.4,416.0 L239.5,416.0 L237.7,416.2 L235.8,416.5 L233.9,417.0 L232.0,417.9 L230.2,419.1 L228.4,420.4 L226.7,421.7 L224.9,422.7 L223.1,423.5 L220.9,424.0 L218.3,424.4 L215.6,424.6 L213.0,424.7 L210.8,424.8 L209.2,425.0 L209.4,427.0 L210.9,426.9 L213.1,426.8 L215.7,426.7 L218.5,426.4 L221.3,426.1 L223.7,425.5 L225.9,424.6 L227.8,423.4 L229.7,422.2 L231.4,421.1 L233.1,420.2 L234.7,419.6 L236.3,419.3 L237.9,419.1 L239.5,419.1 L241.2,419.3 L242.9,419.5 L244.8,419.8 L246.8,420.2 L249.2,420.8 L251.6,421.5 L254.0,422.2 L256.0,422.8 L257.4,423.2 L258.1,423.5 L257.6,423.2 L258.6,419.0 L258.8,419.0 L258.5,419.0 L258.1,419.0Z"/><path d="M260.5,420.5 L260.3,420.0 L260.0,419.4 L259.6,418.5 L259.1,417.5 L258.5,416.4 L257.8,415.1 L256.9,413.6 L255.9,411.9 L254.8,410.0 L253.6,408.1 L252.4,406.2 L251.3,404.3 L250.2,402.5 L249.1,400.5 L248.0,398.5 L246.8,396.5 L245.7,394.6 L244.4,392.8 L242.8,391.1 L241.0,389.5 L239.2,388.0 L237.4,386.7 L235.9,385.6 L234.9,384.8 L233.7,386.4 L234.7,387.2 L236.2,388.3 L237.9,389.6 L239.7,391.0 L241.4,392.5 L242.8,394.0 L244.0,395.7 L245.1,397.5 L246.0,399.5 L246.9,401.6 L247.8,403.7 L248.7,405.7 L249.7,407.7 L250.7,409.7 L251.7,411.7 L252.7,413.7 L253.5,415.4 L254.2,416.9 L254.8,418.2 L255.2,419.3 L255.6,420.2 L255.8,421.0 L256.1,421.7 L256.3,422.3Z"/><path d="M260.5,421.3 L260.4,420.7 L260.4,419.9 L260.3,418.8 L260.2,417.5 L260.0,415.9 L259.7,413.8 L259.3,411.2 L258.8,408.1 L258.1,404.7 L257.6,401.2 L257.1,397.9 L256.9,395.0 L257.0,392.5 L257.2,390.0 L257.6,387.7 L257.9,385.7 L258.3,383.9 L258.5,382.6 L256.7,382.4 L256.5,383.6 L256.2,385.3 L255.8,387.4 L255.4,389.8 L255.2,392.3 L255.1,395.0 L255.2,398.0 L255.4,401.4 L255.6,405.0 L255.9,408.5 L256.1,411.6 L256.3,414.2 L256.4,416.1 L256.4,417.7 L256.4,419.0 L256.4,420.0 L256.3,420.8 L256.3,421.5Z"/><path d="M260.2,422.9 L260.6,422.3 L261.1,421.6 L261.7,420.7 L262.5,419.7 L263.4,418.6 L264.5,417.3 L265.7,415.6 L267.0,413.7 L268.4,411.7 L269.9,409.8 L271.6,408.2 L273.6,406.9 L276.4,406.1 L280.0,405.6 L284.0,405.4 L287.9,405.4 L291.2,405.4 L293.5,405.3 L293.5,403.3 L291.2,403.4 L287.9,403.4 L284.0,403.4 L279.9,403.6 L276.0,404.0 L272.8,404.7 L270.1,405.9 L267.8,407.7 L265.9,409.6 L264.2,411.6 L262.8,413.3 L261.5,414.7 L260.3,415.9 L259.3,417.0 L258.4,418.0 L257.7,418.8 L257.1,419.4 L256.6,419.9Z"/><path d="M256.1,420.6 L255.9,421.2 L255.8,421.9 L255.6,422.6 L255.3,423.5 L254.9,424.5 L254.2,425.9 L253.2,427.7 L251.9,429.8 L250.4,432.1 L248.9,434.6 L247.2,436.9 L245.7,439.1 L244.0,441.1 L242.1,443.1 L240.2,445.0 L238.2,446.9 L236.4,448.7 L235.0,450.4 L233.9,452.1 L233.1,453.8 L232.6,455.4 L232.2,456.8 L231.9,457.9 L231.7,458.7 L233.7,459.3 L234.0,458.4 L234.2,457.3 L234.6,456.0 L235.0,454.6 L235.7,453.1 L236.6,451.6 L238.0,450.1 L239.6,448.4 L241.6,446.6 L243.7,444.7 L245.8,442.8 L247.7,440.9 L249.6,438.8 L251.5,436.5 L253.3,434.2 L255.0,431.9 L256.6,429.9 L257.8,428.1 L258.8,426.6 L259.5,425.3 L260.0,424.2 L260.3,423.2 L260.5,422.6 L260.7,422.2Z"/><path d="M256.5,422.9 L257.0,423.5 L257.7,424.3 L258.6,425.3 L259.5,426.4 L260.5,427.4 L261.5,428.5 L262.5,429.4 L263.6,430.1 L264.5,430.8 L265.4,431.4 L266.2,432.1 L266.9,433.2 L267.6,434.5 L268.2,436.1 L268.8,438.1 L269.6,440.3 L270.7,442.8 L272.1,445.4 L274.3,448.4 L276.9,452.0 L279.7,455.8 L282.4,459.4 L284.7,462.5 L286.4,464.6 L288.0,463.4 L286.4,461.2 L284.1,458.1 L281.3,454.6 L278.5,450.8 L276.0,447.2 L274.3,444.2 L273.1,441.7 L272.3,439.4 L271.8,437.3 L271.3,435.2 L270.8,433.3 L270.1,431.4 L269.1,429.9 L268.0,428.6 L267.0,427.7 L266.0,426.9 L265.2,426.3 L264.5,425.5 L263.8,424.6 L262.9,423.5 L262.1,422.4 L261.4,421.4 L260.7,420.5 L260.3,419.9Z"/></g><g fill="none" stroke="#8d84c8" stroke-linecap="round" stroke-linejoin="round"><path d="M258.0,421.0 C255.8,420.5 248.9,418.4 245.0,418.0 C241.1,417.6 237.9,417.2 234.3,418.3 C230.7,419.4 227.6,423.2 223.4,424.5 C219.2,425.8 211.7,425.8 209.3,426.0" stroke-width="2.1"/><path d="M223,424 L229.6,433.9" stroke-width="1.6"/><path d="M217,426 L215.6,431.5" stroke-width="1.5"/><path d="M256.0,416.0 C255.0,414.2 252.1,408.8 250.0,405.0 C247.9,401.2 246.2,396.6 243.6,393.4 C241.0,390.2 235.9,386.9 234.3,385.6" stroke-width="2"/><path d="M244,394 L243.6,379.3" stroke-width="1.5"/><path d="M258.0,414.0 C257.7,410.8 256.1,400.2 256.0,395.0 C255.9,389.8 257.3,384.6 257.6,382.5" stroke-width="1.8"/><path d="M263.0,416.0 C264.7,414.3 268.1,407.8 273.2,405.8 C278.3,403.9 290.1,404.6 293.5,404.3" stroke-width="2"/><path d="M276.0,404.0 C276.8,401.4 279.2,390.7 281.0,388.7 C282.8,386.7 286.0,391.3 287.0,391.8" stroke-width="1.6"/><path d="M256.0,427.0 C254.4,429.2 250.1,436.0 246.7,440.0 C243.3,444.0 238.1,447.8 235.8,451.0 C233.5,454.2 233.2,457.7 232.7,459.0" stroke-width="2.1"/><path d="M263.0,427.0 C263.9,427.9 266.8,429.3 268.5,432.3 C270.2,435.3 270.1,439.5 273.2,444.8 C276.3,450.1 284.9,460.8 287.2,464.0" stroke-width="2.1"/><path d="M272,446 L262.3,464" stroke-width="1.8"/><path d="M275.0,450.0 C275.2,451.2 276.3,454.9 276.3,457.2 C276.3,459.5 275.1,462.9 274.8,464.0" stroke-width="1.6"/></g><ellipse cx="287.2" cy="464.5" rx="3" ry="2" fill="#8d84c8"/><ellipse cx="262.3" cy="464.5" rx="3" ry="2" fill="#8d84c8"/><ellipse cx="232.7" cy="459.5" rx="3" ry="2" fill="#8d84c8"/><g transform="translate(258.4,421.4) scale(1.4)"><path d="M5.4,1.4 C5.0,2.9 2.9,4.4 1.3,4.9 C-0.3,5.3 -2.9,5.0 -4.0,4.0 C-5.0,2.9 -5.3,0.3 -4.9,-1.3 C-4.4,-2.9 -2.9,-5.0 -1.4,-5.4 C-0.0,-5.8 2.4,-4.7 3.6,-3.6 C4.7,-2.4 5.8,0.0 5.4,1.4Z" fill="#9b91d3" stroke="#8d84c8" stroke-width="0.8"/><circle r="2.8" fill="#6e5eb3"/></g><g fill="#8d84c8" stroke="#8d84c8" stroke-width="0.01"><path d="M410.4,435.2 L409.7,434.7 L408.9,434.0 L407.9,433.1 L406.9,432.2 L405.8,431.2 L404.7,430.2 L403.6,429.1 L402.3,427.9 L401.1,426.6 L399.9,425.4 L398.7,424.1 L397.7,422.8 L396.9,421.4 L396.1,419.9 L395.5,418.3 L394.8,416.6 L394.0,415.0 L393.2,413.6 L392.4,412.3 L391.4,411.2 L390.4,410.3 L389.5,409.4 L388.5,408.6 L387.6,407.9 L386.6,407.1 L385.5,406.4 L384.4,405.8 L383.4,405.2 L382.6,404.8 L382.1,404.4 L380.9,406.3 L381.5,406.7 L382.4,407.1 L383.3,407.7 L384.3,408.3 L385.3,408.9 L386.2,409.6 L387.1,410.3 L388.0,411.1 L388.9,411.9 L389.8,412.7 L390.6,413.7 L391.4,414.7 L392.0,416.0 L392.5,417.5 L393.0,419.1 L393.6,420.9 L394.2,422.7 L395.0,424.4 L396.0,426.1 L397.0,427.6 L398.2,429.2 L399.4,430.6 L400.5,432.0 L401.5,433.2 L402.5,434.4 L403.5,435.6 L404.5,436.7 L405.4,437.6 L406.1,438.4 L406.6,439.0Z"/><path d="M410.4,439.0 L410.9,438.4 L411.5,437.7 L412.3,436.8 L413.2,435.8 L414.3,434.6 L415.5,433.3 L416.9,431.6 L418.6,429.7 L420.4,427.6 L422.2,425.5 L424.0,423.6 L425.6,422.0 L427.1,420.7 L428.5,419.6 L429.9,418.7 L431.3,417.9 L432.9,417.2 L434.5,416.5 L436.5,415.9 L438.7,415.4 L441.0,414.9 L443.2,414.5 L445.1,414.2 L446.5,413.9 L446.1,411.7 L444.7,412.0 L442.9,412.3 L440.6,412.7 L438.2,413.2 L435.9,413.8 L433.8,414.5 L432.0,415.2 L430.4,415.9 L428.8,416.7 L427.2,417.6 L425.5,418.6 L423.8,419.8 L421.9,421.3 L419.8,423.1 L417.7,425.0 L415.7,426.9 L413.9,428.7 L412.3,430.1 L411.0,431.3 L409.8,432.4 L408.8,433.3 L407.9,434.1 L407.2,434.7 L406.6,435.2Z"/><path d="M406.7,435.0 L406.2,435.5 L405.4,436.2 L404.3,437.2 L403.2,438.4 L402.0,439.8 L401.1,441.5 L400.5,443.4 L400.1,445.3 L399.8,447.4 L399.6,449.4 L399.3,451.3 L399.0,452.9 L398.7,454.4 L398.4,455.9 L398.0,457.2 L397.6,458.5 L397.1,459.7 L396.6,461.0 L396.1,462.3 L395.4,463.7 L394.8,465.1 L394.2,466.4 L393.7,467.5 L393.3,468.3 L395.4,469.3 L395.7,468.5 L396.3,467.4 L396.9,466.1 L397.6,464.7 L398.2,463.2 L398.8,461.8 L399.3,460.5 L399.7,459.2 L400.2,457.9 L400.7,456.6 L401.2,455.2 L401.8,453.7 L402.3,451.9 L402.8,450.0 L403.4,448.1 L403.9,446.3 L404.5,444.7 L405.1,443.5 L405.8,442.6 L406.6,441.8 L407.6,441.1 L408.6,440.4 L409.6,439.8 L410.3,439.2Z"/><path d="M406.0,438.0 L406.4,438.7 L406.9,439.7 L407.4,440.9 L408.1,442.2 L408.8,443.4 L409.6,444.7 L410.3,445.8 L411.1,446.9 L412.0,448.0 L412.8,449.1 L413.6,450.2 L414.3,451.2 L415.1,452.3 L415.9,453.4 L416.6,454.4 L417.4,455.3 L418.0,456.1 L418.4,456.7 L420.2,455.3 L419.7,454.7 L419.1,454.0 L418.4,453.0 L417.6,452.0 L416.9,451.0 L416.2,450.0 L415.5,448.9 L414.9,447.8 L414.3,446.6 L413.8,445.4 L413.3,444.2 L412.8,443.0 L412.5,441.8 L412.1,440.5 L411.7,439.2 L411.4,438.0 L411.2,436.9 L411.0,436.2Z"/><path d="M407.8,439.8 L408.4,439.9 L409.3,440.1 L410.5,440.4 L412.0,440.7 L413.5,440.9 L415.3,440.9 L417.3,440.6 L419.2,440.1 L421.1,439.5 L422.9,439.0 L424.4,438.8 L425.4,438.9 L426.4,439.4 L427.5,440.2 L428.6,441.4 L429.7,442.8 L430.7,444.3 L431.6,445.8 L432.3,447.3 L433.0,448.9 L433.4,450.6 L433.8,452.4 L434.1,454.2 L434.3,456.1 L434.5,458.2 L434.5,460.6 L434.5,463.1 L434.4,465.4 L434.4,467.4 L434.3,468.8 L436.7,468.9 L436.7,467.4 L436.8,465.5 L436.8,463.1 L436.9,460.6 L436.8,458.1 L436.7,455.9 L436.4,453.9 L436.1,451.9 L435.7,450.0 L435.2,448.2 L434.7,446.4 L434.0,444.6 L433.2,442.9 L432.3,441.1 L431.2,439.4 L430.0,437.8 L428.5,436.4 L426.7,435.3 L424.5,434.8 L422.3,434.9 L420.2,435.2 L418.2,435.6 L416.5,435.9 L415.2,436.0 L414.1,435.9 L412.9,435.6 L411.9,435.3 L410.9,435.0 L409.9,434.6 L409.2,434.4Z"/></g><g fill="none" stroke="#8d84c8" stroke-linecap="round" stroke-linejoin="round"><path d="M403.1,431.7 C402.0,430.4 398.2,426.5 396.4,423.6 C394.6,420.7 393.9,416.6 392.3,414.2 C390.7,411.7 388.7,410.2 386.9,408.8 C385.1,407.3 382.4,405.9 381.5,405.4" stroke-width="2.2"/><path d="M392.3,414.2 C393.0,413.2 394.7,410.4 396.4,408.8 C398.0,407.1 401.4,404.8 402.4,404.0" stroke-width="2"/><path d="M413.9,431.7 C415.7,429.9 421.3,423.6 424.7,420.9 C428.1,418.2 430.5,416.9 434.1,415.5 C437.8,414.1 444.3,413.2 446.3,412.8" stroke-width="2.2"/><path d="M426.1,419.6 C426.5,418.4 428.2,415.1 428.8,412.8 C429.3,410.6 429.3,407.2 429.4,406.1" stroke-width="1.9"/><path d="M403.1,442.5 C402.7,444.3 401.3,450.1 400.4,453.3 C399.5,456.5 398.7,458.8 397.7,461.4 C396.7,464.0 394.9,467.6 394.3,468.8" stroke-width="2.3"/><path d="M411.2,443.9 C411.9,445.0 413.9,448.6 415.2,450.6 C416.6,452.6 418.6,455.1 419.3,456.0" stroke-width="2.2"/><path d="M419.3,456.0 C418.4,456.7 415.0,458.8 413.9,460.1 C412.8,461.3 412.8,462.9 412.6,463.4" stroke-width="2.1"/><path d="M419.3,456.0 C420.0,456.9 422.2,460.2 423.4,461.4 C424.5,462.6 425.6,463.1 426.1,463.4" stroke-width="2.1"/><path d="M415.2,438.5 C417.1,438.2 423.1,436.0 426.1,437.1 C429.0,438.2 431.2,442.1 432.8,445.2 C434.4,448.4 435.1,452.1 435.5,456.0 C435.9,459.9 435.5,466.7 435.5,468.8" stroke-width="2.3"/></g><g transform="translate(408.5,437.1) scale(1.4)"><path d="M5.8,1.6 C5.4,3.1 3.1,4.8 1.4,5.2 C-0.3,5.7 -3.1,5.3 -4.2,4.2 C-5.3,3.1 -5.7,0.3 -5.2,-1.4 C-4.8,-3.1 -3.1,-5.4 -1.6,-5.8 C-0.0,-6.2 2.6,-5.0 3.8,-3.8 C5.0,-2.6 6.2,0.0 5.8,1.6Z" fill="#9b91d3" stroke="#8d84c8" stroke-width="0.8"/><circle r="3" fill="#6e5eb3"/></g><g fill="#8d84c8" stroke="#8d84c8" stroke-width="0.01"><path d="M472.9,435.2 L472.2,434.7 L471.4,434.0 L470.4,433.1 L469.4,432.2 L468.3,431.2 L467.2,430.2 L466.1,429.1 L464.8,427.9 L463.6,426.6 L462.4,425.4 L461.2,424.1 L460.2,422.8 L459.4,421.4 L458.6,419.9 L458.0,418.3 L457.3,416.6 L456.5,415.0 L455.7,413.6 L454.9,412.3 L453.9,411.2 L452.9,410.3 L452.0,409.4 L451.0,408.6 L450.1,407.9 L449.1,407.1 L448.0,406.4 L446.9,405.8 L445.9,405.2 L445.1,404.8 L444.6,404.4 L443.4,406.3 L444.0,406.7 L444.9,407.1 L445.8,407.7 L446.8,408.3 L447.8,408.9 L448.7,409.6 L449.6,410.3 L450.5,411.1 L451.4,411.9 L452.3,412.7 L453.1,413.7 L453.9,414.7 L454.5,416.0 L455.0,417.5 L455.5,419.1 L456.1,420.9 L456.7,422.7 L457.5,424.4 L458.5,426.1 L459.5,427.6 L460.7,429.2 L461.9,430.6 L463.0,432.0 L464.0,433.2 L465.0,434.4 L466.0,435.6 L467.0,436.7 L467.9,437.6 L468.6,438.4 L469.1,439.0Z"/><path d="M472.9,439.0 L473.4,438.4 L474.0,437.7 L474.8,436.8 L475.7,435.8 L476.8,434.6 L478.0,433.3 L479.4,431.6 L481.1,429.7 L482.9,427.6 L484.7,425.5 L486.5,423.6 L488.1,422.0 L489.6,420.7 L491.0,419.6 L492.4,418.7 L493.8,417.9 L495.4,417.2 L497.0,416.5 L499.0,415.9 L501.2,415.4 L503.5,414.9 L505.7,414.5 L507.6,414.2 L509.0,413.9 L508.6,411.7 L507.2,412.0 L505.4,412.3 L503.1,412.7 L500.7,413.2 L498.4,413.8 L496.3,414.5 L494.5,415.2 L492.9,415.9 L491.3,416.7 L489.7,417.6 L488.0,418.6 L486.3,419.8 L484.4,421.3 L482.3,423.1 L480.2,425.0 L478.2,426.9 L476.4,428.7 L474.8,430.1 L473.5,431.3 L472.3,432.4 L471.3,433.3 L470.4,434.1 L469.7,434.7 L469.1,435.2Z"/><path d="M469.2,435.0 L468.7,435.5 L467.9,436.2 L466.8,437.2 L465.7,438.4 L464.5,439.8 L463.6,441.5 L463.0,443.4 L462.6,445.3 L462.3,447.4 L462.1,449.4 L461.8,451.3 L461.5,452.9 L461.2,454.4 L460.9,455.9 L460.5,457.2 L460.1,458.5 L459.6,459.7 L459.1,461.0 L458.6,462.3 L457.9,463.7 L457.3,465.1 L456.7,466.4 L456.2,467.5 L455.8,468.3 L457.9,469.3 L458.2,468.5 L458.8,467.4 L459.4,466.1 L460.1,464.7 L460.7,463.2 L461.3,461.8 L461.8,460.5 L462.2,459.2 L462.7,457.9 L463.2,456.6 L463.7,455.2 L464.3,453.7 L464.8,451.9 L465.3,450.0 L465.9,448.1 L466.4,446.3 L467.0,444.7 L467.6,443.5 L468.3,442.6 L469.1,441.8 L470.1,441.1 L471.1,440.4 L472.1,439.8 L472.8,439.2Z"/><path d="M468.5,438.0 L468.9,438.7 L469.4,439.7 L469.9,440.9 L470.6,442.2 L471.3,443.4 L472.1,444.7 L472.8,445.8 L473.6,446.9 L474.5,448.0 L475.3,449.1 L476.1,450.2 L476.8,451.2 L477.6,452.3 L478.4,453.4 L479.1,454.4 L479.9,455.3 L480.5,456.1 L480.9,456.7 L482.7,455.3 L482.2,454.7 L481.6,454.0 L480.9,453.0 L480.1,452.0 L479.4,451.0 L478.7,450.0 L478.0,448.9 L477.4,447.8 L476.8,446.6 L476.3,445.4 L475.8,444.2 L475.3,443.0 L475.0,441.8 L474.6,440.5 L474.2,439.2 L473.9,438.0 L473.7,436.9 L473.5,436.2Z"/><path d="M470.3,439.8 L470.9,439.9 L471.8,440.1 L473.0,440.4 L474.5,440.7 L476.0,440.9 L477.8,440.9 L479.8,440.6 L481.7,440.1 L483.6,439.5 L485.4,439.0 L486.9,438.8 L487.9,438.9 L488.9,439.4 L490.0,440.2 L491.1,441.4 L492.2,442.8 L493.2,444.3 L494.1,445.8 L494.8,447.3 L495.5,448.9 L495.9,450.6 L496.3,452.4 L496.6,454.2 L496.8,456.1 L497.0,458.2 L497.0,460.6 L497.0,463.1 L496.9,465.4 L496.9,467.4 L496.8,468.8 L499.2,468.9 L499.2,467.4 L499.3,465.5 L499.3,463.1 L499.4,460.6 L499.3,458.1 L499.2,455.9 L498.9,453.9 L498.6,451.9 L498.2,450.0 L497.7,448.2 L497.2,446.4 L496.5,444.6 L495.7,442.9 L494.8,441.1 L493.7,439.4 L492.5,437.8 L491.0,436.4 L489.2,435.3 L487.0,434.8 L484.8,434.9 L482.7,435.2 L480.7,435.6 L479.0,435.9 L477.7,436.0 L476.6,435.9 L475.4,435.6 L474.4,435.3 L473.4,435.0 L472.4,434.6 L471.7,434.4Z"/></g><g fill="none" stroke="#8d84c8" stroke-linecap="round" stroke-linejoin="round"><path d="M465.6,431.7 C464.5,430.4 460.7,426.5 458.9,423.6 C457.1,420.7 456.4,416.6 454.8,414.2 C453.2,411.7 451.2,410.2 449.4,408.8 C447.6,407.3 444.9,405.9 444.0,405.4" stroke-width="2.2"/><path d="M454.8,414.2 C455.5,413.2 457.2,410.4 458.9,408.8 C460.5,407.1 463.9,404.8 464.9,404.0" stroke-width="2"/><path d="M476.4,431.7 C478.2,429.9 483.8,423.6 487.2,420.9 C490.6,418.2 493.0,416.9 496.6,415.5 C500.2,414.1 506.8,413.2 508.8,412.8" stroke-width="2.2"/><path d="M488.6,419.6 C489.0,418.4 490.7,415.1 491.2,412.8 C491.8,410.6 491.8,407.2 491.9,406.1" stroke-width="1.9"/><path d="M465.6,442.5 C465.2,444.3 463.8,450.1 462.9,453.3 C462.0,456.5 461.2,458.8 460.2,461.4 C459.2,464.0 457.4,467.6 456.8,468.8" stroke-width="2.3"/><path d="M473.7,443.9 C474.4,445.0 476.4,448.6 477.8,450.6 C479.1,452.6 481.1,455.1 481.8,456.0" stroke-width="2.2"/><path d="M481.8,456.0 C480.9,456.7 477.5,458.8 476.4,460.1 C475.3,461.3 475.3,462.9 475.1,463.4" stroke-width="2.1"/><path d="M481.8,456.0 C482.5,456.9 484.7,460.2 485.9,461.4 C487.0,462.6 488.1,463.1 488.6,463.4" stroke-width="2.1"/><path d="M477.8,438.5 C479.6,438.2 485.6,436.0 488.6,437.1 C491.5,438.2 493.7,442.1 495.3,445.2 C496.9,448.4 497.6,452.1 498.0,456.0 C498.4,459.9 498.0,466.7 498.0,468.8" stroke-width="2.3"/></g><g transform="translate(471,437.1) scale(1.4)"><path d="M5.8,1.6 C5.4,3.1 3.1,4.8 1.4,5.2 C-0.3,5.7 -3.1,5.3 -4.2,4.2 C-5.3,3.1 -5.7,0.3 -5.2,-1.4 C-4.8,-3.1 -3.1,-5.4 -1.6,-5.8 C-0.0,-6.2 2.6,-5.0 3.8,-3.8 C5.0,-2.6 6.2,0.0 5.8,1.6Z" fill="#9b91d3" stroke="#8d84c8" stroke-width="0.8"/><circle r="3" fill="#6e5eb3"/></g><g fill="#8d84c8" stroke="#8d84c8" stroke-width="0.01"><path d="M531.3,435.2 L530.6,434.7 L529.8,434.0 L528.8,433.1 L527.8,432.2 L526.7,431.2 L525.6,430.2 L524.5,429.1 L523.2,427.9 L522.0,426.6 L520.8,425.4 L519.6,424.1 L518.6,422.8 L517.8,421.4 L517.0,419.9 L516.4,418.3 L515.7,416.6 L514.9,415.0 L514.1,413.6 L513.3,412.3 L512.3,411.2 L511.3,410.3 L510.4,409.4 L509.4,408.6 L508.5,407.9 L507.5,407.1 L506.4,406.4 L505.3,405.8 L504.3,405.2 L503.5,404.8 L503.0,404.4 L501.8,406.3 L502.4,406.7 L503.3,407.1 L504.2,407.7 L505.2,408.3 L506.2,408.9 L507.1,409.6 L508.0,410.3 L508.9,411.1 L509.8,411.9 L510.7,412.7 L511.5,413.7 L512.3,414.7 L512.9,416.0 L513.4,417.5 L513.9,419.1 L514.5,420.9 L515.1,422.7 L515.9,424.4 L516.9,426.1 L517.9,427.6 L519.1,429.2 L520.3,430.6 L521.4,432.0 L522.4,433.2 L523.4,434.4 L524.4,435.6 L525.4,436.7 L526.3,437.6 L527.0,438.4 L527.5,439.0Z"/><path d="M531.3,439.0 L531.8,438.4 L532.4,437.7 L533.2,436.8 L534.1,435.8 L535.2,434.6 L536.4,433.3 L537.8,431.6 L539.5,429.7 L541.3,427.6 L543.1,425.5 L544.9,423.6 L546.5,422.0 L548.0,420.7 L549.4,419.6 L550.8,418.7 L552.2,417.9 L553.8,417.2 L555.4,416.5 L557.4,415.9 L559.6,415.4 L561.9,414.9 L564.1,414.5 L566.0,414.2 L567.4,413.9 L567.0,411.7 L565.6,412.0 L563.8,412.3 L561.5,412.7 L559.1,413.2 L556.8,413.8 L554.7,414.5 L552.9,415.2 L551.3,415.9 L549.7,416.7 L548.1,417.6 L546.4,418.6 L544.7,419.8 L542.8,421.3 L540.7,423.1 L538.6,425.0 L536.6,426.9 L534.8,428.7 L533.2,430.1 L531.9,431.3 L530.7,432.4 L529.7,433.3 L528.8,434.1 L528.1,434.7 L527.5,435.2Z"/><path d="M527.6,435.0 L527.1,435.5 L526.3,436.2 L525.2,437.2 L524.1,438.4 L522.9,439.8 L522.0,441.5 L521.4,443.4 L521.0,445.3 L520.7,447.4 L520.5,449.4 L520.2,451.3 L519.9,452.9 L519.6,454.4 L519.3,455.9 L518.9,457.2 L518.5,458.5 L518.0,459.7 L517.5,461.0 L517.0,462.3 L516.3,463.7 L515.7,465.1 L515.1,466.4 L514.6,467.5 L514.2,468.3 L516.3,469.3 L516.6,468.5 L517.2,467.4 L517.8,466.1 L518.5,464.7 L519.1,463.2 L519.7,461.8 L520.2,460.5 L520.6,459.2 L521.1,457.9 L521.6,456.6 L522.1,455.2 L522.7,453.7 L523.2,451.9 L523.7,450.0 L524.3,448.1 L524.8,446.3 L525.4,444.7 L526.0,443.5 L526.7,442.6 L527.5,441.8 L528.5,441.1 L529.5,440.4 L530.5,439.8 L531.2,439.2Z"/><path d="M526.9,438.0 L527.3,438.7 L527.8,439.7 L528.3,440.9 L529.0,442.2 L529.7,443.4 L530.5,444.7 L531.2,445.8 L532.0,446.9 L532.9,448.0 L533.7,449.1 L534.5,450.2 L535.2,451.2 L536.0,452.3 L536.8,453.4 L537.5,454.4 L538.3,455.3 L538.9,456.1 L539.3,456.7 L541.1,455.3 L540.6,454.7 L540.0,454.0 L539.3,453.0 L538.5,452.0 L537.8,451.0 L537.1,450.0 L536.4,448.9 L535.8,447.8 L535.2,446.6 L534.7,445.4 L534.2,444.2 L533.7,443.0 L533.4,441.8 L533.0,440.5 L532.6,439.2 L532.3,438.0 L532.1,436.9 L531.9,436.2Z"/><path d="M528.7,439.8 L529.3,439.9 L530.2,440.1 L531.4,440.4 L532.9,440.7 L534.4,440.9 L536.2,440.9 L538.2,440.6 L540.1,440.1 L542.0,439.5 L543.8,439.0 L545.3,438.8 L546.3,438.9 L547.3,439.4 L548.4,440.2 L549.5,441.4 L550.6,442.8 L551.6,444.3 L552.5,445.8 L553.2,447.3 L553.9,448.9 L554.3,450.6 L554.7,452.4 L555.0,454.2 L555.2,456.1 L555.4,458.2 L555.4,460.6 L555.4,463.1 L555.3,465.4 L555.3,467.4 L555.2,468.8 L557.6,468.9 L557.6,467.4 L557.7,465.5 L557.7,463.1 L557.8,460.6 L557.7,458.1 L557.6,455.9 L557.3,453.9 L557.0,451.9 L556.6,450.0 L556.1,448.2 L555.6,446.4 L554.9,444.6 L554.1,442.9 L553.2,441.1 L552.1,439.4 L550.9,437.8 L549.4,436.4 L547.6,435.3 L545.4,434.8 L543.2,434.9 L541.1,435.2 L539.1,435.6 L537.4,435.9 L536.1,436.0 L535.0,435.9 L533.8,435.6 L532.8,435.3 L531.8,435.0 L530.8,434.6 L530.1,434.4Z"/></g><g fill="none" stroke="#8d84c8" stroke-linecap="round" stroke-linejoin="round"><path d="M524.0,431.7 C522.9,430.4 519.0,426.5 517.2,423.6 C515.5,420.7 514.8,416.6 513.2,414.2 C511.6,411.7 509.6,410.2 507.8,408.8 C506.0,407.3 503.3,405.9 502.4,405.4" stroke-width="2.2"/><path d="M513.2,414.2 C513.9,413.2 515.6,410.4 517.2,408.8 C518.9,407.1 522.3,404.8 523.3,404.0" stroke-width="2"/><path d="M534.8,431.7 C536.6,429.9 542.2,423.6 545.6,420.9 C549.0,418.2 551.4,416.9 555.0,415.5 C558.6,414.1 565.2,413.2 567.2,412.8" stroke-width="2.2"/><path d="M546.9,419.6 C547.4,418.4 549.1,415.1 549.6,412.8 C550.2,410.6 550.2,407.2 550.3,406.1" stroke-width="1.9"/><path d="M524.0,442.5 C523.5,444.3 522.2,450.1 521.3,453.3 C520.4,456.5 519.6,458.8 518.6,461.4 C517.6,464.0 515.8,467.6 515.2,468.8" stroke-width="2.3"/><path d="M532.1,443.9 C532.8,445.0 534.8,448.6 536.1,450.6 C537.5,452.6 539.5,455.1 540.2,456.0" stroke-width="2.2"/><path d="M540.2,456.0 C539.3,456.7 535.9,458.8 534.8,460.1 C533.7,461.3 533.7,462.9 533.4,463.4" stroke-width="2.1"/><path d="M540.2,456.0 C540.9,456.9 543.1,460.2 544.2,461.4 C545.4,462.6 546.5,463.1 546.9,463.4" stroke-width="2.1"/><path d="M536.1,438.5 C537.9,438.2 544.0,436.0 546.9,437.1 C549.9,438.2 552.1,442.1 553.7,445.2 C555.3,448.4 555.9,452.1 556.4,456.0 C556.9,459.9 556.4,466.7 556.4,468.8" stroke-width="2.3"/></g><g transform="translate(529.4,437.1) scale(1.4)"><path d="M5.8,1.6 C5.4,3.1 3.1,4.8 1.4,5.2 C-0.3,5.7 -3.1,5.3 -4.2,4.2 C-5.3,3.1 -5.7,0.3 -5.2,-1.4 C-4.8,-3.1 -3.1,-5.4 -1.6,-5.8 C-0.0,-6.2 2.6,-5.0 3.8,-3.8 C5.0,-2.6 6.2,0.0 5.8,1.6Z" fill="#9b91d3" stroke="#8d84c8" stroke-width="0.8"/><circle r="3" fill="#6e5eb3"/></g>
</g>

<!-- RIGHT BOX -->
<g id="rightbox">
<rect x="628" y="281" width="368" height="255" fill="#e3f1fb"/>
<rect x="996" y="281" width="184" height="255" fill="#fff"/>
<rect x="1059.5" y="351" width="58" height="148" fill="#e3f1fb"/>
<rect x="810" y="476" width="186" height="59" fill="#f8e8e3"/>
<clipPath id="rclip"><rect x="628" y="281" width="552" height="255"/></clipPath><g clip-path="url(#rclip)"><circle cx="702" cy="459" r="8.5" fill="#df7282"/><path d="M708.1,465.9 l0.2,-2.6 M701.8,466 l-2.5,0.8 M696.9,451.8 l2.2,1.4 M711,460.6 l-2.4,1.1 M702,458.5 l-2.4,0.9 M701.1,454.3 l2.4,-0.9 M703.4,458 l2.6,0.4 M692.6,456.5 l-1.9,1.8 M703.4,465.4 l2.6,0.5 M703.2,465.5 l-2.6,0.1 M702.5,463.8 l0.5,2.6 M696.8,460.4 l2.6,0.3 M705.9,452.6 l-1.6,-2 M705.9,468.2 l1.7,-2 M706.2,463 l-0.5,-2.6 M699.7,449.6 l-2.3,1.2 M705.9,451.8 l-0.9,2.5 M694,454.1 l1.5,-2.1 M694.3,458.7 l2.5,0.6 M702.4,467.9 l-2.2,1.3 M705.4,465.6 l-0.8,-2.5 M699.2,453.6 l-2.4,1 M693.2,458.5 l-2.6,-0.3 M696.5,463.3 l2.6,0.5 M710.1,461.3 l2.6,-0.3 M696.8,455.5 l1.2,2.3 M692.1,458.9 l0.3,-2.6 M693,456.7 l0.3,2.6 M692.3,458.2 l-2.3,-1.2 M697,460.3 l-2.5,-0.8 M702.7,458.8 l0.5,-2.5 M706,450.5 l-0.2,-2.6 M704.6,452.3 l-2.4,-1 M699.9,460.1 l1.8,-1.9 M698,457.1 l-2.6,-0.1 M696.1,459.6 l-1.5,2.1 M694.3,457.1 l-2,-1.7 M700.4,459.4 l0.3,2.6 M705.4,465.9 l1.7,-2 M704.7,450.5 l1.1,-2.4 M701.7,468.2 l-1.2,-2.3 M703.1,459.6 l2.6,0.2 M702.2,454 l2,1.7 M697.8,454.9 l2.4,1.1 M705.9,465.1 l1.3,2.3 M700.8,467.3 l-2.5,0.7 M699,465.2 l2.6,0.4 M697.1,463.2 l1,2.4 M709.4,465 l-2.6,-0.2 M704,466.5 l1.1,-2.4 M703.3,459.2 l1.6,2.1 M701.2,455.1 l-0.7,-2.5 M698.8,452.4 l0.5,2.6 M710.8,457.6 l-2.6,-0.3 M703.4,466.9 l-2.1,1.6 " stroke="#cf4a5c" stroke-width="1.3" stroke-linecap="round"/><path d="M697.7,456.8 l0.8,0.5 M700.6,457.5 l0.8,0.5 M699.5,467 l0.8,0.5 M705.3,455.7 l0.8,0.5 M705,455.3 l0.8,0.5 M708.8,456.3 l0.8,0.5 M698.3,461.1 l0.8,0.5 M710,459.4 l0.8,0.5 M709.5,460.8 l0.8,0.5 M708.2,457.5 l0.8,0.5 M705.7,466 l0.8,0.5 M709,457.8 l0.8,0.5 M696.8,458.7 l0.8,0.5 M699.8,462.2 l0.8,0.5 M699.4,454 l0.8,0.5 M702.9,461.6 l0.8,0.5 M699.7,455 l0.8,0.5 M697.2,459 l0.8,0.5 M707.6,453.2 l0.8,0.5 M705.8,459.4 l0.8,0.5 M698,466.5 l0.8,0.5 M703,454.2 l0.8,0.5 M703.6,465.8 l0.8,0.5 M706.3,452 l0.8,0.5 M697.6,465.6 l0.8,0.5 M699.7,453.5 l0.8,0.5 M706.1,458.6 l0.8,0.5 M701.6,456.6 l0.8,0.5 " stroke="#fbe9ec" stroke-width="1.2" stroke-linecap="round"/><circle cx="720" cy="462" r="8.5" fill="#df7282"/><path d="M729.4,459.3 l2.4,0.9 M727.9,466.6 l-0.2,-2.6 M717.3,457.1 l-2,-1.6 M714,457.3 l1.4,2.2 M714.3,464.6 l-0.4,-2.6 M729.7,461.7 l-2.5,-0.7 M715.1,463.8 l2.5,0.6 M726.7,463.2 l-1.1,2.4 M713.1,468.5 l-2.6,-0.4 M715.5,460.2 l2.6,0.4 M718.3,465.3 l-2.6,-0.2 M728.2,461.9 l1.1,2.4 M727,456.5 l-0.3,-2.6 M727.3,457.2 l0.6,-2.5 M714,469.9 l2.5,-0.6 M724.6,469.4 l-0.6,-2.5 M712.9,463.7 l-2.6,0.2 M726.3,458.8 l1.3,-2.3 M714.3,469.5 l2.1,-1.5 M712.7,463.8 l2.3,-1.2 M718.9,455.1 l0.5,2.6 M716.2,469.5 l1.3,2.2 M724.3,459.2 l2.2,-1.4 M716.4,471.1 l-0.7,-2.5 M712.8,461.8 l-1.5,-2.1 M715.2,459.1 l0.7,2.5 M710.4,461.3 l-1.9,-1.8 M728.1,466.1 l-0.4,-2.6 M723.7,459.6 l-0.1,-2.6 M727.5,464.9 l-0.4,2.6 M721.4,471.3 l2,1.6 M710.9,460.7 l0.1,2.6 M722.3,471.1 l-2.3,1.2 M719.6,460.3 l-1.7,2 M723.9,469.2 l2.3,1.3 M721.5,461.6 l-0.3,-2.6 M725,462.7 l1,-2.4 M722.4,465.6 l-0.9,-2.4 M718.4,463.4 l2.6,-0.2 M721.1,463.6 l-1.5,2.2 M713.5,456.3 l2,1.7 M719.1,463.5 l-2.5,0.8 M720.9,453.4 l2.1,-1.5 M720.3,452.7 l-0.7,-2.5 M715.3,462.8 l-1.4,-2.2 M718.7,464.9 l-2.5,0.8 M722.5,459.5 l-2.2,-1.3 M714.4,466.5 l1.6,2 M724.9,460.7 l-2,-1.6 M718.8,462.6 l-2.4,-0.9 M721.5,463.8 l2.5,0.5 M721.6,464.6 l-1.7,-2 M710.1,461.5 l2.4,-1 M724.8,461.8 l-2.4,0.9 M720,469.7 l-1.8,-1.8 " stroke="#cf4a5c" stroke-width="1.3" stroke-linecap="round"/><path d="M722.2,455.2 l0.8,0.5 M719.8,467.5 l0.8,0.5 M719.4,461.9 l0.8,0.5 M725.3,463.2 l0.8,0.5 M725.5,466.7 l0.8,0.5 M720.2,464.7 l0.8,0.5 M721.7,465.7 l0.8,0.5 M721.2,468 l0.8,0.5 M715.4,463 l0.8,0.5 M717.5,459 l0.8,0.5 M726.9,457.4 l0.8,0.5 M719.3,456.5 l0.8,0.5 M713.5,461.5 l0.8,0.5 M725.2,463.7 l0.8,0.5 M716.4,461.4 l0.8,0.5 M726.3,466.2 l0.8,0.5 M715.9,466.6 l0.8,0.5 M725.8,458.9 l0.8,0.5 M717.9,470.2 l0.8,0.5 M719.2,462.8 l0.8,0.5 M718.9,459.5 l0.8,0.5 M717.3,469.3 l0.8,0.5 M719.5,461.1 l0.8,0.5 M714.8,463.6 l0.8,0.5 M716.1,462.3 l0.8,0.5 M718,460.8 l0.8,0.5 M718.9,467.1 l0.8,0.5 M722.2,461.1 l0.8,0.5 " stroke="#fbe9ec" stroke-width="1.2" stroke-linecap="round"/><circle cx="704" cy="491" r="8.9" fill="#df7282"/><path d="M704.6,498.7 l-1.8,1.9 M697.4,486 l2.4,1 M713.6,491.8 l-0.2,2.6 M705,501.4 l-2.6,0.5 M707.7,484.8 l-1.7,-2 M708.9,497.8 l1.8,-1.9 M695.1,489.7 l-1.2,-2.3 M712.4,494.6 l-2.2,-1.4 M703.4,492.8 l1.7,-1.9 M695.2,492.5 l1.9,-1.8 M701.7,481.2 l-2.1,1.6 M706.2,484.4 l2.4,-1 M706.4,488.7 l1.7,2 M706.1,501.1 l-2.4,1 M700,486.9 l-2.6,-0.1 M699.3,495.1 l-2.2,-1.3 M695.4,486 l-1.1,-2.4 M712.8,486.8 l2.6,-0.1 M702,487.3 l1.7,-2 M713.7,488.8 l-2.4,-1.1 M702.9,486.3 l1.3,-2.3 M699,488.5 l2.4,1 M710.3,482.7 l2.2,1.4 M706.1,484.6 l1.5,2.1 M701.5,499.9 l1.8,-1.9 M711.9,493.3 l2.5,0.7 M702.8,485.1 l1.9,-1.8 M711.4,490.1 l2.6,-0 M702.9,493.7 l-2.1,-1.5 M708.6,491.9 l-2.2,1.4 M700.8,488.3 l2.5,0.7 M708,486.7 l2.5,-0.7 M709.1,487.1 l-2.5,0.6 M695.6,489.9 l-2.1,-1.5 M696.3,488 l2.4,-0.9 M697.1,490.7 l-0.5,-2.6 M704.4,496.7 l2.6,-0.4 M696.3,490 l2.6,0.2 M697.1,495.1 l2.6,0.3 M697.8,485.4 l2.4,1 M699,485.9 l-1.1,-2.3 M698.7,498.1 l-0.2,-2.6 M706.6,491.4 l-1.2,-2.3 M709.1,489.8 l-2.5,0.7 M699,487.7 l-1.7,2 M701.6,496.9 l-2.1,-1.5 M702,497.1 l0.4,-2.6 M711.8,492.3 l-0.2,-2.6 M702.2,495.6 l0.9,-2.5 M704.3,495.5 l-2.4,1 M702.9,487.8 l-1.1,2.3 M699.2,499.3 l-2.4,1 M706.7,487.6 l-1.3,2.2 M698.2,483 l-2.5,0.8 M704.6,494.6 l-2.6,-0.5 " stroke="#cf4a5c" stroke-width="1.3" stroke-linecap="round"/><path d="M706.9,498.5 l0.8,0.5 M706,487.8 l0.8,0.5 M702.6,498.9 l0.8,0.5 M699,484.8 l0.8,0.5 M702.2,493.7 l0.8,0.5 M701.9,498.7 l0.8,0.5 M703.3,496.2 l0.8,0.5 M699,493.9 l0.8,0.5 M696.8,495.6 l0.8,0.5 M704.3,491.5 l0.8,0.5 M711.8,488.1 l0.8,0.5 M709.9,490.5 l0.8,0.5 M712.2,488.4 l0.8,0.5 M705.3,498.6 l0.8,0.5 M707.8,484.8 l0.8,0.5 M699.2,490.4 l0.8,0.5 M701.7,494.6 l0.8,0.5 M710.2,493.8 l0.8,0.5 M702.1,498.8 l0.8,0.5 M712.1,493.4 l0.8,0.5 M701,483 l0.8,0.5 M710.7,485.9 l0.8,0.5 M703.1,490.5 l0.8,0.5 M703.9,487.3 l0.8,0.5 M701.8,497.9 l0.8,0.5 M698.3,490.1 l0.8,0.5 M710.5,488.4 l0.8,0.5 M701.6,494.8 l0.8,0.5 " stroke="#fbe9ec" stroke-width="1.2" stroke-linecap="round"/><circle cx="728" cy="483" r="8.9" fill="#df7282"/><path d="M728.3,486.4 l-2.1,1.6 M729.5,485.2 l-2.1,1.5 M736.2,478.4 l0.2,-2.6 M729.4,490.6 l-0.4,2.6 M729.6,486 l0.6,2.5 M736.6,478.8 l0.9,-2.4 M729.4,478.6 l-1,2.4 M721.7,476.6 l1.6,-2.1 M730.3,480.9 l-2,-1.6 M724.5,476.4 l1.1,2.3 M724.9,483.5 l2.4,-1 M733.2,477.2 l-0.8,2.5 M734.7,478.7 l1.9,-1.8 M732.3,476.9 l-2.2,1.3 M722.4,479 l1.4,2.2 M724.8,491.9 l2.5,0.7 M736,485.4 l-0.5,2.6 M721,481.4 l-1.4,2.2 M732.6,482.9 l-2.2,1.4 M730.4,491 l-0.4,2.6 M722.4,490.1 l-1.1,2.3 M718.7,479.4 l2.1,1.5 M732.7,484.9 l0.2,-2.6 M724.2,479.6 l-1.3,2.3 M731.1,489.4 l2.5,0.7 M724.8,473.6 l2.5,-0.7 M727,472.8 l2.6,0.3 M725.5,493 l0.4,-2.6 M719.4,488.4 l-1.9,-1.8 M730.4,477.8 l0.9,2.4 M724.4,484.3 l-1.9,1.8 M733.9,481.6 l2.6,0.2 M732.2,484.2 l0.5,-2.5 M724.3,487.3 l2.1,1.5 M734.8,482.2 l0.7,2.5 M730.3,483.9 l1.3,2.3 M726.2,479.4 l2.5,0.7 M722.8,483.3 l2.6,-0 M733.5,488.3 l0.4,-2.6 M719.2,488.6 l-2.6,0.4 M728.3,489.7 l2.5,0.6 M723.4,485.5 l2,-1.7 M731.6,476.5 l2.5,0.5 M727.9,488.2 l0.7,2.5 M729.1,492.7 l1.6,2 M737.6,486.2 l-2.4,-1 M734.7,482.6 l2.1,-1.5 M722.7,475.3 l-0.1,-2.6 M724.8,483.1 l0.6,2.5 M735,475.9 l2.3,-1.2 M723.6,490.3 l0.8,-2.5 M722.1,475.6 l-2.6,-0.5 M723.1,475.8 l-0.3,2.6 M737.1,478.2 l2.3,1.2 M738.1,481.1 l-1.3,-2.3 " stroke="#cf4a5c" stroke-width="1.3" stroke-linecap="round"/><path d="M736.1,485.3 l0.8,0.5 M734.1,489.3 l0.8,0.5 M726.9,481.1 l0.8,0.5 M731.5,489.2 l0.8,0.5 M721,479.8 l0.8,0.5 M731.7,481.2 l0.8,0.5 M736.6,483.2 l0.8,0.5 M736.3,483.7 l0.8,0.5 M734,488.3 l0.8,0.5 M729.7,474.8 l0.8,0.5 M720.1,480.4 l0.8,0.5 M730.2,490 l0.8,0.5 M723.9,490.4 l0.8,0.5 M728.9,476.9 l0.8,0.5 M726.6,482.8 l0.8,0.5 M734.7,484.5 l0.8,0.5 M719.7,483.6 l0.8,0.5 M725.4,480.9 l0.8,0.5 M722.9,488.9 l0.8,0.5 M727.1,482.9 l0.8,0.5 M732.2,476.1 l0.8,0.5 M733.7,486.4 l0.8,0.5 M722.2,488.4 l0.8,0.5 M726.4,487 l0.8,0.5 M719.3,483.7 l0.8,0.5 M730.5,484.7 l0.8,0.5 M721.9,477.2 l0.8,0.5 M722.1,482.5 l0.8,0.5 " stroke="#fbe9ec" stroke-width="1.2" stroke-linecap="round"/><circle cx="712" cy="470" r="6" fill="#df7282"/><path d="M707.7,465.8 l0.7,-2.5 M717.6,467.9 l2.3,-1.2 M716.7,470.9 l2.4,-0.9 M708.1,464.7 l2,1.7 M708.6,470.7 l-2.5,-0.7 M711.3,469.6 l0.5,2.5 M710.8,476.6 l0.3,-2.6 M715.4,475.3 l1.7,2 M710.2,468.3 l2.6,0 M714.2,467.7 l0.6,2.5 M718.5,469.3 l-0.6,2.5 M717,468.8 l-1.1,-2.3 M713.9,476.5 l-0.9,-2.4 M718.5,468.6 l-0.8,2.5 M710.2,472.2 l1.6,2.1 M715.5,471.5 l-2.1,-1.6 M717.8,470.1 l-1.4,2.2 M709.7,475.9 l-2.6,0.3 M710,474.4 l-0.7,-2.5 M718.5,472.4 l2.6,0.4 M712,463.6 l2.6,0.3 M713,465.9 l-2.3,-1.2 M713.5,470.1 l1.1,2.4 M715,469.1 l0.1,-2.6 M718.1,467.1 l-1.5,2.2 M708.9,474 l0.4,-2.6 M716.7,473.8 l0.8,-2.5 M712.9,469 l2.5,-0.9 M715.4,472.2 l-2,-1.7 M715.6,468 l2.3,-1.2 M708.2,468.9 l-1.1,2.4 M712.9,471.8 l1.5,2.1 M709.4,463.5 l1.4,2.2 M718.6,472.1 l-2.5,-0.5 M709.2,471.9 l-2.2,-1.4 M714.2,465.8 l-2.3,1.2 M718.3,472.3 l2.5,0.5 M705.6,470.3 l1.8,1.9 M711.2,463.2 l-1.8,-1.9 M712.5,467.8 l-2.4,1 M715.8,475.2 l-0.7,2.5 M705.3,472 l1.6,-2.1 M716.7,469.3 l-2.6,0.2 M711.4,465.2 l-0.7,2.5 M709.8,471.5 l-1.9,1.8 M718.8,469.5 l-1.8,-1.9 M707.9,470 l2.2,1.4 M711.1,476.1 l1.7,-1.9 M708,474.7 l0.4,-2.6 M710.1,464.6 l0.2,-2.6 M708.2,474.4 l-0.5,2.6 M705.9,470.6 l-0.9,-2.4 M710.1,476.6 l-1.5,-2.1 M711.3,469.6 l-2.5,-0.8 M712,475.7 l-2.5,0.6 " stroke="#cf4a5c" stroke-width="1.3" stroke-linecap="round"/><path d="M713.9,465.6 l0.8,0.5 M713,466.6 l0.8,0.5 M708.8,466 l0.8,0.5 M713.7,466.9 l0.8,0.5 M715.1,465.4 l0.8,0.5 M709.8,464.6 l0.8,0.5 M716.1,468.8 l0.8,0.5 M709.6,469.6 l0.8,0.5 M715,465.1 l0.8,0.5 M707.1,470.7 l0.8,0.5 M711,465 l0.8,0.5 M714.5,474.6 l0.8,0.5 M707.8,467.6 l0.8,0.5 M707.9,472.2 l0.8,0.5 M712.7,465.3 l0.8,0.5 M711.8,469 l0.8,0.5 M714.1,473.3 l0.8,0.5 M710.4,467.7 l0.8,0.5 M710.1,465.7 l0.8,0.5 M715.9,471.1 l0.8,0.5 M712.2,471.4 l0.8,0.5 M714.2,472.5 l0.8,0.5 M713.1,472.4 l0.8,0.5 M716,470.9 l0.8,0.5 M708.6,473.2 l0.8,0.5 M709.6,468.4 l0.8,0.5 M712.1,469.9 l0.8,0.5 M709.4,471.8 l0.8,0.5 " stroke="#fbe9ec" stroke-width="1.2" stroke-linecap="round"/><circle cx="726.6" cy="448.7" r="8.3" fill="#9a7a64" stroke="#7a5c48" stroke-width="0.8"/><circle cx="725.1" cy="447.7" r="4.2" fill="#b39580" opacity="0.7"/><circle cx="728.6" cy="450.2" r="2.5" fill="#6e5040" opacity="0.6"/><circle cx="710.2" cy="476.6" r="8.8" fill="#9a7a64" stroke="#7a5c48" stroke-width="0.8"/><circle cx="708.7" cy="475.6" r="4.4" fill="#b39580" opacity="0.7"/><circle cx="712.2" cy="478.1" r="2.6" fill="#6e5040" opacity="0.6"/><path d="M649.3,410.6 C665,413 690,421 711.6,425.4 C725,427 733,417 741.3,414.5 C747,413 749,420 744,424.5 C735,430 725,436 719,437 C700,441 680,444 659.7,444.7 Z" fill="#de6457" stroke="#c84a43" stroke-width="0.9"/><g transform="translate(655.2,427.6) rotate(-12)"><ellipse rx="14.5" ry="17.5" fill="#e0675b" stroke="#c84a43" stroke-width="0.9"/><ellipse cx="1" rx="11.5" ry="14.5" fill="#b33b35"/><ellipse cx="3" cy="1" rx="7" ry="10" fill="#a33430" opacity="0.5"/></g><circle cx="661.4" cy="372.7" r="14.4" fill="#f6f5ee" opacity="0.7"/><path d="M661.4,372.7 L667.9,372.5 M667.9,372.5 L671.9,370.8 M671.9,370.8 L673.2,368 M673.2,368 L672,366.3 M673.2,368 L675.5,367.4 M671.9,370.8 L674.5,370.7 M674.5,370.7 L675.4,368.9 M674.5,370.7 L675.4,371.8 M667.9,372.5 L670.2,377.5 M670.2,377.5 L673.5,379.5 M673.5,379.5 L675.2,378.5 M673.5,379.5 L674,381.5 M670.2,377.5 L670,380.7 M670,380.7 L671.9,381.6 M670,380.7 L668.3,382.5 M661.4,372.7 L666.1,377.5 M666.1,377.5 L671,377.8 M671,377.8 L673.2,375.8 M673.2,375.8 L674.5,373.6 M673.2,375.8 L675.3,376.5 M671,377.8 L673.3,379.5 M673.3,379.5 L674.8,379 M673.3,379.5 L673.2,381.3 M666.1,377.5 L664.9,381.6 M664.9,381.6 L665,385 M665,385 L666.9,385.6 M665,385 L663,386.1 M664.9,381.6 L662.2,381.9 M662.2,381.9 L661.5,383.7 M662.2,381.9 L661.1,380.6 M661.4,372.7 L663.1,378.4 M663.1,378.4 L665.7,382.1 M665.7,382.1 L668.4,381.7 M668.4,381.7 L668.8,380.4 M668.4,381.7 L669.3,382.9 M665.7,382.1 L665.2,385 M665.2,385 L666.9,386.5 M665.2,385 L664,386.8 M663.1,378.4 L662.7,382.2 M662.7,382.2 L664.4,383.7 M664.4,383.7 L666.1,384.3 M664.4,383.7 L665,385.4 M662.7,382.2 L661.3,384.2 M661.3,384.2 L660.9,386 M661.3,384.2 L659.5,385.4 M661.4,372.7 L658.2,377.5 M658.2,377.5 L657.9,381 M657.9,381 L659.3,382.3 M659.3,382.3 L660.5,381.7 M659.3,382.3 L659.8,383.5 M657.9,381 L656.4,382.8 M656.4,382.8 L655.8,384.2 M656.4,382.8 L654.5,382.9 M658.2,377.5 L655.5,379.1 M655.5,379.1 L653.9,381.1 M653.9,381.1 L654.3,382.4 M653.9,381.1 L651.8,380.9 M655.5,379.1 L652.8,379.2 M652.8,379.2 L651.1,380 M652.8,379.2 L651.7,378.4 M661.4,372.7 L654.2,375.1 M654.2,375.1 L652.8,380.5 M652.8,380.5 L655.7,383.9 M655.7,383.9 L658.3,384.5 M655.7,383.9 L656.5,387.2 M652.8,380.5 L650.9,383.2 M650.9,383.2 L651,385.8 M650.9,383.2 L648.9,383.4 M654.2,375.1 L651.2,372 M651.2,372 L648.9,372.9 M648.9,372.9 L648.3,374.2 M648.9,372.9 L647.2,372.8 M651.2,372 L651.3,369.6 M651.3,369.6 L649.9,368.3 M651.3,369.6 L653,369.1 M661.4,372.7 L657.4,367.5 M657.4,367.5 L654.1,368 M654.1,368 L653.4,370.7 M653.4,370.7 L654.2,372.9 M653.4,370.7 L652.4,372.4 M654.1,368 L651.9,366.6 M651.9,366.6 L649.9,367.3 M651.9,366.6 L650.9,365.2 M657.4,367.5 L659.1,362.3 M659.1,362.3 L658.2,358.4 M658.2,358.4 L656,355.9 M658.2,358.4 L659.3,355.7 M659.1,362.3 L663.3,361.7 M663.3,361.7 L665.2,358.9 M663.3,361.7 L665.1,364.1 M661.4,372.7 L661.9,366.6 M661.9,366.6 L659.5,363 M659.5,363 L656.4,363.5 M656.4,363.5 L654.1,364.6 M656.4,363.5 L655.1,362.1 M659.5,363 L660.6,360.2 M660.6,360.2 L659.6,358 M660.6,360.2 L662.2,358.5 M661.9,366.6 L663.7,362.7 M663.7,362.7 L662.8,360.3 M662.8,360.3 L661.5,359.3 M662.8,360.3 L663.8,358.5 M663.7,362.7 L665.4,361.4 M665.4,361.4 L665.5,359.8 M665.4,361.4 L666.6,361.2 M661.4,372.7 L667.3,369.4 M667.3,369.4 L668.8,364.1 M668.8,364.1 L666.4,360.9 M666.4,360.9 L663.8,361.1 M666.4,360.9 L667.6,357.8 M668.8,364.1 L672.2,363.4 M672.2,363.4 L673.6,361.7 M672.2,363.4 L674.5,363.9 M667.3,369.4 L672,372.3 M672,372.3 L676.5,372.2 M676.5,372.2 L677.9,370.2 M676.5,372.2 L678.5,374 M672,372.3 L673.7,375.3 M673.7,375.3 L675.9,376.2 M673.7,375.3 L673.5,378.1" stroke="#fbfaf2" stroke-width="2.6" stroke-linecap="round" fill="none"/><path d="M661.4,372.7 L667.9,372.5 M667.9,372.5 L671.9,370.8 M671.9,370.8 L673.2,368 M673.2,368 L672,366.3 M673.2,368 L675.5,367.4 M671.9,370.8 L674.5,370.7 M674.5,370.7 L675.4,368.9 M674.5,370.7 L675.4,371.8 M667.9,372.5 L670.2,377.5 M670.2,377.5 L673.5,379.5 M673.5,379.5 L675.2,378.5 M673.5,379.5 L674,381.5 M670.2,377.5 L670,380.7 M670,380.7 L671.9,381.6 M670,380.7 L668.3,382.5 M661.4,372.7 L666.1,377.5 M666.1,377.5 L671,377.8 M671,377.8 L673.2,375.8 M673.2,375.8 L674.5,373.6 M673.2,375.8 L675.3,376.5 M671,377.8 L673.3,379.5 M673.3,379.5 L674.8,379 M673.3,379.5 L673.2,381.3 M666.1,377.5 L664.9,381.6 M664.9,381.6 L665,385 M665,385 L666.9,385.6 M665,385 L663,386.1 M664.9,381.6 L662.2,381.9 M662.2,381.9 L661.5,383.7 M662.2,381.9 L661.1,380.6 M661.4,372.7 L663.1,378.4 M663.1,378.4 L665.7,382.1 M665.7,382.1 L668.4,381.7 M668.4,381.7 L668.8,380.4 M668.4,381.7 L669.3,382.9 M665.7,382.1 L665.2,385 M665.2,385 L666.9,386.5 M665.2,385 L664,386.8 M663.1,378.4 L662.7,382.2 M662.7,382.2 L664.4,383.7 M664.4,383.7 L666.1,384.3 M664.4,383.7 L665,385.4 M662.7,382.2 L661.3,384.2 M661.3,384.2 L660.9,386 M661.3,384.2 L659.5,385.4 M661.4,372.7 L658.2,377.5 M658.2,377.5 L657.9,381 M657.9,381 L659.3,382.3 M659.3,382.3 L660.5,381.7 M659.3,382.3 L659.8,383.5 M657.9,381 L656.4,382.8 M656.4,382.8 L655.8,384.2 M656.4,382.8 L654.5,382.9 M658.2,377.5 L655.5,379.1 M655.5,379.1 L653.9,381.1 M653.9,381.1 L654.3,382.4 M653.9,381.1 L651.8,380.9 M655.5,379.1 L652.8,379.2 M652.8,379.2 L651.1,380 M652.8,379.2 L651.7,378.4 M661.4,372.7 L654.2,375.1 M654.2,375.1 L652.8,380.5 M652.8,380.5 L655.7,383.9 M655.7,383.9 L658.3,384.5 M655.7,383.9 L656.5,387.2 M652.8,380.5 L650.9,383.2 M650.9,383.2 L651,385.8 M650.9,383.2 L648.9,383.4 M654.2,375.1 L651.2,372 M651.2,372 L648.9,372.9 M648.9,372.9 L648.3,374.2 M648.9,372.9 L647.2,372.8 M651.2,372 L651.3,369.6 M651.3,369.6 L649.9,368.3 M651.3,369.6 L653,369.1 M661.4,372.7 L657.4,367.5 M657.4,367.5 L654.1,368 M654.1,368 L653.4,370.7 M653.4,370.7 L654.2,372.9 M653.4,370.7 L652.4,372.4 M654.1,368 L651.9,366.6 M651.9,366.6 L649.9,367.3 M651.9,366.6 L650.9,365.2 M657.4,367.5 L659.1,362.3 M659.1,362.3 L658.2,358.4 M658.2,358.4 L656,355.9 M658.2,358.4 L659.3,355.7 M659.1,362.3 L663.3,361.7 M663.3,361.7 L665.2,358.9 M663.3,361.7 L665.1,364.1 M661.4,372.7 L661.9,366.6 M661.9,366.6 L659.5,363 M659.5,363 L656.4,363.5 M656.4,363.5 L654.1,364.6 M656.4,363.5 L655.1,362.1 M659.5,363 L660.6,360.2 M660.6,360.2 L659.6,358 M660.6,360.2 L662.2,358.5 M661.9,366.6 L663.7,362.7 M663.7,362.7 L662.8,360.3 M662.8,360.3 L661.5,359.3 M662.8,360.3 L663.8,358.5 M663.7,362.7 L665.4,361.4 M665.4,361.4 L665.5,359.8 M665.4,361.4 L666.6,361.2 M661.4,372.7 L667.3,369.4 M667.3,369.4 L668.8,364.1 M668.8,364.1 L666.4,360.9 M666.4,360.9 L663.8,361.1 M666.4,360.9 L667.6,357.8 M668.8,364.1 L672.2,363.4 M672.2,363.4 L673.6,361.7 M672.2,363.4 L674.5,363.9 M667.3,369.4 L672,372.3 M672,372.3 L676.5,372.2 M676.5,372.2 L677.9,370.2 M676.5,372.2 L678.5,374 M672,372.3 L673.7,375.3 M673.7,375.3 L675.9,376.2 M673.7,375.3 L673.5,378.1" stroke="#a99a55" stroke-width="1.1" stroke-linecap="round" fill="none"/><circle cx="661.4" cy="372.7" r="2.8" fill="#eccd5e"/><circle cx="696.8" cy="352" r="14.4" fill="#f6f5ee" opacity="0.7"/><path d="M696.8,352 L703.6,351.9 M703.6,351.9 L706.6,349.7 M706.6,349.7 L706.1,347.4 M706.1,347.4 L704.3,346.8 M706.1,347.4 L707.1,346.1 M706.6,349.7 L709.3,350.2 M709.3,350.2 L710.4,348.8 M709.3,350.2 L711.1,351.5 M703.6,351.9 L708.6,353.6 M708.6,353.6 L711.4,350.8 M711.4,350.8 L711.1,348.3 M711.4,350.8 L713.3,351.3 M708.6,353.6 L712,356.4 M712,356.4 L714.3,356.3 M712,356.4 L710.9,359.9 M696.8,352 L702.2,355 M702.2,355 L705.4,353 M705.4,353 L706.1,351.1 M706.1,351.1 L705.9,350 M706.1,351.1 L707.3,349.9 M705.4,353 L707.8,353.3 M707.8,353.3 L709.2,352.4 M707.8,353.3 L708.7,354.1 M702.2,355 L702.7,360.2 M702.7,360.2 L704.3,363.7 M704.3,363.7 L706.6,364.3 M704.3,363.7 L702.9,366.1 M702.7,360.2 L701.8,363.1 M701.8,363.1 L702.9,364.8 M701.8,363.1 L699.8,363.6 M696.8,352 L699.1,358.8 M699.1,358.8 L703.6,360.8 M703.6,360.8 L706.3,359.1 M706.3,359.1 L706.6,356.7 M706.3,359.1 L708.4,358.7 M703.6,360.8 L705.9,363.7 M705.9,363.7 L708,363.1 M705.9,363.7 L706.1,366.3 M699.1,358.8 L699.1,363.6 M699.1,363.6 L701.4,365.1 M701.4,365.1 L703.8,364.6 M701.4,365.1 L702.1,367.4 M699.1,363.6 L697.3,367.1 M697.3,367.1 L698.2,369.1 M697.3,367.1 L694.1,367.5 M696.8,352 L694.3,357.2 M694.3,357.2 L694.6,360.8 M694.6,360.8 L696.1,361.7 M696.1,361.7 L697.2,360.9 M696.1,361.7 L695.9,363.2 M694.6,360.8 L693.4,362.2 M693.4,362.2 L693.7,363.6 M693.4,362.2 L692.1,362 M694.3,357.2 L691.1,359.5 M691.1,359.5 L690.6,362.4 M690.6,362.4 L692.3,364 M690.6,362.4 L689.1,362.8 M691.1,359.5 L687.9,359.7 M687.9,359.7 L686.5,362 M687.9,359.7 L686.1,358.2 M696.8,352 L691.2,351.2 M691.2,351.2 L688.9,353.6 M688.9,353.6 L688.4,356 M688.4,356 L690,357.3 M688.4,356 L687.3,356.9 M688.9,353.6 L686.1,353.9 M686.1,353.9 L684.7,355.3 M686.1,353.9 L684.9,351.9 M691.2,351.2 L689.6,347.9 M689.6,347.9 L687,346.6 M687,346.6 L684.9,346.7 M687,346.6 L686.1,344.9 M689.6,347.9 L690.9,345.7 M690.9,345.7 L689.7,344.2 M690.9,345.7 L692.9,345.8 M696.8,352 L693.2,345.5 M693.2,345.5 L687.8,343.6 M687.8,343.6 L685.1,345.1 M685.1,345.1 L684.8,346.9 M685.1,345.1 L683.2,343.7 M687.8,343.6 L686,339.8 M686,339.8 L683.2,339.7 M686,339.8 L687.3,337.5 M693.2,345.5 L693.3,340.7 M693.3,340.7 L690.5,338.5 M690.5,338.5 L688.8,339.3 M690.5,338.5 L689.7,336 M693.3,340.7 L696.2,338.9 M696.2,338.9 L697.5,337.1 M696.2,338.9 L698.5,338.3 M696.8,352 L696.6,346.4 M696.6,346.4 L694.5,343.7 M694.5,343.7 L692.4,343.8 M692.4,343.8 L691.4,344.2 M692.4,343.8 L691.4,343.1 M694.5,343.7 L694.2,341.5 M694.2,341.5 L692.5,340.7 M694.2,341.5 L695.1,340.1 M696.6,346.4 L698,343.1 M698,343.1 L697.3,340.2 M697.3,340.2 L695.5,339.6 M697.3,340.2 L699,338.6 M698,343.1 L700,341.5 M700,341.5 L700.7,340 M700,341.5 L701.8,342 M696.8,352 L702.7,349.1 M702.7,349.1 L704.7,345.6 M704.7,345.6 L704.7,343.2 M704.7,343.2 L703.6,342 M704.7,343.2 L705.4,342 M704.7,345.6 L707.1,344.2 M707.1,344.2 L707.2,342.8 M707.1,344.2 L708.6,345 M702.7,349.1 L706.2,352.1 M706.2,352.1 L709.9,351.5 M709.9,351.5 L711.8,350.3 M709.9,351.5 L712.5,352.1 M706.2,352.1 L705.6,355.3 M705.6,355.3 L706.3,357.3 M705.6,355.3 L704,356.3" stroke="#fbfaf2" stroke-width="2.6" stroke-linecap="round" fill="none"/><path d="M696.8,352 L703.6,351.9 M703.6,351.9 L706.6,349.7 M706.6,349.7 L706.1,347.4 M706.1,347.4 L704.3,346.8 M706.1,347.4 L707.1,346.1 M706.6,349.7 L709.3,350.2 M709.3,350.2 L710.4,348.8 M709.3,350.2 L711.1,351.5 M703.6,351.9 L708.6,353.6 M708.6,353.6 L711.4,350.8 M711.4,350.8 L711.1,348.3 M711.4,350.8 L713.3,351.3 M708.6,353.6 L712,356.4 M712,356.4 L714.3,356.3 M712,356.4 L710.9,359.9 M696.8,352 L702.2,355 M702.2,355 L705.4,353 M705.4,353 L706.1,351.1 M706.1,351.1 L705.9,350 M706.1,351.1 L707.3,349.9 M705.4,353 L707.8,353.3 M707.8,353.3 L709.2,352.4 M707.8,353.3 L708.7,354.1 M702.2,355 L702.7,360.2 M702.7,360.2 L704.3,363.7 M704.3,363.7 L706.6,364.3 M704.3,363.7 L702.9,366.1 M702.7,360.2 L701.8,363.1 M701.8,363.1 L702.9,364.8 M701.8,363.1 L699.8,363.6 M696.8,352 L699.1,358.8 M699.1,358.8 L703.6,360.8 M703.6,360.8 L706.3,359.1 M706.3,359.1 L706.6,356.7 M706.3,359.1 L708.4,358.7 M703.6,360.8 L705.9,363.7 M705.9,363.7 L708,363.1 M705.9,363.7 L706.1,366.3 M699.1,358.8 L699.1,363.6 M699.1,363.6 L701.4,365.1 M701.4,365.1 L703.8,364.6 M701.4,365.1 L702.1,367.4 M699.1,363.6 L697.3,367.1 M697.3,367.1 L698.2,369.1 M697.3,367.1 L694.1,367.5 M696.8,352 L694.3,357.2 M694.3,357.2 L694.6,360.8 M694.6,360.8 L696.1,361.7 M696.1,361.7 L697.2,360.9 M696.1,361.7 L695.9,363.2 M694.6,360.8 L693.4,362.2 M693.4,362.2 L693.7,363.6 M693.4,362.2 L692.1,362 M694.3,357.2 L691.1,359.5 M691.1,359.5 L690.6,362.4 M690.6,362.4 L692.3,364 M690.6,362.4 L689.1,362.8 M691.1,359.5 L687.9,359.7 M687.9,359.7 L686.5,362 M687.9,359.7 L686.1,358.2 M696.8,352 L691.2,351.2 M691.2,351.2 L688.9,353.6 M688.9,353.6 L688.4,356 M688.4,356 L690,357.3 M688.4,356 L687.3,356.9 M688.9,353.6 L686.1,353.9 M686.1,353.9 L684.7,355.3 M686.1,353.9 L684.9,351.9 M691.2,351.2 L689.6,347.9 M689.6,347.9 L687,346.6 M687,346.6 L684.9,346.7 M687,346.6 L686.1,344.9 M689.6,347.9 L690.9,345.7 M690.9,345.7 L689.7,344.2 M690.9,345.7 L692.9,345.8 M696.8,352 L693.2,345.5 M693.2,345.5 L687.8,343.6 M687.8,343.6 L685.1,345.1 M685.1,345.1 L684.8,346.9 M685.1,345.1 L683.2,343.7 M687.8,343.6 L686,339.8 M686,339.8 L683.2,339.7 M686,339.8 L687.3,337.5 M693.2,345.5 L693.3,340.7 M693.3,340.7 L690.5,338.5 M690.5,338.5 L688.8,339.3 M690.5,338.5 L689.7,336 M693.3,340.7 L696.2,338.9 M696.2,338.9 L697.5,337.1 M696.2,338.9 L698.5,338.3 M696.8,352 L696.6,346.4 M696.6,346.4 L694.5,343.7 M694.5,343.7 L692.4,343.8 M692.4,343.8 L691.4,344.2 M692.4,343.8 L691.4,343.1 M694.5,343.7 L694.2,341.5 M694.2,341.5 L692.5,340.7 M694.2,341.5 L695.1,340.1 M696.6,346.4 L698,343.1 M698,343.1 L697.3,340.2 M697.3,340.2 L695.5,339.6 M697.3,340.2 L699,338.6 M698,343.1 L700,341.5 M700,341.5 L700.7,340 M700,341.5 L701.8,342 M696.8,352 L702.7,349.1 M702.7,349.1 L704.7,345.6 M704.7,345.6 L704.7,343.2 M704.7,343.2 L703.6,342 M704.7,343.2 L705.4,342 M704.7,345.6 L707.1,344.2 M707.1,344.2 L707.2,342.8 M707.1,344.2 L708.6,345 M702.7,349.1 L706.2,352.1 M706.2,352.1 L709.9,351.5 M709.9,351.5 L711.8,350.3 M709.9,351.5 L712.5,352.1 M706.2,352.1 L705.6,355.3 M705.6,355.3 L706.3,357.3 M705.6,355.3 L704,356.3" stroke="#a99a55" stroke-width="1.1" stroke-linecap="round" fill="none"/><circle cx="696.8" cy="352" r="2.8" fill="#eccd5e"/><circle cx="693" cy="406" r="11.9" fill="#f6f5ee" opacity="0.7"/><path d="M693,406 L698.6,405.1 M698.6,405.1 L701.8,402 M701.8,402 L701.3,399.4 M701.3,399.4 L699.8,399 M701.3,399.4 L702.2,398.4 M701.8,402 L704.4,402 M704.4,402 L705.5,400.7 M704.4,402 L705.3,403.7 M698.6,405.1 L701.9,405.5 M701.9,405.5 L703.5,403.4 M703.5,403.4 L703.9,401.3 M703.5,403.4 L705.6,403.6 M701.9,405.5 L702.6,408.1 M702.6,408.1 L704.6,408.7 M702.6,408.1 L701.7,409.8 M693,406 L696.4,409.8 M696.4,409.8 L699.8,409.6 M699.8,409.6 L700.8,408.2 M700.8,408.2 L701,406.8 M700.8,408.2 L702.1,408.5 M699.8,409.6 L701.6,411.4 M701.6,411.4 L703.4,410.8 M701.6,411.4 L701.8,412.8 M696.4,409.8 L697.3,413.1 M697.3,413.1 L699.5,413.9 M699.5,413.9 L700.9,413.4 M699.5,413.9 L700.6,415 M697.3,413.1 L696.8,415.1 M696.8,415.1 L697.7,416 M696.8,415.1 L696,416.3 M693,406 L691.4,410.8 M691.4,410.8 L692.4,414.8 M692.4,414.8 L694.6,415.2 M694.6,415.2 L696.4,414.7 M694.6,415.2 L695.3,416.3 M692.4,414.8 L691,417.8 M691,417.8 L690.9,420.4 M691,417.8 L688.9,419.4 M691.4,410.8 L688.4,412.9 M688.4,412.9 L688.7,416.1 M688.7,416.1 L690.4,417.8 M688.7,416.1 L687.9,418.2 M688.4,412.9 L685.8,412.4 M685.8,412.4 L684.2,413.6 M685.8,412.4 L684.6,411.2 M693,406 L690.1,410.8 M690.1,410.8 L691.8,413.6 M691.8,413.6 L694.1,413.3 M694.1,413.3 L695.2,412.1 M694.1,413.3 L695.6,413.7 M691.8,413.6 L691.6,415.3 M691.6,415.3 L693,415.9 M691.6,415.3 L691.2,416.3 M690.1,410.8 L686.5,412.6 M686.5,412.6 L686.6,415.3 M686.6,415.3 L688.3,416.6 M686.6,415.3 L686.2,416.9 M686.5,412.6 L683.3,411.8 M683.3,411.8 L681.3,412.8 M683.3,411.8 L682.5,409.9 M693,406 L688,407.7 M688,407.7 L685,410.3 M685,410.3 L685.3,413.2 M685.3,413.2 L686.2,414.7 M685.3,413.2 L684.1,414.6 M685,410.3 L682.7,410.7 M682.7,410.7 L682.1,412.1 M682.7,410.7 L681.1,410.5 M688,407.7 L684,407.5 M684,407.5 L682.4,408.6 M682.4,408.6 L681.9,409.7 M682.4,408.6 L681,408.5 M684,407.5 L682.1,406 M682.1,406 L680.8,406.2 M682.1,406 L682.3,404.7 M693,406 L690.5,402.1 M690.5,402.1 L687.6,401.8 M687.6,401.8 L686.8,403.2 M686.8,403.2 L687.2,404.2 M686.8,403.2 L685.5,403.2 M687.6,401.8 L685.7,401 M685.7,401 L684.5,401.9 M685.7,401 L684.8,399.6 M690.5,402.1 L691.1,399.6 M691.1,399.6 L689.9,398.7 M689.9,398.7 L689.1,398.6 M689.9,398.7 L689.7,397.8 M691.1,399.6 L692.6,398.3 M692.6,398.3 L692.3,396.8 M692.6,398.3 L694.2,398.5 M693,406 L693.1,399.9 M693.1,399.9 L690,396.8 M690,396.8 L686.7,396.4 M686.7,396.4 L684.9,396.8 M686.7,396.4 L684.7,395.1 M690,396.8 L690.7,394 M690.7,394 L689.2,392.1 M690.7,394 L691.9,392.9 M693.1,399.9 L694.2,396.9 M694.2,396.9 L693.9,395.3 M693.9,395.3 L693,394.3 M693.9,395.3 L695,394.6 M694.2,396.9 L696.1,395.8 M696.1,395.8 L697.1,394.4 M696.1,395.8 L697.9,395.9 M693,406 L695.4,401.8 M695.4,401.8 L696,398.6 M696,398.6 L694.3,396.8 M694.3,396.8 L693.1,396.8 M694.3,396.8 L693.7,395.4 M696,398.6 L698,396.8 M698,396.8 L697.6,394.7 M698,396.8 L699.6,397.3 M695.4,401.8 L699.1,402.3 M699.1,402.3 L700.8,401 M700.8,401 L701.1,399.2 M700.8,401 L702.1,401.2 M699.1,402.3 L700.8,404 M700.8,404 L702.5,403.6 M700.8,404 L701.7,405.7" stroke="#fbfaf2" stroke-width="2.6" stroke-linecap="round" fill="none"/><path d="M693,406 L698.6,405.1 M698.6,405.1 L701.8,402 M701.8,402 L701.3,399.4 M701.3,399.4 L699.8,399 M701.3,399.4 L702.2,398.4 M701.8,402 L704.4,402 M704.4,402 L705.5,400.7 M704.4,402 L705.3,403.7 M698.6,405.1 L701.9,405.5 M701.9,405.5 L703.5,403.4 M703.5,403.4 L703.9,401.3 M703.5,403.4 L705.6,403.6 M701.9,405.5 L702.6,408.1 M702.6,408.1 L704.6,408.7 M702.6,408.1 L701.7,409.8 M693,406 L696.4,409.8 M696.4,409.8 L699.8,409.6 M699.8,409.6 L700.8,408.2 M700.8,408.2 L701,406.8 M700.8,408.2 L702.1,408.5 M699.8,409.6 L701.6,411.4 M701.6,411.4 L703.4,410.8 M701.6,411.4 L701.8,412.8 M696.4,409.8 L697.3,413.1 M697.3,413.1 L699.5,413.9 M699.5,413.9 L700.9,413.4 M699.5,413.9 L700.6,415 M697.3,413.1 L696.8,415.1 M696.8,415.1 L697.7,416 M696.8,415.1 L696,416.3 M693,406 L691.4,410.8 M691.4,410.8 L692.4,414.8 M692.4,414.8 L694.6,415.2 M694.6,415.2 L696.4,414.7 M694.6,415.2 L695.3,416.3 M692.4,414.8 L691,417.8 M691,417.8 L690.9,420.4 M691,417.8 L688.9,419.4 M691.4,410.8 L688.4,412.9 M688.4,412.9 L688.7,416.1 M688.7,416.1 L690.4,417.8 M688.7,416.1 L687.9,418.2 M688.4,412.9 L685.8,412.4 M685.8,412.4 L684.2,413.6 M685.8,412.4 L684.6,411.2 M693,406 L690.1,410.8 M690.1,410.8 L691.8,413.6 M691.8,413.6 L694.1,413.3 M694.1,413.3 L695.2,412.1 M694.1,413.3 L695.6,413.7 M691.8,413.6 L691.6,415.3 M691.6,415.3 L693,415.9 M691.6,415.3 L691.2,416.3 M690.1,410.8 L686.5,412.6 M686.5,412.6 L686.6,415.3 M686.6,415.3 L688.3,416.6 M686.6,415.3 L686.2,416.9 M686.5,412.6 L683.3,411.8 M683.3,411.8 L681.3,412.8 M683.3,411.8 L682.5,409.9 M693,406 L688,407.7 M688,407.7 L685,410.3 M685,410.3 L685.3,413.2 M685.3,413.2 L686.2,414.7 M685.3,413.2 L684.1,414.6 M685,410.3 L682.7,410.7 M682.7,410.7 L682.1,412.1 M682.7,410.7 L681.1,410.5 M688,407.7 L684,407.5 M684,407.5 L682.4,408.6 M682.4,408.6 L681.9,409.7 M682.4,408.6 L681,408.5 M684,407.5 L682.1,406 M682.1,406 L680.8,406.2 M682.1,406 L682.3,404.7 M693,406 L690.5,402.1 M690.5,402.1 L687.6,401.8 M687.6,401.8 L686.8,403.2 M686.8,403.2 L687.2,404.2 M686.8,403.2 L685.5,403.2 M687.6,401.8 L685.7,401 M685.7,401 L684.5,401.9 M685.7,401 L684.8,399.6 M690.5,402.1 L691.1,399.6 M691.1,399.6 L689.9,398.7 M689.9,398.7 L689.1,398.6 M689.9,398.7 L689.7,397.8 M691.1,399.6 L692.6,398.3 M692.6,398.3 L692.3,396.8 M692.6,398.3 L694.2,398.5 M693,406 L693.1,399.9 M693.1,399.9 L690,396.8 M690,396.8 L686.7,396.4 M686.7,396.4 L684.9,396.8 M686.7,396.4 L684.7,395.1 M690,396.8 L690.7,394 M690.7,394 L689.2,392.1 M690.7,394 L691.9,392.9 M693.1,399.9 L694.2,396.9 M694.2,396.9 L693.9,395.3 M693.9,395.3 L693,394.3 M693.9,395.3 L695,394.6 M694.2,396.9 L696.1,395.8 M696.1,395.8 L697.1,394.4 M696.1,395.8 L697.9,395.9 M693,406 L695.4,401.8 M695.4,401.8 L696,398.6 M696,398.6 L694.3,396.8 M694.3,396.8 L693.1,396.8 M694.3,396.8 L693.7,395.4 M696,398.6 L698,396.8 M698,396.8 L697.6,394.7 M698,396.8 L699.6,397.3 M695.4,401.8 L699.1,402.3 M699.1,402.3 L700.8,401 M700.8,401 L701.1,399.2 M700.8,401 L702.1,401.2 M699.1,402.3 L700.8,404 M700.8,404 L702.5,403.6 M700.8,404 L701.7,405.7" stroke="#a99a55" stroke-width="1.1" stroke-linecap="round" fill="none"/><circle cx="693" cy="406" r="2.8" fill="#eccd5e"/><g fill="#8d84c8" stroke="#8d84c8" stroke-width="0.01"><path d="M683.7,386.2 L682.5,385.1 L680.9,383.8 L678.9,382.2 L676.9,380.4 L675.0,378.6 L673.4,376.9 L672.0,375.2 L670.8,373.3 L669.5,371.4 L668.3,369.4 L667.1,367.4 L666.0,365.4 L664.7,363.4 L663.4,361.2 L662.0,359.1 L660.8,357.2 L659.7,355.6 L659.0,354.4 L657.0,355.6 L657.8,356.8 L658.9,358.4 L660.1,360.4 L661.4,362.5 L662.8,364.6 L664.0,366.6 L665.1,368.5 L666.1,370.6 L667.1,372.7 L668.1,374.9 L669.3,377.0 L670.6,379.1 L672.2,381.2 L674.0,383.3 L675.9,385.3 L677.7,387.2 L679.2,388.7 L680.3,389.8Z"/><path d="M683.9,389.7 L685.0,388.3 L686.6,386.3 L688.5,383.9 L690.5,381.5 L692.4,379.2 L694.2,377.2 L695.8,375.5 L697.3,373.9 L698.7,372.5 L700.2,371.1 L701.8,370.0 L703.5,369.0 L705.5,368.3 L707.9,367.6 L710.3,367.1 L712.7,366.7 L714.7,366.4 L716.2,366.1 L715.8,363.9 L714.4,364.1 L712.3,364.5 L709.9,364.9 L707.3,365.4 L704.8,366.1 L702.5,367.0 L700.6,368.0 L698.8,369.2 L697.0,370.4 L695.3,371.8 L693.6,373.2 L691.8,374.8 L689.8,376.6 L687.5,378.8 L685.3,381.1 L683.2,383.2 L681.4,385.0 L680.1,386.3Z"/><path d="M680.0,389.5 L680.9,390.6 L682.2,392.1 L683.7,393.8 L685.4,395.7 L687.1,397.5 L688.8,399.2 L690.4,400.6 L692.2,401.9 L693.9,403.1 L695.6,404.2 L697.0,405.4 L698.1,406.7 L699.0,408.1 L699.8,409.7 L700.5,411.4 L701.1,413.0 L701.5,414.4 L701.9,415.4 L704.1,414.6 L703.7,413.6 L703.2,412.2 L702.6,410.6 L701.9,408.8 L701.0,407.0 L699.9,405.3 L698.6,403.8 L697.1,402.4 L695.6,401.0 L694.0,399.7 L692.6,398.3 L691.2,396.8 L689.9,395.1 L688.5,393.2 L687.2,391.2 L685.9,389.3 L684.8,387.6 L684.0,386.5Z"/><path d="M680.6,386.2 L679.5,387.1 L678.0,388.4 L676.2,389.9 L674.4,391.6 L672.5,393.2 L670.9,394.8 L669.5,396.3 L668.3,397.9 L667.1,399.4 L666.0,400.8 L664.8,402.0 L663.5,403.1 L661.7,404.0 L659.5,404.8 L657.2,405.5 L655.0,406.1 L653.1,406.6 L651.7,407.0 L652.3,409.0 L653.6,408.6 L655.5,408.1 L657.8,407.5 L660.2,406.8 L662.5,405.9 L664.5,404.9 L666.2,403.8 L667.8,402.5 L669.1,401.1 L670.4,399.7 L671.7,398.4 L673.1,397.2 L674.8,395.9 L676.7,394.5 L678.8,393.1 L680.7,391.8 L682.3,390.7 L683.4,389.8Z"/><path d="M684.1,388.3 L684.2,386.4 L684.4,383.8 L684.5,380.8 L684.7,377.7 L684.8,374.7 L685.0,372.2 L685.3,370.0 L685.7,368.0 L686.1,366.2 L686.4,364.6 L686.7,363.2 L687.0,362.2 L685.0,361.8 L684.8,362.8 L684.5,364.2 L684.2,365.8 L683.8,367.7 L683.4,369.7 L683.0,371.8 L682.5,374.3 L681.9,377.3 L681.3,380.4 L680.7,383.4 L680.2,386.0 L679.9,387.7Z"/><path d="M681.6,390.3 L683.2,390.5 L685.4,390.7 L687.9,391.0 L690.7,391.2 L693.4,391.4 L695.9,391.5 L698.1,391.5 L700.2,391.5 L702.3,391.3 L704.3,391.2 L706.2,391.1 L708.0,391.1 L709.9,391.1 L711.9,391.1 L713.8,391.1 L715.5,391.1 L716.9,391.1 L718.0,391.1 L718.0,388.9 L716.9,388.9 L715.5,388.9 L713.8,388.9 L711.9,388.9 L709.9,388.9 L708.0,388.9 L706.1,389.0 L704.2,389.0 L702.2,388.9 L700.2,388.8 L698.2,388.7 L696.1,388.5 L693.8,388.1 L691.2,387.6 L688.6,387.0 L686.0,386.5 L683.9,386.0 L682.4,385.7Z"/><path d="M653.4,385.5 L652.5,385.3 L651.3,385.0 L649.9,384.6 L648.3,384.3 L646.7,384.0 L645.1,383.9 L643.6,384.0 L642.0,384.2 L640.4,384.5 L638.9,384.7 L637.7,385.0 L636.8,385.1 L637.2,386.9 L638.0,386.7 L639.3,386.5 L640.7,386.2 L642.2,386.0 L643.6,385.9 L644.9,386.1 L646.1,386.5 L647.5,387.0 L648.8,387.6 L650.1,388.3 L651.2,388.9 L652.0,389.3Z"/><path d="M651.3,386.0 L650.5,387.0 L649.4,388.4 L648.1,390.0 L646.8,391.6 L645.5,393.2 L644.4,394.3 L643.4,395.1 L642.5,395.7 L641.6,396.2 L640.8,396.6 L640.1,396.9 L639.6,397.2 L640.4,398.8 L640.9,398.5 L641.6,398.2 L642.4,397.8 L643.4,397.2 L644.5,396.5 L645.6,395.7 L646.9,394.7 L648.5,393.4 L650.2,392.0 L651.8,390.7 L653.2,389.6 L654.1,388.8Z"/><path d="M654.4,386.9 L654.1,385.9 L653.6,384.5 L653.0,382.8 L652.3,381.0 L651.6,379.2 L650.9,377.6 L650.1,376.1 L649.3,374.6 L648.6,373.0 L647.8,371.6 L647.2,370.5 L646.7,369.6 L645.3,370.4 L645.7,371.2 L646.4,372.4 L647.1,373.8 L647.9,375.3 L648.6,376.8 L649.1,378.4 L649.5,379.9 L649.9,381.7 L650.2,383.6 L650.5,385.3 L650.8,386.8 L651.0,387.9Z"/><path d="M651.2,388.5 L652.2,389.6 L653.5,391.1 L655.1,392.9 L656.7,394.8 L658.1,396.7 L659.2,398.4 L659.9,400.1 L660.3,401.9 L660.6,403.8 L660.9,405.5 L661.0,407.0 L661.2,408.1 L662.8,407.9 L662.7,406.8 L662.5,405.3 L662.3,403.5 L661.9,401.6 L661.4,399.6 L660.8,397.6 L659.9,395.6 L658.7,393.4 L657.4,391.2 L656.0,389.2 L654.9,387.5 L654.2,386.3Z"/><path d="M719.8,390.9 L720.4,389.5 L721.2,387.7 L722.1,385.5 L723.2,383.1 L724.2,380.8 L725.2,378.6 L726.1,376.5 L727.0,374.2 L728.0,372.0 L729.0,370.0 L729.9,368.1 L730.8,366.4 L731.6,365.1 L732.4,363.8 L733.1,362.8 L733.8,361.9 L734.3,361.1 L734.7,360.5 L733.3,359.5 L732.9,360.1 L732.3,360.8 L731.6,361.7 L730.9,362.8 L730.1,364.1 L729.2,365.6 L728.3,367.2 L727.3,369.2 L726.3,371.2 L725.1,373.3 L724.0,375.4 L722.8,377.4 L721.7,379.5 L720.4,381.7 L719.1,384.0 L717.9,386.1 L716.9,387.8 L716.2,389.1Z"/><path d="M716.4,391.1 L717.3,392.4 L718.7,394.2 L720.3,396.3 L722.0,398.5 L723.6,400.7 L725.0,402.6 L726.2,404.4 L727.4,406.2 L728.5,407.9 L729.4,409.6 L730.4,411.2 L731.3,412.5 L732.1,413.6 L733.0,414.6 L733.8,415.3 L734.5,415.9 L735.0,416.3 L735.4,416.7 L736.6,415.3 L736.2,414.9 L735.6,414.5 L735.0,414.0 L734.3,413.3 L733.5,412.5 L732.7,411.5 L731.9,410.2 L731.0,408.7 L730.0,407.1 L729.1,405.2 L728.1,403.3 L727.0,401.4 L725.8,399.2 L724.4,396.9 L723.0,394.5 L721.6,392.2 L720.5,390.3 L719.6,388.9Z"/><path d="M719.5,389.5 L719.0,388.2 L718.3,386.3 L717.4,384.0 L716.5,381.7 L715.5,379.5 L714.7,377.7 L713.9,376.2 L713.1,374.9 L712.3,373.8 L711.6,372.9 L711.0,372.1 L710.6,371.6 L709.4,372.4 L709.9,373.0 L710.5,373.8 L711.2,374.7 L711.9,375.7 L712.6,376.9 L713.3,378.3 L713.9,380.1 L714.5,382.3 L715.1,384.7 L715.6,387.1 L716.1,389.1 L716.5,390.5Z"/></g><g fill="none" stroke="#8d84c8" stroke-linecap="round" stroke-linejoin="round"><path d="M682.0,388.0 C680.3,386.3 674.8,381.7 672.0,378.0 C669.2,374.3 667.3,369.8 665.0,366.0 C662.7,362.2 659.2,356.8 658.0,355.0" stroke-width="2.3"/><path d="M666.0,368.0 C667.3,366.0 672.3,359.3 674.0,356.0 C675.7,352.7 675.7,349.3 676.0,348.0" stroke-width="1.6"/><path d="M682.0,388.0 C683.8,386.0 689.5,379.3 693.0,376.0 C696.5,372.7 699.2,369.8 703.0,368.0 C706.8,366.2 713.8,365.5 716.0,365.0" stroke-width="2.3"/><path d="M703,368 L706,355" stroke-width="1.6"/><path d="M682.0,388.0 C683.3,389.7 687.2,395.0 690.0,398.0 C692.8,401.0 696.8,403.2 699.0,406.0 C701.2,408.8 702.3,413.5 703.0,415.0" stroke-width="2.3"/><path d="M692,400 L686,412" stroke-width="1.6"/><path d="M682.0,388.0 C680.3,389.3 675.0,393.3 672.0,396.0 C669.0,398.7 667.3,402.0 664.0,404.0 C660.7,406.0 654.0,407.3 652.0,408.0" stroke-width="2.1"/><path d="M671,397 L672,412" stroke-width="1.6"/><path d="M682.0,388.0 C682.3,385.3 683.3,376.3 684.0,372.0 C684.7,367.7 685.7,363.7 686.0,362.0" stroke-width="2"/><path d="M682.0,388.0 C684.3,388.3 691.7,389.7 696.0,390.0 C700.3,390.3 704.3,390.0 708.0,390.0 C711.7,390.0 716.3,390.0 718.0,390.0" stroke-width="2.1"/><path d="M652.7,387.4 C651.4,387.0 647.6,385.2 645.0,385.0 C642.4,384.8 638.3,385.8 637.0,386.0" stroke-width="1.8"/><path d="M652.7,387.4 C651.4,388.7 647.1,393.2 645.0,395.0 C642.9,396.8 640.8,397.5 640.0,398.0" stroke-width="1.8"/><path d="M652.7,387.4 C652.2,385.8 651.1,380.9 650.0,378.0 C648.9,375.1 646.7,371.3 646.0,370.0" stroke-width="1.6"/><path d="M652.7,387.4 C653.9,389.2 658.5,394.6 660.0,398.0 C661.5,401.4 661.7,406.3 662.0,408.0" stroke-width="1.6"/><path d="M645,395 L649,402" stroke-width="1.3"/><path d="M637,386 L633,382" stroke-width="1.3"/><path d="M637,386 L632,390" stroke-width="1.3"/><path d="M718.0,390.0 C719.0,388.0 722.0,382.0 724.0,378.0 C726.0,374.0 728.3,369.0 730.0,366.0 C731.7,363.0 733.3,361.0 734.0,360.0" stroke-width="1.8"/><path d="M724,378 L718,368" stroke-width="1.4"/><path d="M730,366 L738,368" stroke-width="1.4"/><path d="M718.0,390.0 C719.3,392.0 723.7,398.3 726.0,402.0 C728.3,405.7 730.3,409.7 732.0,412.0 C733.7,414.3 735.3,415.3 736.0,416.0" stroke-width="1.8"/><path d="M726.0,402.0 C724.3,403.7 717.7,409.3 716.0,412.0 C714.3,414.7 716.0,417.0 716.0,418.0" stroke-width="1.5"/><path d="M718.0,390.0 C717.3,388.0 715.3,381.0 714.0,378.0 C712.7,375.0 710.7,373.0 710.0,372.0" stroke-width="1.5"/><path d="M700.0,404.0 C700.8,406.7 703.7,415.3 705.0,420.0 C706.3,424.7 707.5,430.0 708.0,432.0" stroke-width="1.6"/><path d="M672,412 L676,425" stroke-width="1.3"/><path d="M637.0,386.0 C636.5,387.3 633.8,391.8 634.0,394.0 C634.2,396.2 637.3,398.2 638.0,399.0" stroke-width="1.2"/><path d="M645.0,395.0 C644.3,396.5 640.8,402.2 641.0,404.0 C641.2,405.8 645.2,405.7 646.0,406.0" stroke-width="1.2"/><path d="M660.0,398.0 C661.0,398.7 665.2,400.3 666.0,402.0 C666.8,403.7 665.2,407.0 665.0,408.0" stroke-width="1.2"/><path d="M650.0,380.0 C649.7,378.7 647.7,374.3 648.0,372.0 C648.3,369.7 651.3,367.0 652.0,366.0" stroke-width="1.2"/><path d="M672.0,378.0 C670.7,378.3 666.3,380.3 664.0,380.0 C661.7,379.7 659.0,376.7 658.0,376.0" stroke-width="1.2"/><path d="M703.0,415.0 C702.2,417.2 700.2,424.5 698.0,428.0 C695.8,431.5 691.3,434.7 690.0,436.0" stroke-width="1.3"/><path d="M732,412 L740,418" stroke-width="1.2"/><path d="M736,416 L730,425" stroke-width="1.1"/><path d="M686.0,362.0 C685.0,360.3 680.7,355.0 680.0,352.0 C679.3,349.0 681.7,345.3 682.0,344.0" stroke-width="1.3"/><path d="M716.0,365.0 C717.0,363.8 720.0,359.2 722.0,358.0 C724.0,356.8 727.0,358.0 728.0,358.0" stroke-width="1.3"/><path d="M706,355 L712,348" stroke-width="1.1"/><path d="M658,355 L652,350" stroke-width="1.1"/><path d="M676,348 L672,340" stroke-width="1.1"/></g><g transform="translate(682,388.7) scale(1.5)"><path d="M5.4,1.4 C5.0,2.9 2.9,4.4 1.3,4.9 C-0.3,5.3 -2.9,5.0 -4.0,4.0 C-5.0,2.9 -5.3,0.3 -4.9,-1.3 C-4.4,-2.9 -2.9,-5.0 -1.4,-5.4 C-0.0,-5.8 2.4,-4.7 3.6,-3.6 C4.7,-2.4 5.8,0.0 5.4,1.4Z" fill="#9b91d3" stroke="#8d84c8" stroke-width="0.8"/><circle r="2.9" fill="#6e5eb3"/></g><g transform="translate(652.7,387.4) scale(1)"><path d="M5.4,1.4 C5.0,2.9 2.9,4.4 1.3,4.9 C-0.3,5.3 -2.9,5.0 -4.0,4.0 C-5.0,2.9 -5.3,0.3 -4.9,-1.3 C-4.4,-2.9 -2.9,-5.0 -1.4,-5.4 C-0.0,-5.8 2.4,-4.7 3.6,-3.6 C4.7,-2.4 5.8,0.0 5.4,1.4Z" fill="#9b91d3" stroke="#8d84c8" stroke-width="0.8"/><circle r="2.9" fill="#6e5eb3"/></g><g transform="translate(718.1,390) scale(1.1)"><path d="M5.4,1.4 C5.0,2.9 2.9,4.4 1.3,4.9 C-0.3,5.3 -2.9,5.0 -4.0,4.0 C-5.0,2.9 -5.3,0.3 -4.9,-1.3 C-4.4,-2.9 -2.9,-5.0 -1.4,-5.4 C-0.0,-5.8 2.4,-4.7 3.6,-3.6 C4.7,-2.4 5.8,0.0 5.4,1.4Z" fill="#9b91d3" stroke="#8d84c8" stroke-width="0.8"/><circle r="2.9" fill="#6e5eb3"/></g><path d="M697,352.5 L721.5,352.5 M719.8,389.7 L743.6,389.7" stroke="#1c1c22" stroke-width="0.9"/><g transform="translate(835.2,491.2) rotate(-20)"><ellipse rx="6.6" ry="3.9" fill="#f5cdc6" stroke="#e9afa7" stroke-width="0.9"/><ellipse rx="3.6" ry="1.8" fill="#f2c0b8" opacity="0.6"/></g><g transform="translate(865.6,500) rotate(-40)"><ellipse rx="6.6" ry="3.9" fill="#f5cdc6" stroke="#e9afa7" stroke-width="0.9"/><ellipse rx="3.6" ry="1.8" fill="#f2c0b8" opacity="0.6"/></g><g transform="translate(900.8,496) rotate(0)"><ellipse rx="6.6" ry="3.9" fill="#f5cdc6" stroke="#e9afa7" stroke-width="0.9"/><ellipse rx="3.6" ry="1.8" fill="#f2c0b8" opacity="0.6"/></g><g transform="translate(939.2,495.2) rotate(30)"><ellipse rx="6.6" ry="3.9" fill="#f5cdc6" stroke="#e9afa7" stroke-width="0.9"/><ellipse rx="3.6" ry="1.8" fill="#f2c0b8" opacity="0.6"/></g><g transform="translate(974.4,499.2) rotate(15)"><ellipse rx="6.6" ry="3.9" fill="#f5cdc6" stroke="#e9afa7" stroke-width="0.9"/><ellipse rx="3.6" ry="1.8" fill="#f2c0b8" opacity="0.6"/></g><clipPath id="bdL"><rect x="810" y="440" width="100" height="60"/></clipPath><clipPath id="bdR"><rect x="924" y="440" width="72" height="60"/></clipPath><g clip-path="url(#bdL)"><path d="M818,472 C826,470 834,462 846,459.5 C856,458 864,460 872,465 C880,469 888,471 896,472Z" fill="#f2b36e" stroke="#e6a35e" stroke-width="0.6"/><ellipse cx="854" cy="466" rx="5" ry="3" fill="#e99a56"/><path d="M810,467 C822,466 832,458 845,456 C856,454.5 864,457 874,462.5 C884,467 896,467.5 909,468" fill="none" stroke="#8e86cc" stroke-width="4.4" stroke-linecap="round"/><rect x="810" y="472" width="100" height="4" fill="#c4413e"/><g><path d="M812.9,476 L812.9,481.5 C819.5,482 821.1,486 829.4,486 C837.6,486 839.3,482 845.9,481.5 L845.9,481.5 C852.5,482 854.1,486 862.4,486 C870.6,486 872.3,482 878.9,481.5 L878.9,481.5 C885.5,482 887.1,486 895.4,486 C903.6,486 905.3,482 911.9,481.5 L911.9,476 Z" fill="#f8d2cd" stroke="#d6948e" stroke-width="0.9"/><line x1="845.9" y1="476" x2="845.9" y2="481.5" stroke="#d6948e" stroke-width="0.8"/><ellipse cx="829.4" cy="480.2" rx="3.8" ry="2.1" fill="#eba8a1"/><line x1="878.9" y1="476" x2="878.9" y2="481.5" stroke="#d6948e" stroke-width="0.8"/><ellipse cx="862.4" cy="480.2" rx="3.8" ry="2.1" fill="#eba8a1"/><line x1="911.9" y1="476" x2="911.9" y2="481.5" stroke="#d6948e" stroke-width="0.8"/><ellipse cx="895.4" cy="480.2" rx="3.8" ry="2.1" fill="#eba8a1"/></g></g><g clip-path="url(#bdR)"><path d="M930,472 C938,470 946,462 956,459 C964,457 972,459 978,463 C985,468 990,471 996,472Z" fill="#f2b36e" stroke="#e6a35e" stroke-width="0.6"/><ellipse cx="962" cy="465.5" rx="5" ry="3" fill="#e99a56"/><path d="M925,468 C936,466 944,458 952,455 C960,452.5 968,453.5 975,457 C983,462 990,466 997,466.5" fill="none" stroke="#8e86cc" stroke-width="4.4" stroke-linecap="round"/><rect x="924" y="472" width="72" height="4" fill="#c4413e"/><g><path d="M927,476 L927,481.5 C933.6,482 935.2,486 943.5,486 C951.8,486 953.4,482 960,481.5 L960,481.5 C966.6,482 968.2,486 976.5,486 C984.8,486 986.4,482 993,481.5 L993,481.5 C999.6,482 1001.2,486 1009.5,486 C1017.8,486 1019.4,482 1026,481.5 L1026,476 Z" fill="#f8d2cd" stroke="#d6948e" stroke-width="0.9"/><line x1="960" y1="476" x2="960" y2="481.5" stroke="#d6948e" stroke-width="0.8"/><ellipse cx="943.5" cy="480.2" rx="3.8" ry="2.1" fill="#eba8a1"/><line x1="993" y1="476" x2="993" y2="481.5" stroke="#d6948e" stroke-width="0.8"/><ellipse cx="976.5" cy="480.2" rx="3.8" ry="2.1" fill="#eba8a1"/><line x1="1026" y1="476" x2="1026" y2="481.5" stroke="#d6948e" stroke-width="0.8"/><ellipse cx="1009.5" cy="480.2" rx="3.8" ry="2.1" fill="#eba8a1"/></g></g><rect x="916.3" y="454" width="2.6" height="44" fill="url(#arrV)"/><path d="M913,495 L917.6,504.5 L922.2,495Z" fill="#2e3858"/><g fill="#8d84c8" stroke="#8d84c8" stroke-width="0.01"><path d="M876.0,374.7 L874.0,374.3 L871.2,373.7 L867.7,373.1 L864.1,372.5 L860.6,372.2 L857.4,372.2 L854.7,372.7 L852.4,373.6 L850.4,374.7 L848.5,375.8 L846.5,376.8 L844.2,377.7 L841.4,378.4 L838.0,379.0 L834.5,379.6 L831.2,380.2 L828.3,380.6 L826.3,381.0 L826.7,383.0 L828.7,382.7 L831.5,382.2 L834.9,381.7 L838.4,381.1 L841.8,380.4 L844.8,379.7 L847.3,378.9 L849.6,378.0 L851.6,377.0 L853.5,376.2 L855.5,375.6 L857.6,375.4 L860.3,375.6 L863.5,376.2 L866.9,377.1 L870.1,378.0 L873.0,378.8 L875.0,379.3Z"/><path d="M877.6,376.1 L876.9,374.5 L875.8,372.3 L874.6,369.7 L873.2,366.9 L871.8,364.2 L870.4,361.7 L869.0,359.4 L867.6,357.1 L866.1,354.9 L864.6,352.7 L863.1,350.7 L861.6,348.7 L859.8,346.9 L857.9,345.2 L856.0,343.7 L854.2,342.3 L852.7,341.2 L851.6,340.4 L850.4,342.0 L851.5,342.8 L853.0,343.9 L854.8,345.3 L856.6,346.8 L858.5,348.4 L860.0,350.1 L861.5,351.9 L862.8,353.9 L864.1,356.1 L865.3,358.4 L866.5,360.8 L867.6,363.1 L868.7,365.6 L869.9,368.4 L871.0,371.3 L871.9,374.0 L872.8,376.3 L873.4,377.9Z"/><path d="M877.6,376.8 L877.2,374.1 L876.8,370.2 L876.2,365.7 L875.6,360.9 L875.1,356.4 L874.7,352.6 L874.6,349.2 L874.6,346.0 L874.6,342.9 L874.6,340.2 L874.7,338.0 L874.7,336.3 L872.9,336.3 L872.9,338.0 L872.8,340.2 L872.8,342.9 L872.8,346.0 L872.8,349.2 L872.9,352.6 L872.9,356.5 L873.0,361.1 L873.1,365.9 L873.2,370.5 L873.4,374.4 L873.4,377.2Z"/><path d="M877.1,378.6 L878.5,377.1 L880.5,375.0 L882.8,372.5 L885.2,369.9 L887.5,367.2 L889.5,364.8 L891.1,362.6 L892.6,360.4 L894.1,358.4 L895.5,356.4 L896.6,354.6 L897.6,353.1 L898.3,351.8 L898.7,350.6 L899.0,349.7 L899.1,348.9 L899.2,348.3 L899.3,347.9 L897.3,347.5 L897.2,348.0 L897.1,348.6 L897.0,349.2 L896.8,350.0 L896.5,350.9 L895.8,352.1 L894.9,353.6 L893.8,355.3 L892.5,357.2 L891.0,359.2 L889.3,361.2 L887.5,363.2 L885.4,365.2 L882.9,367.5 L880.2,369.9 L877.6,372.1 L875.5,374.0 L873.9,375.4Z"/><path d="M873.4,375.8 L872.6,377.3 L871.5,379.3 L870.2,381.8 L868.8,384.3 L867.4,386.9 L866.0,389.1 L864.5,391.1 L863.0,393.0 L861.3,395.0 L859.7,396.9 L858.1,399.0 L856.6,401.0 L855.2,403.3 L853.9,405.8 L852.7,408.4 L851.6,410.7 L850.7,412.7 L850.1,414.2 L851.9,415.0 L852.6,413.6 L853.5,411.6 L854.6,409.3 L855.8,406.8 L857.1,404.3 L858.4,402.2 L859.8,400.3 L861.5,398.5 L863.2,396.7 L865.1,394.9 L866.9,393.1 L868.6,391.1 L870.3,388.9 L872.1,386.4 L873.8,383.9 L875.3,381.6 L876.6,379.6 L877.6,378.2Z"/><path d="M873.9,378.8 L875.3,380.0 L877.2,381.5 L879.4,383.4 L881.7,385.4 L883.8,387.5 L885.4,389.4 L886.4,391.3 L887.0,393.3 L887.6,395.6 L888.2,398.2 L889.2,400.9 L890.8,403.8 L893.2,407.0 L896.2,410.8 L899.5,414.6 L902.7,418.2 L905.4,421.3 L907.3,423.5 L908.9,422.1 L907.0,419.9 L904.2,416.8 L901.0,413.2 L897.8,409.4 L894.9,405.8 L892.8,402.6 L891.6,399.9 L890.9,397.5 L890.5,395.0 L890.2,392.6 L889.5,390.1 L888.4,387.6 L886.7,385.1 L884.6,382.6 L882.3,380.3 L880.2,378.2 L878.4,376.5 L877.1,375.2Z"/></g><g fill="none" stroke="#8d84c8" stroke-linecap="round" stroke-linejoin="round"><path d="M875.5,377.0 C872.5,376.5 862.7,373.5 857.5,373.8 C852.3,374.1 849.7,377.3 844.5,378.7 C839.3,380.1 829.5,381.4 826.5,382.0" stroke-width="2.1"/><path d="M846,378 L846,390" stroke-width="1.6"/><path d="M836,380 L829.8,386.9" stroke-width="1.5"/><path d="M875.5,377.0 C874.4,374.6 871.5,367.0 869.0,362.4 C866.5,357.8 863.8,352.9 860.8,349.4 C857.8,345.9 852.6,342.6 851.0,341.2" stroke-width="2"/><path d="M862,351 L860.8,334.7" stroke-width="1.6"/><path d="M875.5,377.0 C875.2,372.9 874.1,359.4 873.8,352.6 C873.5,345.8 873.8,339.0 873.8,336.3" stroke-width="1.8"/><path d="M875.5,377.0 C877.7,374.8 885.0,368.1 888.5,364.0 C892.0,359.9 895.1,355.3 896.7,352.6 C898.3,349.9 898.0,348.5 898.3,347.7" stroke-width="2"/><path d="M889.0,363.0 C890.8,362.2 896.3,358.8 900.0,358.0 C903.7,357.2 909.5,358.0 911.4,358.0" stroke-width="1.7"/><path d="M875.5,377.0 C874.1,379.2 870.3,386.0 867.3,390.1 C864.3,394.2 860.2,397.5 857.5,401.6 C854.8,405.7 852.1,412.4 851.0,414.6" stroke-width="2.1"/><path d="M860,398 L859,413" stroke-width="1.7"/><path d="M875.5,377.0 C877.4,378.9 884.2,384.1 886.9,388.5 C889.6,392.9 888.3,397.5 891.8,403.2 C895.3,408.9 905.4,419.5 908.1,422.8" stroke-width="2.1"/><path d="M891,403 L880.4,417.9" stroke-width="1.7"/><path d="M893,406 L891.8,417.9" stroke-width="1.5"/></g><ellipse cx="851" cy="415.5" rx="2.8" ry="1.8" fill="#8d84c8"/><ellipse cx="859" cy="413.5" rx="2.8" ry="1.8" fill="#8d84c8"/><ellipse cx="908.1" cy="423.5" rx="2.8" ry="1.8" fill="#8d84c8"/><ellipse cx="891.8" cy="418.5" rx="2.8" ry="1.8" fill="#8d84c8"/><g transform="translate(875.5,377.1) scale(1.5)"><path d="M5.4,1.4 C5.0,2.9 2.9,4.4 1.3,4.9 C-0.3,5.3 -2.9,5.0 -4.0,4.0 C-5.0,2.9 -5.3,0.3 -4.9,-1.3 C-4.4,-2.9 -2.9,-5.0 -1.4,-5.4 C-0.0,-5.8 2.4,-4.7 3.6,-3.6 C4.7,-2.4 5.8,0.0 5.4,1.4Z" fill="#9b91d3" stroke="#8d84c8" stroke-width="0.8"/><circle r="2.8" fill="#6e5eb3"/></g><g fill="#6fa7da" stroke="#6fa7da" stroke-width="0.01"><path d="M947.7,363.2 L945.0,362.3 L941.4,361.2 L937.1,359.8 L932.4,358.4 L927.6,357.0 L923.1,355.8 L918.5,354.7 L913.5,353.5 L908.5,352.2 L903.9,351.0 L899.9,350.1 L897.1,349.4 L896.3,352.6 L899.1,353.4 L903.0,354.3 L907.7,355.5 L912.6,356.8 L917.5,358.2 L921.9,359.8 L926.1,361.5 L930.6,363.4 L935.0,365.3 L939.1,367.1 L942.6,368.7 L945.1,369.8Z"/><path d="M949.0,366.4 L949.0,365.7 L948.9,364.8 L948.7,363.7 L948.6,362.5 L948.5,361.1 L948.5,359.6 L948.5,357.9 L948.5,355.8 L948.6,353.6 L948.7,351.3 L948.8,349.1 L949.0,347.1 L949.4,345.2 L949.7,343.3 L950.2,341.5 L950.5,339.8 L950.9,338.4 L951.1,337.4 L948.7,336.8 L948.4,337.8 L948.1,339.3 L947.7,340.9 L947.3,342.8 L946.9,344.8 L946.6,346.7 L946.2,348.7 L945.8,350.9 L945.3,353.2 L944.9,355.4 L944.6,357.5 L944.3,359.4 L944.1,361.0 L944.0,362.5 L943.9,363.8 L943.8,365.0 L943.8,365.9 L943.8,366.6Z"/><path d="M947.8,368.7 L948.4,368.3 L949.3,367.6 L950.4,366.9 L951.6,366.0 L952.9,365.1 L954.4,364.1 L956.2,363.0 L958.2,361.6 L960.3,360.2 L962.5,358.8 L964.6,357.5 L966.6,356.4 L968.4,355.5 L970.3,354.7 L972.2,353.9 L973.8,353.2 L975.2,352.7 L976.3,352.3 L975.3,349.9 L974.3,350.4 L972.9,350.9 L971.2,351.6 L969.3,352.4 L967.4,353.3 L965.4,354.2 L963.4,355.2 L961.1,356.3 L958.7,357.4 L956.4,358.5 L954.2,359.6 L952.4,360.5 L950.7,361.3 L949.2,362.1 L947.9,362.8 L946.7,363.4 L945.8,363.9 L945.0,364.3Z"/><path d="M945.6,369.0 L946.5,369.2 L947.8,369.5 L949.2,369.8 L950.8,370.2 L952.4,370.7 L954.0,371.2 L955.7,371.8 L957.5,372.6 L959.5,373.5 L961.5,374.4 L963.5,375.2 L965.5,376.0 L967.5,376.9 L969.7,377.7 L971.9,378.5 L973.9,379.2 L975.6,379.8 L976.8,380.3 L977.6,377.9 L976.4,377.5 L974.7,376.9 L972.7,376.2 L970.6,375.4 L968.5,374.6 L966.5,373.8 L964.7,372.8 L962.8,371.7 L961.0,370.6 L959.1,369.4 L957.3,368.4 L955.6,367.4 L953.9,366.6 L952.2,365.9 L950.6,365.3 L949.2,364.7 L948.0,364.3 L947.2,364.0Z"/><path d="M944.2,365.1 L943.8,365.7 L943.4,366.6 L942.9,367.5 L942.3,368.5 L941.6,369.5 L940.8,370.5 L939.7,371.6 L938.2,372.9 L936.6,374.2 L935.0,375.5 L933.3,376.8 L931.7,378.1 L930.0,379.2 L928.3,380.5 L926.5,381.7 L924.9,382.8 L923.6,383.7 L922.6,384.4 L924.0,386.4 L925.0,385.8 L926.3,384.8 L927.9,383.7 L929.7,382.5 L931.5,381.3 L933.1,380.1 L934.8,379.1 L936.7,378.0 L938.6,376.9 L940.4,375.9 L942.1,374.8 L943.6,373.7 L944.9,372.5 L946.0,371.3 L946.9,370.2 L947.6,369.2 L948.2,368.5 L948.6,367.9Z"/><path d="M943.9,367.1 L944.1,367.8 L944.4,368.7 L944.7,369.7 L945.1,370.8 L945.4,372.1 L945.6,373.7 L945.8,375.5 L946.0,377.7 L946.2,380.1 L946.3,382.6 L946.4,385.1 L946.5,387.5 L946.5,389.9 L946.3,392.6 L946.2,395.3 L946.1,397.8 L945.9,399.9 L945.9,401.4 L948.3,401.6 L948.4,400.0 L948.6,397.9 L948.7,395.4 L948.8,392.7 L949.0,390.0 L949.1,387.5 L949.3,385.1 L949.5,382.6 L949.7,380.1 L949.8,377.6 L949.9,375.4 L950.0,373.3 L949.9,371.5 L949.7,369.9 L949.5,368.5 L949.2,367.4 L949.1,366.5 L948.9,365.9Z"/></g><g fill="none" stroke="#6fa7da" stroke-linecap="round" stroke-linejoin="round"><path d="M946.4,366.5 C942.4,365.0 930.8,360.4 922.5,357.8 C914.2,355.2 901.0,352.1 896.7,351.0" stroke-width="3.4"/><path d="M896.7,351.0 C894.8,349.4 889.1,343.6 885.3,341.2 C881.5,338.8 876.0,337.9 873.8,336.3 C871.6,334.7 872.5,332.2 872.2,331.4" stroke-width="2.1"/><path d="M885,341 L880,337" stroke-width="1.5"/><path d="M896.7,351.0 C894.0,351.3 884.2,350.7 880.4,352.6 C876.6,354.5 874.9,360.8 873.8,362.4" stroke-width="2"/><path d="M880,353 L876,350" stroke-width="1.4"/><path d="M896.7,351.0 C896.4,348.8 895.5,341.8 895.0,338.0 C894.5,334.2 893.7,329.8 893.4,328.2" stroke-width="2"/><path d="M895,336 L904.8,331.4" stroke-width="1.6"/><path d="M894,332 L889,328" stroke-width="1.4"/><path d="M946.4,359.5 C946.6,357.4 947.2,350.6 947.8,346.9 C948.4,343.2 949.5,338.7 949.9,337.1" stroke-width="2.5"/><path d="M949.2,342.7 L945,335.7" stroke-width="1.8"/><path d="M949.2,342.7 L954.8,337.1" stroke-width="1.8"/><path d="M953.4,362.3 C955.5,361.1 962.3,357.2 966.0,355.3 C969.7,353.4 974.2,351.8 975.8,351.1" stroke-width="2.5"/><path d="M971.6,352.5 L977.2,356.7" stroke-width="1.8"/><path d="M971.6,352.5 L971.6,346.9" stroke-width="1.8"/><path d="M954.8,369.3 C956.7,370.2 962.3,373.3 966.0,374.9 C969.7,376.5 975.3,378.4 977.2,379.1" stroke-width="2.5"/><path d="M974.4,377.7 L978.6,373.5" stroke-width="1.8"/><path d="M942.2,372.1 C940.6,373.3 935.5,376.9 932.4,379.1 C929.2,381.3 924.8,384.3 923.3,385.4" stroke-width="2.5"/><path d="M929.6,381.9 L926.8,376.3" stroke-width="1.8"/><path d="M947.8,373.5 C947.8,375.8 947.9,382.8 947.8,387.5 C947.7,392.2 947.2,399.2 947.1,401.5" stroke-width="2.5"/><path d="M947.1,393.1 L942.2,401.5" stroke-width="1.8"/><path d="M947.1,393.1 L952,400.1" stroke-width="1.8"/></g><g transform="translate(946.4,366.5) scale(1.4)"><path d="M6.9,1.8 C6.4,3.6 3.7,5.7 1.7,6.2 C-0.3,6.7 -3.7,6.4 -5.1,5.1 C-6.4,3.7 -6.7,0.3 -6.2,-1.7 C-5.7,-3.7 -3.6,-6.4 -1.8,-6.9 C-0.1,-7.4 3.1,-6.0 4.5,-4.5 C6.0,-3.1 7.4,0.1 6.9,1.8Z" fill="#7fb8e8" stroke="#6fa7da" stroke-width="0.8"/><circle r="3.4" fill="#4a87c6"/></g><defs><linearGradient id="artG" gradientUnits="userSpaceOnUse" x1="0" y1="368" x2="0" y2="484"><stop offset="0" stop-color="#f2c4be"/><stop offset="0.25" stop-color="#e07d75"/><stop offset="0.75" stop-color="#e07d75"/><stop offset="1" stop-color="#f2c4be"/></linearGradient><linearGradient id="veinG" gradientUnits="userSpaceOnUse" x1="0" y1="368" x2="0" y2="484"><stop offset="0" stop-color="#bcd4f1"/><stop offset="0.25" stop-color="#6c9fdd"/><stop offset="0.75" stop-color="#6c9fdd"/><stop offset="1" stop-color="#bcd4f1"/></linearGradient></defs><path d="M1010.5,368.7 C1010.7,372.6 1010.7,385.1 1011.5,392.0 C1012.3,398.9 1014.3,404.7 1015.5,410.0 C1016.7,415.3 1018.5,419.3 1018.5,424.0 C1018.5,428.7 1016.7,432.7 1015.5,438.0 C1014.3,443.3 1012.3,448.4 1011.5,456.0 C1010.7,463.6 1010.7,478.9 1010.5,483.5 L1017.0,483.5 C1017.2,479.2 1017.2,465.6 1018.0,458.0 C1018.8,450.4 1020.0,442.9 1021.5,438.0 C1023.0,433.1 1024.9,430.2 1027.0,428.5 C1029.1,426.8 1031.5,427.9 1034.0,427.5 C1036.5,427.1 1040.7,426.2 1042.0,426.0 L1042.0,422.0 C1040.7,421.8 1036.5,420.9 1034.0,420.5 C1031.5,420.1 1029.1,421.2 1027.0,419.5 C1024.9,417.8 1023.0,414.9 1021.5,410.0 C1020.0,405.1 1018.8,396.9 1018.0,390.0 C1017.2,383.1 1017.2,372.2 1017.0,368.7Z" fill="url(#artG)" stroke="#c8655f" stroke-width="0.9"/><path d="M1012.8,372.0 C1012.9,375.3 1012.9,385.7 1013.6,392.0 C1014.4,398.3 1016.2,404.7 1017.3,410.0 C1018.4,415.3 1020.0,419.3 1020.0,424.0 C1020.0,428.7 1018.4,432.7 1017.3,438.0 C1016.2,443.3 1014.4,449.0 1013.6,456.0 C1012.9,463.0 1012.9,476.0 1012.8,480.0" fill="none" stroke="#f8dcd7" stroke-width="1.3"/><path d="M1165.5,368.7 C1165.3,372.6 1165.3,385.1 1164.5,392.0 C1163.7,398.9 1161.7,404.7 1160.5,410.0 C1159.3,415.3 1157.5,419.3 1157.5,424.0 C1157.5,428.7 1159.3,432.7 1160.5,438.0 C1161.7,443.3 1163.7,448.4 1164.5,456.0 C1165.3,463.6 1165.3,478.9 1165.5,483.5 L1159.0,483.5 C1158.8,479.2 1158.8,465.6 1158.0,458.0 C1157.2,450.4 1156.0,442.9 1154.5,438.0 C1153.0,433.1 1151.1,430.2 1149.0,428.5 C1146.9,426.8 1144.5,427.9 1142.0,427.5 C1139.5,427.1 1135.3,426.2 1134.0,426.0 L1134.0,422.0 C1135.3,421.8 1139.5,420.9 1142.0,420.5 C1144.5,420.1 1146.9,421.2 1149.0,419.5 C1151.1,417.8 1153.0,414.9 1154.5,410.0 C1156.0,405.1 1157.2,396.9 1158.0,390.0 C1158.8,383.1 1158.8,372.2 1159.0,368.7Z" fill="url(#veinG)" stroke="#4f86c9" stroke-width="0.9"/><path d="M1163.2,372.0 C1163.1,375.3 1163.2,385.7 1162.4,392.0 C1161.7,398.3 1159.8,404.7 1158.7,410.0 C1157.6,415.3 1156.0,419.3 1156.0,424.0 C1156.0,428.7 1157.6,432.7 1158.7,438.0 C1159.8,443.3 1161.7,449.0 1162.4,456.0 C1163.2,463.0 1163.1,476.0 1163.2,480.0" fill="none" stroke="#dbe8f8" stroke-width="1.3"/><defs><linearGradient id="glyU" gradientUnits="userSpaceOnUse" x1="1025" y1="0" x2="1150" y2="0"><stop offset="0" stop-color="#d2625c"/><stop offset="0.5" stop-color="#8a6a9a"/><stop offset="1" stop-color="#4d8fd6"/></linearGradient></defs><path d="M1040,424 L1042.5,414.2 L1045,410.1 L1047.6,406.8 L1050.1,403.8 L1052.6,400.7 L1055.2,397.4 L1057.7,393.9 L1060.2,390.3 L1062.7,386.6 L1065.2,383.1 L1067.8,380 L1070.3,377.6 L1072.8,375.8 L1075.3,374.9 L1077.9,374.8 L1080.4,375.6 L1082.9,376.9 L1085.5,378.7 L1088,380.7 L1090.5,382.7 L1093,384.4 L1095.5,385.6 L1098.1,386.4 L1100.6,386.6 L1103.1,386.2 L1105.7,385.5 L1108.2,384.6 L1110.7,383.8 L1113.2,383.2 L1115.8,383.1 L1118.3,383.7 L1120.8,385 L1123.3,387.2 L1125.8,390.1 L1128.4,393.7 L1130.9,397.9 L1133.4,402.5 L1136,407.6 L1138.5,413.3 L1141,424 M1040,424 L1042.5,415.1 L1045,410.1 L1047.6,405.9 L1050.1,402.2 L1052.6,399.2 L1055.2,397 L1057.7,395.6 L1060.2,395.1 L1062.7,395.2 L1065.2,395.8 L1067.8,396.7 L1070.3,397.5 L1072.8,398 L1075.3,398 L1077.9,397.4 L1080.4,396.1 L1082.9,394.2 L1085.5,391.9 L1088,389.3 L1090.5,386.9 L1093,384.8 L1095.5,383.4 L1098.1,382.8 L1100.6,383.2 L1103.1,384.5 L1105.7,386.6 L1108.2,389.3 L1110.7,392.3 L1113.2,395.5 L1115.8,398.4 L1118.3,401 L1120.8,403.1 L1123.3,404.7 L1125.8,405.8 L1128.4,406.8 L1130.9,407.7 L1133.4,409 L1136,411.1 L1138.5,414.6 L1141,424 M1040,424 L1042.5,417.1 L1045,414.9 L1047.6,413.8 L1050.1,413.3 L1052.6,413.1 L1055.2,412.8 L1057.7,412.1 L1060.2,410.8 L1062.7,408.9 L1065.2,406.4 L1067.8,403.5 L1070.3,400.5 L1072.8,397.7 L1075.3,395.5 L1077.9,394 L1080.4,393.6 L1082.9,394.1 L1085.5,395.6 L1088,397.7 L1090.5,400.2 L1093,402.8 L1095.5,405 L1098.1,406.6 L1100.6,407.4 L1103.1,407.4 L1105.7,406.6 L1108.2,405.3 L1110.7,403.7 L1113.2,402.1 L1115.8,401 L1118.3,400.5 L1120.8,400.8 L1123.3,402 L1125.8,404 L1128.4,406.7 L1130.9,409.7 L1133.4,412.9 L1136,416 L1138.5,419.1 L1141,424 M1040,424 L1042.5,422.4 L1045,421.3 L1047.6,419.9 L1050.1,418.2 L1052.6,416.2 L1055.2,414 L1057.7,411.7 L1060.2,409.7 L1062.7,408 L1065.2,406.8 L1067.8,406.3 L1070.3,406.5 L1072.8,407.4 L1075.3,408.8 L1077.9,410.6 L1080.4,412.6 L1082.9,414.5 L1085.5,416 L1088,417.1 L1090.5,417.6 L1093,417.4 L1095.5,416.5 L1098.1,415.1 L1100.6,413.3 L1103.1,411.4 L1105.7,409.5 L1108.2,408 L1110.7,406.9 L1113.2,406.5 L1115.8,406.8 L1118.3,407.8 L1120.8,409.3 L1123.3,411.3 L1125.8,413.5 L1128.4,415.8 L1130.9,417.8 L1133.4,419.6 L1136,421.1 L1138.5,422.3 L1141,424 M1040,424 L1042.5,421.7 L1045,420.3 L1047.6,419.5 L1050.1,419.2 L1052.6,419.6 L1055.2,420.5 L1057.7,421.9 L1060.2,423.5 L1062.7,425.2 L1065.2,426.6 L1067.8,427.5 L1070.3,427.7 L1072.8,427.2 L1075.3,425.9 L1077.9,424.1 L1080.4,421.8 L1082.9,419.4 L1085.5,417.2 L1088,415.3 L1090.5,414.2 L1093,413.8 L1095.5,414.3 L1098.1,415.6 L1100.6,417.5 L1103.1,419.7 L1105.7,422.1 L1108.2,424.2 L1110.7,426 L1113.2,427.1 L1115.8,427.4 L1118.3,427.1 L1120.8,426.2 L1123.3,424.9 L1125.8,423.5 L1128.4,422.1 L1130.9,421.1 L1133.4,420.6 L1136,420.7 L1138.5,421.5 L1141,424 M1040,424 L1042.5,426.6 L1045,428.5 L1047.6,430.3 L1050.1,431.7 L1052.6,432.6 L1055.2,432.7 L1057.7,432.1 L1060.2,430.8 L1062.7,429.2 L1065.2,427.4 L1067.8,425.8 L1070.3,424.7 L1072.8,424.4 L1075.3,424.9 L1077.9,426.2 L1080.4,428.2 L1082.9,430.7 L1085.5,433.3 L1088,435.7 L1090.5,437.6 L1093,438.6 L1095.5,438.6 L1098.1,437.7 L1100.6,436 L1103.1,433.7 L1105.7,431.1 L1108.2,428.6 L1110.7,426.5 L1113.2,425.1 L1115.8,424.4 L1118.3,424.5 L1120.8,425.2 L1123.3,426.4 L1125.8,427.8 L1128.4,429 L1130.9,429.7 L1133.4,429.8 L1136,429.2 L1138.5,427.7 L1141,424 M1040,424 L1042.5,429.2 L1045,430.8 L1047.6,431.4 L1050.1,431.6 L1052.6,431.5 L1055.2,431.5 L1057.7,431.7 L1060.2,432.4 L1062.7,433.5 L1065.2,435.2 L1067.8,437.3 L1070.3,439.7 L1072.8,442.2 L1075.3,444.6 L1077.9,446.7 L1080.4,448.2 L1082.9,449 L1085.5,449 L1088,448.3 L1090.5,446.9 L1093,444.9 L1095.5,442.6 L1098.1,440.3 L1100.6,438.1 L1103.1,436.2 L1105.7,434.8 L1108.2,434.1 L1110.7,434 L1113.2,434.4 L1115.8,435.2 L1118.3,436.2 L1120.8,437.2 L1123.3,437.9 L1125.8,438.2 L1128.4,438 L1130.9,437 L1133.4,435.4 L1136,433.1 L1138.5,430 L1141,424 M1040,424 L1042.5,429.5 L1045,432.6 L1047.6,435.6 L1050.1,438.7 L1052.6,442 L1055.2,445.2 L1057.7,448.1 L1060.2,450.6 L1062.7,452.4 L1065.2,453.4 L1067.8,453.5 L1070.3,452.9 L1072.8,451.7 L1075.3,450.1 L1077.9,448.4 L1080.4,446.9 L1082.9,445.9 L1085.5,445.5 L1088,445.8 L1090.5,446.8 L1093,448.5 L1095.5,450.5 L1098.1,452.6 L1100.6,454.6 L1103.1,456.1 L1105.7,456.9 L1108.2,456.9 L1110.7,456 L1113.2,454.2 L1115.8,451.8 L1118.3,449 L1120.8,445.9 L1123.3,442.8 L1125.8,440 L1128.4,437.5 L1130.9,435.5 L1133.4,433.7 L1136,432 L1138.5,429.8 L1141,424 M1040,424 L1042.5,435.4 L1045,440.8 L1047.6,444.6 L1050.1,447.2 L1052.6,448.8 L1055.2,449.6 L1057.7,449.9 L1060.2,450 L1062.7,450.1 L1065.2,450.7 L1067.8,451.8 L1070.3,453.7 L1072.8,456.2 L1075.3,459.1 L1077.9,462.3 L1080.4,465.4 L1082.9,467.9 L1085.5,469.7 L1088,470.5 L1090.5,470.2 L1093,468.9 L1095.5,466.7 L1098.1,464 L1100.6,461 L1103.1,458.1 L1105.7,455.6 L1108.2,453.8 L1110.7,452.7 L1113.2,452.3 L1115.8,452.4 L1118.3,452.8 L1120.8,453.1 L1123.3,453.1 L1125.8,452.4 L1128.4,450.9 L1130.9,448.4 L1133.4,444.9 L1136,440.4 L1138.5,434.8 L1141,424 M1040.0,424.0 C1041.2,420.7 1044.0,409.8 1047.0,404.0 C1050.0,398.2 1054.2,393.2 1058.0,389.0 C1061.8,384.8 1065.2,381.3 1070.0,379.0 C1074.8,376.7 1081.0,374.8 1087.0,375.0 C1093.0,375.2 1099.7,377.2 1106.0,380.0 C1112.3,382.8 1120.2,387.3 1125.0,392.0 C1129.8,396.7 1132.3,402.7 1135.0,408.0 C1137.7,413.3 1140.0,421.3 1141.0,424.0 M1040.0,424.0 C1040.8,427.8 1041.3,440.8 1045.0,447.0 C1048.7,453.2 1053.5,457.8 1062.0,461.0 C1070.5,464.2 1086.3,465.8 1096.0,466.0 C1105.7,466.2 1114.0,465.3 1120.0,462.0 C1126.0,458.7 1128.5,452.3 1132.0,446.0 C1135.5,439.7 1139.5,427.7 1141.0,424.0" fill="none" stroke="#6a5a80" stroke-opacity="0.35" stroke-width="3.6" stroke-linecap="round"/><path d="M1040,424 L1042.5,414.2 L1045,410.1 L1047.6,406.8 L1050.1,403.8 L1052.6,400.7 L1055.2,397.4 L1057.7,393.9 L1060.2,390.3 L1062.7,386.6 L1065.2,383.1 L1067.8,380 L1070.3,377.6 L1072.8,375.8 L1075.3,374.9 L1077.9,374.8 L1080.4,375.6 L1082.9,376.9 L1085.5,378.7 L1088,380.7 L1090.5,382.7 L1093,384.4 L1095.5,385.6 L1098.1,386.4 L1100.6,386.6 L1103.1,386.2 L1105.7,385.5 L1108.2,384.6 L1110.7,383.8 L1113.2,383.2 L1115.8,383.1 L1118.3,383.7 L1120.8,385 L1123.3,387.2 L1125.8,390.1 L1128.4,393.7 L1130.9,397.9 L1133.4,402.5 L1136,407.6 L1138.5,413.3 L1141,424 M1040,424 L1042.5,415.1 L1045,410.1 L1047.6,405.9 L1050.1,402.2 L1052.6,399.2 L1055.2,397 L1057.7,395.6 L1060.2,395.1 L1062.7,395.2 L1065.2,395.8 L1067.8,396.7 L1070.3,397.5 L1072.8,398 L1075.3,398 L1077.9,397.4 L1080.4,396.1 L1082.9,394.2 L1085.5,391.9 L1088,389.3 L1090.5,386.9 L1093,384.8 L1095.5,383.4 L1098.1,382.8 L1100.6,383.2 L1103.1,384.5 L1105.7,386.6 L1108.2,389.3 L1110.7,392.3 L1113.2,395.5 L1115.8,398.4 L1118.3,401 L1120.8,403.1 L1123.3,404.7 L1125.8,405.8 L1128.4,406.8 L1130.9,407.7 L1133.4,409 L1136,411.1 L1138.5,414.6 L1141,424 M1040,424 L1042.5,417.1 L1045,414.9 L1047.6,413.8 L1050.1,413.3 L1052.6,413.1 L1055.2,412.8 L1057.7,412.1 L1060.2,410.8 L1062.7,408.9 L1065.2,406.4 L1067.8,403.5 L1070.3,400.5 L1072.8,397.7 L1075.3,395.5 L1077.9,394 L1080.4,393.6 L1082.9,394.1 L1085.5,395.6 L1088,397.7 L1090.5,400.2 L1093,402.8 L1095.5,405 L1098.1,406.6 L1100.6,407.4 L1103.1,407.4 L1105.7,406.6 L1108.2,405.3 L1110.7,403.7 L1113.2,402.1 L1115.8,401 L1118.3,400.5 L1120.8,400.8 L1123.3,402 L1125.8,404 L1128.4,406.7 L1130.9,409.7 L1133.4,412.9 L1136,416 L1138.5,419.1 L1141,424 M1040,424 L1042.5,422.4 L1045,421.3 L1047.6,419.9 L1050.1,418.2 L1052.6,416.2 L1055.2,414 L1057.7,411.7 L1060.2,409.7 L1062.7,408 L1065.2,406.8 L1067.8,406.3 L1070.3,406.5 L1072.8,407.4 L1075.3,408.8 L1077.9,410.6 L1080.4,412.6 L1082.9,414.5 L1085.5,416 L1088,417.1 L1090.5,417.6 L1093,417.4 L1095.5,416.5 L1098.1,415.1 L1100.6,413.3 L1103.1,411.4 L1105.7,409.5 L1108.2,408 L1110.7,406.9 L1113.2,406.5 L1115.8,406.8 L1118.3,407.8 L1120.8,409.3 L1123.3,411.3 L1125.8,413.5 L1128.4,415.8 L1130.9,417.8 L1133.4,419.6 L1136,421.1 L1138.5,422.3 L1141,424 M1040,424 L1042.5,421.7 L1045,420.3 L1047.6,419.5 L1050.1,419.2 L1052.6,419.6 L1055.2,420.5 L1057.7,421.9 L1060.2,423.5 L1062.7,425.2 L1065.2,426.6 L1067.8,427.5 L1070.3,427.7 L1072.8,427.2 L1075.3,425.9 L1077.9,424.1 L1080.4,421.8 L1082.9,419.4 L1085.5,417.2 L1088,415.3 L1090.5,414.2 L1093,413.8 L1095.5,414.3 L1098.1,415.6 L1100.6,417.5 L1103.1,419.7 L1105.7,422.1 L1108.2,424.2 L1110.7,426 L1113.2,427.1 L1115.8,427.4 L1118.3,427.1 L1120.8,426.2 L1123.3,424.9 L1125.8,423.5 L1128.4,422.1 L1130.9,421.1 L1133.4,420.6 L1136,420.7 L1138.5,421.5 L1141,424 M1040,424 L1042.5,426.6 L1045,428.5 L1047.6,430.3 L1050.1,431.7 L1052.6,432.6 L1055.2,432.7 L1057.7,432.1 L1060.2,430.8 L1062.7,429.2 L1065.2,427.4 L1067.8,425.8 L1070.3,424.7 L1072.8,424.4 L1075.3,424.9 L1077.9,426.2 L1080.4,428.2 L1082.9,430.7 L1085.5,433.3 L1088,435.7 L1090.5,437.6 L1093,438.6 L1095.5,438.6 L1098.1,437.7 L1100.6,436 L1103.1,433.7 L1105.7,431.1 L1108.2,428.6 L1110.7,426.5 L1113.2,425.1 L1115.8,424.4 L1118.3,424.5 L1120.8,425.2 L1123.3,426.4 L1125.8,427.8 L1128.4,429 L1130.9,429.7 L1133.4,429.8 L1136,429.2 L1138.5,427.7 L1141,424 M1040,424 L1042.5,429.2 L1045,430.8 L1047.6,431.4 L1050.1,431.6 L1052.6,431.5 L1055.2,431.5 L1057.7,431.7 L1060.2,432.4 L1062.7,433.5 L1065.2,435.2 L1067.8,437.3 L1070.3,439.7 L1072.8,442.2 L1075.3,444.6 L1077.9,446.7 L1080.4,448.2 L1082.9,449 L1085.5,449 L1088,448.3 L1090.5,446.9 L1093,444.9 L1095.5,442.6 L1098.1,440.3 L1100.6,438.1 L1103.1,436.2 L1105.7,434.8 L1108.2,434.1 L1110.7,434 L1113.2,434.4 L1115.8,435.2 L1118.3,436.2 L1120.8,437.2 L1123.3,437.9 L1125.8,438.2 L1128.4,438 L1130.9,437 L1133.4,435.4 L1136,433.1 L1138.5,430 L1141,424 M1040,424 L1042.5,429.5 L1045,432.6 L1047.6,435.6 L1050.1,438.7 L1052.6,442 L1055.2,445.2 L1057.7,448.1 L1060.2,450.6 L1062.7,452.4 L1065.2,453.4 L1067.8,453.5 L1070.3,452.9 L1072.8,451.7 L1075.3,450.1 L1077.9,448.4 L1080.4,446.9 L1082.9,445.9 L1085.5,445.5 L1088,445.8 L1090.5,446.8 L1093,448.5 L1095.5,450.5 L1098.1,452.6 L1100.6,454.6 L1103.1,456.1 L1105.7,456.9 L1108.2,456.9 L1110.7,456 L1113.2,454.2 L1115.8,451.8 L1118.3,449 L1120.8,445.9 L1123.3,442.8 L1125.8,440 L1128.4,437.5 L1130.9,435.5 L1133.4,433.7 L1136,432 L1138.5,429.8 L1141,424 M1040,424 L1042.5,435.4 L1045,440.8 L1047.6,444.6 L1050.1,447.2 L1052.6,448.8 L1055.2,449.6 L1057.7,449.9 L1060.2,450 L1062.7,450.1 L1065.2,450.7 L1067.8,451.8 L1070.3,453.7 L1072.8,456.2 L1075.3,459.1 L1077.9,462.3 L1080.4,465.4 L1082.9,467.9 L1085.5,469.7 L1088,470.5 L1090.5,470.2 L1093,468.9 L1095.5,466.7 L1098.1,464 L1100.6,461 L1103.1,458.1 L1105.7,455.6 L1108.2,453.8 L1110.7,452.7 L1113.2,452.3 L1115.8,452.4 L1118.3,452.8 L1120.8,453.1 L1123.3,453.1 L1125.8,452.4 L1128.4,450.9 L1130.9,448.4 L1133.4,444.9 L1136,440.4 L1138.5,434.8 L1141,424 M1040.0,424.0 C1041.2,420.7 1044.0,409.8 1047.0,404.0 C1050.0,398.2 1054.2,393.2 1058.0,389.0 C1061.8,384.8 1065.2,381.3 1070.0,379.0 C1074.8,376.7 1081.0,374.8 1087.0,375.0 C1093.0,375.2 1099.7,377.2 1106.0,380.0 C1112.3,382.8 1120.2,387.3 1125.0,392.0 C1129.8,396.7 1132.3,402.7 1135.0,408.0 C1137.7,413.3 1140.0,421.3 1141.0,424.0 M1040.0,424.0 C1040.8,427.8 1041.3,440.8 1045.0,447.0 C1048.7,453.2 1053.5,457.8 1062.0,461.0 C1070.5,464.2 1086.3,465.8 1096.0,466.0 C1105.7,466.2 1114.0,465.3 1120.0,462.0 C1126.0,458.7 1128.5,452.3 1132.0,446.0 C1135.5,439.7 1139.5,427.7 1141.0,424.0" fill="none" stroke="url(#glyU)" stroke-width="2.6" stroke-linecap="round"/><rect x="628" y="530.6" width="552" height="1.3" fill="#ffffff" opacity="0.65"/></g>
</g>

<!-- panel texts -->
<g font-size="14">
<text x="42.5" y="297.5" textLength="127" lengthAdjust="spacingAndGlyphs">Neurovascular unit</text>
<text x="248" y="297.5" textLength="83" lengthAdjust="spacingAndGlyphs">Healthy BBB</text>
<text x="461" y="297.5" textLength="28" lengthAdjust="spacingAndGlyphs">CBF</text>
<text x="671" y="297.5" textLength="97" lengthAdjust="spacingAndGlyphs">Neurovascular</text>
<text x="680.5" y="313.5" textLength="77.5" lengthAdjust="spacingAndGlyphs">uncoupling</text>
<text x="850" y="298" textLength="106" lengthAdjust="spacingAndGlyphs">BBB breakdown</text>
<text x="1047" y="298" textLength="80" lengthAdjust="spacingAndGlyphs">Glymphatic</text>
<text x="1046.5" y="314.5" textLength="81" lengthAdjust="spacingAndGlyphs">dysfunction</text>
<text x="1006" y="346.6" textLength="73" lengthAdjust="spacingAndGlyphs">Periarterial</text>
<text x="1099" y="346.6" textLength="73.5" lengthAdjust="spacingAndGlyphs">Perivenous</text>
<text x="388.5" y="502.6" textLength="38" lengthAdjust="spacingAndGlyphs">AQP4</text>
<text x="648" y="523.4" textLength="143.5" lengthAdjust="spacingAndGlyphs">Neurofibrillary tangle</text>
<text x="875" y="448.2" textLength="84" lengthAdjust="spacingAndGlyphs">Leaky vessel</text>
<text x="866.5" y="523.5" textLength="100.5" lengthAdjust="spacingAndGlyphs">Decreased CBF</text>
<text x="1041.5" y="523.8" textLength="97" lengthAdjust="spacingAndGlyphs">Turbulent flow</text>
</g>
<g font-size="11">
<text x="725.3" y="337.4" textLength="53.5" lengthAdjust="spacingAndGlyphs">Activated</text>
<text x="725.3" y="354.5" textLength="52.5" lengthAdjust="spacingAndGlyphs">microglia</text>
<text x="746.3" y="394.4" textLength="48.5" lengthAdjust="spacingAndGlyphs">Reactive</text>
<text x="746.3" y="411.8" textLength="58.5" lengthAdjust="spacingAndGlyphs">astrocytes</text>
<text x="739.2" y="456.5" textLength="59.5" lengthAdjust="spacingAndGlyphs">Amyloid-β</text>
<text x="739.2" y="472.6" textLength="39.5" lengthAdjust="spacingAndGlyphs">plaque</text>
</g>

<!-- box borders & dividers -->
<g fill="none" stroke="#1a1a1a">
<rect x="14" y="281.5" width="551.5" height="254" stroke-width="2"/>
<rect x="628" y="281.5" width="552" height="254" stroke-width="2"/>
<g stroke-width="1.8" stroke-dasharray="5 3.9" stroke-dashoffset="3.6">
<line x1="196.5" y1="283" x2="196.5" y2="535"/>
<line x1="380.1" y1="283" x2="380.1" y2="535"/>
<line x1="810.1" y1="283" x2="810.1" y2="535"/>
<line x1="995.5" y1="283" x2="995.5" y2="535"/>
</g>
</g>

<!-- LEGEND -->
<rect x="42.5" y="569.5" width="1111" height="97" fill="none" stroke="#555" stroke-width="1.4"/>
<g font-size="14">
<text x="73" y="590" textLength="49.5" lengthAdjust="spacingAndGlyphs">Neuron</text>
<text x="163" y="590" textLength="64.5" lengthAdjust="spacingAndGlyphs">Astrocyte</text>
<text x="251" y="590" textLength="115.5" lengthAdjust="spacingAndGlyphs">Oligodendrocyte</text>
<text x="389.5" y="590" textLength="63" lengthAdjust="spacingAndGlyphs">Microglia</text>
<text x="485" y="590" textLength="55" lengthAdjust="spacingAndGlyphs">Pericyte</text>
<text x="581" y="590" textLength="77.5" lengthAdjust="spacingAndGlyphs">Endothelial</text>
<text x="606.5" y="606.6" textLength="25.5" lengthAdjust="spacingAndGlyphs">cell</text>
<text x="715.5" y="590" textLength="53" lengthAdjust="spacingAndGlyphs">Smooth</text>
<text x="703.5" y="606.6" textLength="77.5" lengthAdjust="spacingAndGlyphs">muscle cell</text>
<text x="816" y="590" textLength="96.5" lengthAdjust="spacingAndGlyphs">Vascular basal</text>
<text x="840.5" y="607" textLength="46" lengthAdjust="spacingAndGlyphs">lamina</text>
<text x="947" y="590" textLength="71" lengthAdjust="spacingAndGlyphs">Glial basal</text>
<text x="960" y="607" textLength="45.5" lengthAdjust="spacingAndGlyphs">lamina</text>
<text x="1057.5" y="590" textLength="76" lengthAdjust="spacingAndGlyphs">Endothelial</text>
<text x="1053.5" y="607" textLength="84.5" lengthAdjust="spacingAndGlyphs">basal lamina</text>
</g>
<g stroke-width="4.3">
<line x1="835.5" y1="627" x2="892.5" y2="627" stroke="#a8896f"/>
<line x1="954" y1="627" x2="1011.5" y2="627" stroke="#9d95cf"/>
<line x1="1065.5" y1="627" x2="1123.5" y2="627" stroke="#c0444a"/>
</g>
<g transform="translate(110.5,623.5)"><g fill="#6fa7da" stroke="#6fa7da" stroke-width="0.01"><path d="M1.7,-2.0 L1.5,-2.1 L1.2,-2.3 L0.7,-2.8 L-0.1,-3.3 L-1.1,-3.8 L-2.2,-4.2 L-3.5,-4.5 L-4.9,-4.8 L-6.4,-5.1 L-8.1,-5.4 L-9.9,-5.6 L-11.7,-5.8 L-13.7,-6.0 L-15.9,-6.1 L-18.1,-6.3 L-20.5,-6.4 L-22.7,-6.5 L-24.9,-6.7 L-27.1,-6.8 L-29.5,-6.9 L-31.8,-7.0 L-33.9,-7.1 L-35.7,-7.1 L-37.0,-7.2 L-37.0,-4.8 L-35.7,-4.8 L-34.0,-4.7 L-31.9,-4.7 L-29.6,-4.6 L-27.3,-4.5 L-25.1,-4.3 L-23.0,-4.1 L-20.7,-3.8 L-18.5,-3.4 L-16.3,-3.0 L-14.2,-2.6 L-12.3,-2.2 L-10.5,-1.8 L-8.9,-1.4 L-7.3,-1.0 L-5.9,-0.5 L-4.7,-0.1 L-3.8,0.2 L-3.2,0.5 L-2.8,0.8 L-2.5,1.0 L-2.3,1.3 L-2.0,1.6 L-1.7,2.0Z"/><path d="M1.7,0.0 L1.6,-0.5 L1.6,-1.2 L1.5,-2.0 L1.5,-2.9 L1.4,-3.9 L1.3,-5.0 L1.2,-6.2 L1.1,-7.5 L1.0,-8.9 L0.9,-10.4 L0.8,-11.7 L0.8,-13.0 L0.8,-14.2 L0.8,-15.4 L0.8,-16.5 L0.8,-17.5 L0.8,-18.4 L0.8,-19.0 L-0.8,-19.0 L-0.8,-18.4 L-0.8,-17.5 L-0.8,-16.5 L-0.8,-15.4 L-0.8,-14.2 L-0.8,-13.0 L-0.8,-11.7 L-0.9,-10.4 L-1.0,-8.9 L-1.1,-7.5 L-1.2,-6.2 L-1.3,-5.0 L-1.4,-3.9 L-1.5,-2.9 L-1.5,-2.0 L-1.6,-1.2 L-1.6,-0.5 L-1.7,0.0Z"/><path d="M0.8,1.5 L1.3,1.1 L2.0,0.7 L2.8,0.1 L3.8,-0.5 L4.7,-1.2 L5.7,-1.9 L6.8,-2.7 L7.9,-3.6 L9.0,-4.6 L10.1,-5.6 L11.3,-6.5 L12.4,-7.4 L13.6,-8.1 L15.0,-8.9 L16.3,-9.6 L17.6,-10.3 L18.6,-10.9 L19.4,-11.3 L18.6,-12.7 L17.9,-12.2 L16.8,-11.7 L15.6,-11.0 L14.2,-10.2 L12.9,-9.4 L11.6,-8.6 L10.3,-7.9 L9.0,-7.1 L7.8,-6.3 L6.5,-5.5 L5.3,-4.7 L4.3,-4.1 L3.3,-3.5 L2.2,-3.0 L1.3,-2.5 L0.4,-2.1 L-0.3,-1.7 L-0.8,-1.5Z"/><path d="M-0.2,1.7 L0.4,1.7 L1.3,1.8 L2.3,1.8 L3.4,1.9 L4.5,2.1 L5.7,2.2 L6.9,2.5 L8.2,2.8 L9.6,3.2 L11.1,3.6 L12.5,3.9 L13.8,4.2 L15.2,4.5 L16.6,4.7 L17.9,4.9 L19.1,5.1 L20.2,5.2 L20.9,5.3 L21.1,3.7 L20.3,3.6 L19.3,3.5 L18.1,3.4 L16.8,3.2 L15.4,3.0 L14.2,2.8 L12.9,2.4 L11.6,1.9 L10.3,1.3 L8.9,0.7 L7.6,0.2 L6.3,-0.2 L5.1,-0.6 L3.9,-0.9 L2.7,-1.2 L1.7,-1.4 L0.9,-1.5 L0.2,-1.7Z"/><path d="M-1.4,-1.0 L-1.7,-0.5 L-2.0,0.1 L-2.4,0.8 L-2.8,1.6 L-3.4,2.3 L-3.9,3.1 L-4.7,3.9 L-5.5,4.7 L-6.5,5.7 L-7.5,6.6 L-8.5,7.5 L-9.5,8.4 L-10.5,9.2 L-11.7,10.1 L-12.8,10.9 L-13.9,11.7 L-14.8,12.4 L-15.5,12.9 L-14.5,14.1 L-13.9,13.6 L-13.0,13.0 L-11.9,12.2 L-10.8,11.3 L-9.6,10.4 L-8.5,9.6 L-7.4,8.9 L-6.3,8.1 L-5.1,7.3 L-4.0,6.5 L-3.0,5.7 L-2.1,4.9 L-1.2,4.1 L-0.5,3.3 L0.1,2.6 L0.7,1.9 L1.1,1.3 L1.4,1.0Z"/><path d="M-1.6,0.4 L-1.5,0.9 L-1.3,1.5 L-1.1,2.3 L-0.8,3.1 L-0.6,4.1 L-0.3,5.2 L-0.1,6.4 L0.2,7.9 L0.5,9.4 L0.8,11.0 L1.0,12.6 L1.2,14.1 L1.4,15.5 L1.5,17.1 L1.5,18.6 L1.6,20.0 L1.7,21.2 L1.7,22.0 L3.3,22.0 L3.2,21.1 L3.2,19.9 L3.1,18.5 L3.0,17.0 L2.9,15.4 L2.8,13.9 L2.7,12.4 L2.6,10.8 L2.6,9.2 L2.5,7.6 L2.4,6.1 L2.3,4.8 L2.2,3.6 L2.1,2.6 L2.0,1.6 L1.8,0.8 L1.7,0.1 L1.6,-0.4Z"/></g><g fill="none" stroke="#6fa7da" stroke-linecap="round" stroke-linejoin="round"><path d="M-3.0,-2.0 C-4.5,-2.3 -8.3,-3.4 -12.0,-4.0 C-15.7,-4.6 -20.8,-5.2 -25.0,-5.5 C-29.2,-5.8 -35.0,-5.9 -37.0,-6.0" stroke-width="2.3"/><path d="M-37.0,-6.0 C-38.2,-6.7 -41.5,-8.8 -44.0,-10.0 C-46.5,-11.2 -50.7,-12.5 -52.0,-13.0" stroke-width="1.4"/><path d="M-44,-10 L-45,-15" stroke-width="1.2"/><path d="M-48,-11.5 L-50,-7.5" stroke-width="1.2"/><path d="M-37.0,-6.0 C-38.0,-5.2 -40.8,-2.8 -43.0,-1.0 C-45.2,0.8 -48.8,4.0 -50.0,5.0" stroke-width="1.4"/><path d="M-46,2 L-45,6.5" stroke-width="1.2"/><path d="M-44,-0.5 L-48,-3" stroke-width="1.1"/><path d="M-37.0,-6.0 C-37.1,-7.2 -37.3,-11.0 -37.5,-13.0 C-37.7,-15.0 -37.9,-17.2 -38.0,-18.0" stroke-width="1.4"/><path d="M-38,-15 L-41,-20.5" stroke-width="1.1"/><path d="M-38,-14 L-31,-19" stroke-width="1.2"/><path d="M0.0,-5.0 C0.0,-6.3 0.0,-10.7 0.0,-13.0 C0.0,-15.3 0.0,-18.0 0.0,-19.0" stroke-width="1.5"/><path d="M0,-14 L-2.5,-20" stroke-width="1.1"/><path d="M0,-14 L3.5,-19" stroke-width="1.1"/><path d="M5.0,-3.0 C6.2,-3.8 9.7,-6.5 12.0,-8.0 C14.3,-9.5 17.8,-11.3 19.0,-12.0" stroke-width="1.5"/><path d="M14,-9 L19,-8" stroke-width="1.1"/><path d="M17,-11 L17,-15" stroke-width="1.1"/><path d="M6.0,1.0 C7.3,1.4 11.5,2.9 14.0,3.5 C16.5,4.1 19.8,4.3 21.0,4.5" stroke-width="1.5"/><path d="M19,4.5 L21,1" stroke-width="1.1"/><path d="M-3.0,4.0 C-4.0,4.8 -7.0,7.4 -9.0,9.0 C-11.0,10.6 -14.0,12.8 -15.0,13.5" stroke-width="1.5"/><path d="M-11,11 L-12,7" stroke-width="1.1"/><path d="M1.0,5.0 C1.2,6.5 1.8,11.2 2.0,14.0 C2.2,16.8 2.4,20.7 2.5,22.0" stroke-width="1.5"/><path d="M2,17 L-2,23" stroke-width="1.1"/><path d="M2,17 L6,22" stroke-width="1.1"/></g><path d="M6.8,1.8 C6.3,3.6 3.6,5.6 1.6,6.1 C-0.3,6.6 -3.7,6.2 -4.9,4.9 C-6.2,3.7 -6.6,0.3 -6.1,-1.6 C-5.6,-3.6 -3.6,-6.3 -1.8,-6.8 C-0.1,-7.2 3.0,-5.9 4.5,-4.5 C5.9,-3.0 7.2,0.1 6.8,1.8Z" fill="#7fb8e8" stroke="#6fa7da" stroke-width="0.8"/><circle r="3.4" fill="#4a87c6"/></g>
<g transform="translate(191.3,625.3)"><g fill="#8d84c8" stroke="#8d84c8" stroke-width="0.01"><path d="M1.5,-1.5 L1.0,-1.9 L0.4,-2.4 L-0.3,-3.0 L-1.1,-3.7 L-1.9,-4.4 L-2.7,-5.2 L-3.6,-6.0 L-4.5,-6.9 L-5.4,-7.8 L-6.3,-8.8 L-7.1,-9.7 L-7.9,-10.7 L-8.5,-11.7 L-9.0,-12.8 L-9.5,-14.0 L-10.1,-15.2 L-10.6,-16.4 L-11.2,-17.5 L-11.9,-18.4 L-12.6,-19.3 L-13.3,-20.0 L-14.0,-20.6 L-14.7,-21.2 L-15.4,-21.8 L-16.2,-22.3 L-17.0,-22.8 L-17.8,-23.3 L-18.5,-23.7 L-19.1,-24.1 L-19.5,-24.3 L-20.5,-22.7 L-20.0,-22.4 L-19.4,-22.1 L-18.7,-21.7 L-18.0,-21.2 L-17.3,-20.8 L-16.6,-20.2 L-15.9,-19.7 L-15.2,-19.2 L-14.6,-18.6 L-14.0,-18.0 L-13.4,-17.3 L-12.8,-16.5 L-12.3,-15.6 L-11.9,-14.5 L-11.6,-13.3 L-11.2,-12.0 L-10.7,-10.6 L-10.1,-9.3 L-9.4,-8.1 L-8.6,-6.9 L-7.7,-5.8 L-6.9,-4.7 L-6.0,-3.7 L-5.3,-2.8 L-4.6,-1.9 L-3.8,-1.0 L-3.1,-0.2 L-2.4,0.5 L-1.8,1.1 L-1.5,1.5Z"/><path d="M1.5,1.5 L1.8,1.1 L2.3,0.5 L2.9,-0.1 L3.6,-0.9 L4.4,-1.7 L5.3,-2.8 L6.3,-4.0 L7.6,-5.4 L8.9,-7.0 L10.2,-8.5 L11.5,-9.9 L12.7,-11.1 L13.8,-12.0 L14.9,-12.9 L16.0,-13.5 L17.0,-14.1 L18.2,-14.6 L19.3,-15.1 L20.6,-15.6 L22.1,-16.0 L23.6,-16.3 L25.1,-16.6 L26.3,-16.9 L27.2,-17.1 L26.8,-18.9 L25.9,-18.7 L24.7,-18.5 L23.2,-18.2 L21.7,-17.8 L20.1,-17.4 L18.7,-16.9 L17.4,-16.4 L16.2,-15.8 L15.0,-15.2 L13.8,-14.5 L12.6,-13.8 L11.3,-12.9 L9.8,-11.8 L8.3,-10.4 L6.7,-9.0 L5.3,-7.6 L3.9,-6.3 L2.7,-5.2 L1.7,-4.4 L0.9,-3.6 L0.1,-2.9 L-0.5,-2.3 L-1.1,-1.8 L-1.5,-1.5Z"/><path d="M-1.4,-1.7 L-1.8,-1.3 L-2.4,-0.8 L-3.2,-0.0 L-4.1,0.9 L-4.9,1.9 L-5.6,3.2 L-6.1,4.6 L-6.4,6.1 L-6.6,7.6 L-6.8,9.1 L-6.9,10.5 L-7.1,11.7 L-7.4,12.8 L-7.6,13.8 L-8.0,14.8 L-8.3,15.8 L-8.6,16.7 L-8.9,17.7 L-9.3,18.7 L-9.6,19.8 L-10.0,20.8 L-10.3,21.8 L-10.6,22.6 L-10.8,23.2 L-8.8,23.8 L-8.7,23.2 L-8.4,22.4 L-8.1,21.4 L-7.7,20.4 L-7.4,19.3 L-7.1,18.3 L-6.7,17.4 L-6.4,16.4 L-6.1,15.5 L-5.7,14.5 L-5.3,13.4 L-4.9,12.3 L-4.5,11.0 L-4.1,9.6 L-3.7,8.2 L-3.3,6.8 L-2.8,5.7 L-2.4,4.8 L-1.9,4.2 L-1.3,3.6 L-0.6,3.0 L0.2,2.5 L0.9,2.1 L1.4,1.7Z"/><path d="M-2.0,0.7 L-1.7,1.2 L-1.3,2.0 L-0.9,2.8 L-0.4,3.8 L0.1,4.8 L0.7,5.7 L1.2,6.5 L1.8,7.3 L2.5,8.2 L3.1,9.0 L3.7,9.7 L4.2,10.5 L4.8,11.3 L5.4,12.1 L5.9,12.9 L6.5,13.6 L6.9,14.2 L7.2,14.6 L8.8,13.4 L8.4,13.0 L8.0,12.4 L7.4,11.7 L6.9,11.0 L6.3,10.2 L5.8,9.5 L5.3,8.7 L4.8,7.9 L4.4,7.0 L4.0,6.1 L3.7,5.2 L3.3,4.3 L3.0,3.5 L2.8,2.5 L2.5,1.5 L2.3,0.6 L2.1,-0.2 L2.0,-0.7Z"/><path d="M-0.6,2.1 L-0.1,2.2 L0.6,2.4 L1.5,2.6 L2.5,2.8 L3.7,2.9 L5.1,2.9 L6.5,2.7 L8.0,2.3 L9.4,1.9 L10.7,1.5 L11.7,1.4 L12.5,1.5 L13.2,1.8 L14.0,2.4 L14.8,3.3 L15.6,4.3 L16.3,5.4 L17.0,6.5 L17.5,7.6 L17.9,8.7 L18.2,10.0 L18.5,11.3 L18.7,12.7 L19.0,14.2 L19.3,15.8 L19.6,17.6 L19.9,19.4 L20.1,21.1 L20.4,22.6 L20.5,23.6 L22.5,23.4 L22.3,22.3 L22.1,20.8 L21.9,19.1 L21.6,17.3 L21.3,15.4 L21.0,13.8 L20.7,12.4 L20.5,11.0 L20.2,9.6 L19.9,8.2 L19.5,6.8 L19.0,5.5 L18.4,4.2 L17.8,2.9 L17.0,1.6 L16.0,0.4 L14.9,-0.6 L13.5,-1.5 L11.9,-1.8 L10.2,-1.8 L8.6,-1.5 L7.1,-1.2 L5.9,-1.0 L4.9,-0.9 L4.1,-1.1 L3.3,-1.2 L2.5,-1.5 L1.8,-1.7 L1.1,-2.0 L0.6,-2.1Z"/></g><g fill="none" stroke="#8d84c8" stroke-linecap="round" stroke-linejoin="round"><path d="M-4.0,-4.0 C-4.8,-5.0 -7.7,-7.8 -9.0,-10.0 C-10.3,-12.2 -10.8,-15.2 -12.0,-17.0 C-13.2,-18.8 -14.7,-19.9 -16.0,-21.0 C-17.3,-22.1 -19.3,-23.1 -20.0,-23.5" stroke-width="1.9"/><path d="M-12.0,-17.0 C-11.5,-17.7 -10.2,-19.8 -9.0,-21.0 C-7.8,-22.2 -5.2,-23.9 -4.5,-24.5" stroke-width="1.7"/><path d="M4.0,-4.0 C5.3,-5.3 9.5,-10.0 12.0,-12.0 C14.5,-14.0 16.5,-15.0 19.0,-16.0 C21.5,-17.0 25.7,-17.7 27.0,-18.0" stroke-width="1.9"/><path d="M13.0,-13.0 C13.3,-13.8 14.6,-16.3 15.0,-18.0 C15.4,-19.7 15.4,-22.2 15.5,-23.0" stroke-width="1.6"/><path d="M-4.0,4.0 C-4.3,5.3 -5.3,9.7 -6.0,12.0 C-6.7,14.3 -7.4,16.1 -8.0,18.0 C-8.6,19.9 -9.5,22.6 -9.8,23.5" stroke-width="2"/><path d="M2.0,5.0 C2.5,5.8 4.0,8.5 5.0,10.0 C6.0,11.5 7.5,13.3 8.0,14.0" stroke-width="1.9"/><path d="M8.0,14.0 C7.2,14.5 4.4,15.5 3.0,17.0 C1.6,18.5 0.1,22.0 -0.5,23.0" stroke-width="1.8"/><path d="M8.0,14.0 C8.5,14.7 10.2,16.5 11.0,18.0 C11.8,19.5 12.6,22.2 12.9,23.0" stroke-width="1.8"/><path d="M5.0,1.0 C6.3,0.8 10.8,-0.8 13.0,0.0 C15.2,0.8 16.8,3.7 18.0,6.0 C19.2,8.3 19.4,11.1 20.0,14.0 C20.6,16.9 21.2,21.9 21.5,23.5" stroke-width="2"/></g><rect x="-15.6" y="22.6" width="42.6" height="3" rx="1" fill="#8d84c8"/><path d="M5.4,1.4 C5.0,2.9 2.9,4.4 1.3,4.9 C-0.3,5.3 -2.9,5.0 -4.0,4.0 C-5.0,2.9 -5.3,0.3 -4.9,-1.3 C-4.4,-2.9 -2.9,-5.0 -1.4,-5.4 C-0.0,-5.8 2.4,-4.7 3.6,-3.6 C4.7,-2.4 5.8,0.0 5.4,1.4Z" fill="#9b91d3" stroke="#8d84c8" stroke-width="0.8"/><circle r="2.8" fill="#6e5eb3"/></g>
<g transform="translate(309.5,625.4)"><g fill="none" stroke="#5e9f4e" stroke-linecap="round" stroke-linejoin="round"><path d="M-8.0,-4.0 C-8.7,-5.0 -10.5,-8.3 -12.0,-10.0 C-13.5,-11.7 -14.5,-13.1 -17.0,-14.0 C-19.5,-14.9 -23.2,-15.2 -27.0,-15.5 C-30.8,-15.8 -37.8,-15.5 -40.0,-15.5" stroke-width="2"/><path d="M-7.0,5.0 C-8.5,5.5 -13.0,7.0 -16.0,8.0 C-19.0,9.0 -21.0,10.4 -25.0,11.0 C-29.0,11.6 -37.5,11.4 -40.0,11.5" stroke-width="2"/><path d="M-25.0,11.0 C-26.3,11.8 -30.8,14.8 -33.0,16.0 C-35.2,17.2 -37.2,17.7 -38.0,18.0" stroke-width="1.8"/><path d="M2.0,8.0 C2.2,9.7 3.0,14.2 3.0,18.0 C3.0,21.8 2.2,28.8 2.0,31.0" stroke-width="2"/><path d="M3,19 L8,26" stroke-width="1.8"/><path d="M6.0,6.0 C7.2,7.2 10.3,11.2 13.0,13.0 C15.7,14.8 18.7,16.0 22.0,17.0 C25.3,18.0 31.2,18.7 33.0,19.0" stroke-width="2"/><path d="M8.0,-1.0 C9.5,-1.5 14.3,-3.2 17.0,-4.0 C19.7,-4.8 22.8,-5.7 24.0,-6.0" stroke-width="2"/><path d="M19,-5 L27,-3.5" stroke-width="1.8"/></g><circle r="8.6" fill="#7cc46b" stroke="#5e9f4e" stroke-width="0.9"/><circle cx="0.5" cy="0.5" r="4.8" fill="#69b458" opacity="0.8"/></g>
<g transform="translate(418.9,629.7)"><path d="M-8.2,-3.8 L-8.7,-8.4 L-9.7,-7.1 L-5.1,-7.4 L-7.1,-5.5 L-12.9,-18.4 L-14.2,-17.5 L-3.3,-8.4 L-3.8,-8.2 L-1.2,-11.8 L-2.7,-11.5 L0.9,-9 L4.9,-7.6 L18.5,-15.4 L17.4,-16.6 L8.1,-4 L7.9,-4.3 L19.1,-3.6 L18.7,-5.1 L9,0.4 L9,-0.9 L16.4,3.7 L16.6,2.1 L8.1,3.9 L7.5,4.9 L14,17 L15.1,16 L3.9,8.1 L-1.8,8.8 L-8.5,14.7 L-7,15.4 L-6.1,6.6 L-6.9,5.8 L-22.6,9.5 L-22,10.9 L-8.9,1.4Z" fill="#f0d47f" stroke="#d5b65e" stroke-width="1.1" stroke-linejoin="round"/><g stroke="#d5b65e" stroke-width="1.6" stroke-linecap="round"><path d="M-9.5,-12.5 L-12.5,-10.5"/><path d="M13,-12 L12,-15"/><path d="M-15,7 L-15.5,10.5"/><path d="M15.5,12.5 L12.5,13.5"/></g><ellipse cx="-1" cy="0.5" rx="3.8" ry="4.2" fill="#e0ae48"/></g>
<path d="M480.5,632 C488,631 495,626 502,621.5 C507,618.5 515,618.5 520,621.5 C527,626 534,630.5 541,632 L541,633 L480.5,633Z" fill="#f2b077" stroke="#e39a5e" stroke-width="0.9"/>
<ellipse cx="511" cy="626.5" rx="4.5" ry="2.8" fill="#e99c63"/>
<path d="M590,630 C590,628 592,627 596,627 C602,627 606,624 612,621 C617,618.5 624,618.5 629,621 C635,624 639,627 646,627 C651,627 653,628.5 653,631 C653,634 651,635.5 646,635.5 L596,635.5 C592,635.5 590,633.5 590,630Z" fill="#f5c5c1" stroke="#de9d98" stroke-width="1"/>
<ellipse cx="620.5" cy="626.5" rx="6" ry="3.6" fill="#e9a6a2"/>
<path d="M712,626 C725,619 735,618 743,618 C752,618 762,620 774,626 C762,632 752,634.5 743,634.5 C735,634.5 725,633 712,626Z" fill="#dcd7f1" stroke="#aaa3d8" stroke-width="1"/>
<ellipse cx="742.5" cy="626.5" rx="7" ry="3.5" fill="#cbc4ea"/>
</svg>
</div></body></html>
